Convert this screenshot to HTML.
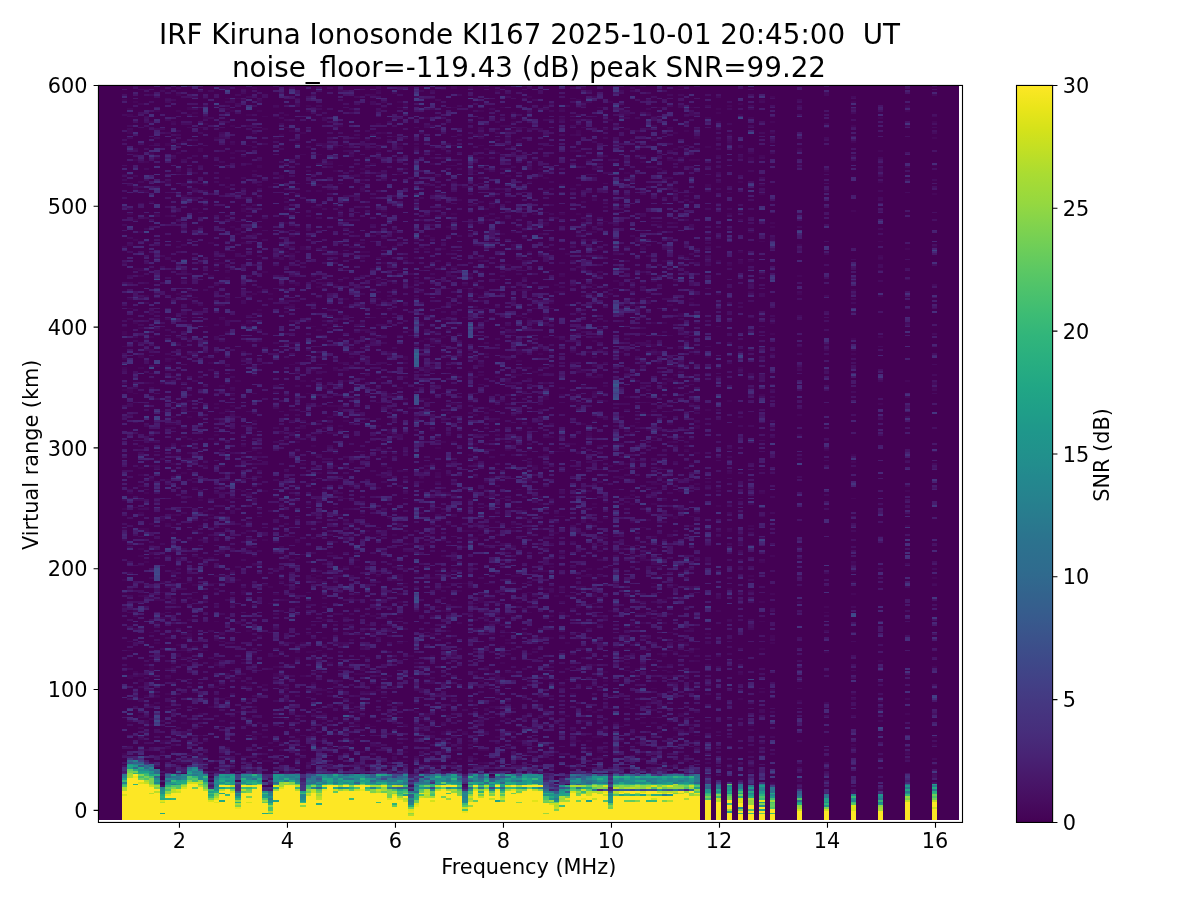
<!DOCTYPE html>
<html lang="en"><head><meta charset="utf-8"><title>IRF Kiruna Ionosonde KI167 ionogram</title>
<style>html,body{margin:0;padding:0;background:#fff}body{width:1200px;height:900px;overflow:hidden}svg{display:block}</style></head>
<body>
<svg width="1200" height="900" viewBox="0 0 1200 900">
<defs>
<clipPath id="ax"><rect x="98.45" y="85.45" width="864.05" height="737.0"/></clipPath>
<linearGradient id="vir" x1="0" y1="1" x2="0" y2="0"><stop offset="0" stop-color="#440154"/><stop offset="0.03" stop-color="#470d60"/><stop offset="0.06" stop-color="#48186a"/><stop offset="0.09" stop-color="#482374"/><stop offset="0.12" stop-color="#472d7b"/><stop offset="0.16" stop-color="#453781"/><stop offset="0.19" stop-color="#424086"/><stop offset="0.22" stop-color="#3e4989"/><stop offset="0.25" stop-color="#3b528b"/><stop offset="0.28" stop-color="#375b8d"/><stop offset="0.31" stop-color="#33638d"/><stop offset="0.34" stop-color="#2f6b8e"/><stop offset="0.38" stop-color="#2c728e"/><stop offset="0.41" stop-color="#297a8e"/><stop offset="0.44" stop-color="#26828e"/><stop offset="0.47" stop-color="#23898e"/><stop offset="0.5" stop-color="#21918c"/><stop offset="0.53" stop-color="#1f978b"/><stop offset="0.56" stop-color="#1f9f88"/><stop offset="0.59" stop-color="#21a685"/><stop offset="0.62" stop-color="#27ad81"/><stop offset="0.66" stop-color="#31b57b"/><stop offset="0.69" stop-color="#3dbc74"/><stop offset="0.72" stop-color="#4cc26c"/><stop offset="0.75" stop-color="#5cc863"/><stop offset="0.78" stop-color="#6ece58"/><stop offset="0.81" stop-color="#81d34d"/><stop offset="0.84" stop-color="#95d840"/><stop offset="0.88" stop-color="#aadc32"/><stop offset="0.91" stop-color="#c0df25"/><stop offset="0.94" stop-color="#d5e21a"/><stop offset="0.97" stop-color="#eae51a"/><stop offset="1" stop-color="#fde725"/></linearGradient>
</defs>
<rect width="1200" height="900" fill="#fff"/>
<g clip-path="url(#ax)" shape-rendering="crispEdges">
<rect x="98.45" y="83.45" width="860.4499999999999" height="736.3" fill="#440154"/>
<g transform="translate(121.9,818.84) scale(5.4,-1.81)" fill="none" stroke-width="1">
<path stroke="#46075a" d="M80 20h1M120 20h1M125 22h1M11 25h1M71 25h1M9 26h1M78 26h1M28 27h1M56 27h1M71 27h2M97 27h1M9 28h1M84 28h1M112 28h1M44 29h1M32 30h1M150 30h1M10 31h1M12 31h1M16 31h1M56 31h1M66 31h1M91 31h1M105 31h1M26 32h2M51 32h2M75 32h1M77 32h1M103 32h1M7 33h1M18 33h1M25 33h1M60 33h1M62 33h1M79 33h1M145 33h1M88 34h2M11 35h1M15 35h1M73 35h1M91 35h1M0 36h1M2 36h1M7 36h1M12 36h2M18 36h1M59 36h1M74 36h1M9 37h1M32 37h1M38 37h1M44 37h1M52 37h1M88 37h1M116 37h1M145 37h1M7 38h1M33 38h1M56 38h1M61 38h1M66 38h2M28 40h1M46 40h1M79 40h1M30 41h1M47 41h1M62 41h1M135 41h1M150 41h1M13 42h1M29 42h1M7 43h1M73 43h1M84 43h1M86 43h1M92 43h1M32 44h1M43 44h1M72 44h1M69 45h1M87 45h2M102 45h1M150 45h1M14 46h1M83 46h1M106 46h1M118 46h1M24 47h2M35 47h1M94 47h1M140 47h1M32 48h1M57 48h1M59 48h1M63 48h1M89 48h1M104 48h1M55 49h1M60 49h1M89 49h1M102 49h1M108 50h1M4 51h1M46 51h1M54 51h2M5 52h1M42 52h2M45 52h1M52 52h1M11 53h1M13 53h1M91 53h1M96 53h1M103 53h1M93 54h1M14 55h1M30 55h1M36 55h1M11 56h1M60 56h1M70 56h1M98 56h1M3 57h1M44 57h1M14 58h1M35 58h1M37 58h1M49 58h1M71 58h1M103 58h1M140 58h1M145 58h1M21 59h1M43 59h1M54 59h1M87 59h1M104 59h1M8 60h1M22 60h1M43 60h1M78 60h1M86 60h1M72 61h1M102 61h1M8 62h1M16 62h1M68 62h1M93 62h1M5 63h1M51 63h1M97 63h1M100 63h1M4 64h1M42 64h1M49 65h1M68 65h1M125 65h1M9 66h1M23 66h1M61 66h1M64 66h1M74 66h1M114 66h1M6 67h1M14 67h1M19 67h1M4 68h1M90 68h1M8 69h1M30 69h1M48 69h1M69 69h1M83 69h1M104 69h1M135 69h1M35 70h1M45 70h1M118 70h1M30 71h1M37 71h1M47 71h1M106 71h1M2 72h1M13 72h1M26 72h1M63 72h1M98 72h1M116 72h1M17 73h1M23 73h1M30 73h1M47 73h1M101 73h1M18 74h1M26 74h1M60 74h1M81 74h1M23 75h1M35 75h1M3 76h1M17 76h1M66 76h1M89 76h1M105 76h1M3 77h1M11 77h1M20 77h1M78 77h1M82 77h1M1 78h1M8 78h1M20 78h2M48 78h1M70 78h1M1 79h1M3 79h1M5 79h1M18 79h1M28 79h1M33 79h1M56 79h1M77 79h2M101 79h1M28 80h1M43 80h2M69 80h1M73 80h1M104 80h1M114 80h1M2 81h1M35 81h2M65 81h1M72 81h1M76 81h1M79 81h1M89 81h1M101 81h1M67 82h1M5 83h1M8 83h1M44 83h1M95 83h1M5 84h1M9 84h1M28 84h1M40 84h1M67 84h1M150 84h1M87 85h1M96 85h1M108 85h1M17 86h1M38 86h1M42 86h1M70 86h1M93 86h1M106 87h1M140 87h1M10 88h1M62 88h1M86 88h1M114 88h1M11 89h1M14 89h1M32 89h1M45 89h1M93 89h1M28 90h1M53 90h1M57 90h1M100 90h1M10 91h1M24 91h1M37 91h1M75 91h1M99 91h1M12 92h1M34 92h2M102 92h1M105 92h1M130 92h1M1 93h1M5 93h1M15 93h1M83 93h1M11 94h1M14 94h1M76 94h1M93 94h1M97 94h1M106 94h1M118 94h1M44 95h1M91 95h1M10 96h1M32 96h1M40 96h1M6 97h1M33 97h1M51 97h1M71 97h1M82 97h1M103 97h2M120 97h1M52 98h1M102 98h1M17 99h1M71 99h1M37 100h1M59 100h2M64 100h1M77 100h1M79 100h1M96 100h1M120 100h1M12 101h1M25 101h1M57 101h1M70 101h1M120 101h1M12 102h1M34 102h1M44 102h1M57 102h1M68 102h1M108 102h1M5 103h1M101 103h1M9 104h1M12 104h1M23 104h1M60 104h1M57 105h1M105 105h1M60 106h1M45 107h1M48 107h1M67 107h1M85 107h1M94 107h1M6 108h1M68 108h1M94 108h1M96 108h1M17 109h1M67 109h1M85 109h1M112 109h1M118 109h1M12 110h1M37 110h1M49 110h1M8 111h1M31 111h1M51 111h1M67 111h1M89 111h1M46 112h1M57 112h1M72 112h1M79 112h1M7 113h1M51 113h1M60 113h1M71 113h1M81 113h1M95 113h2M57 114h1M61 114h1M66 114h1M75 114h1M91 114h1M130 114h1M2 115h1M59 115h1M90 115h1M110 115h1M8 116h1M43 116h1M0 117h1M32 117h1M58 117h1M67 117h1M84 117h1M91 117h1M130 117h1M96 118h1M20 119h1M27 119h1M41 119h1M51 120h1M66 120h1M73 120h1M118 120h1M125 120h1M6 121h1M13 121h1M15 121h1M30 121h1M49 121h1M61 121h1M66 121h1M72 121h1M95 121h1M100 121h1M9 122h1M42 122h1M67 122h2M3 123h1M80 123h1M83 123h1M112 123h1M22 124h1M28 124h1M43 124h1M87 124h1M120 124h1M135 124h1M7 125h1M15 125h1M75 125h1M79 125h1M94 125h1M22 126h1M62 126h1M81 126h1M116 126h1M40 127h1M78 127h1M81 127h1M112 127h1M27 128h1M32 128h1M59 128h1M13 129h1M26 129h1M102 129h1M3 130h1M8 130h1M16 130h2M54 130h1M60 130h1M63 130h1M68 130h1M87 130h1M91 130h1M98 130h1M150 130h1M7 131h1M12 131h1M36 131h1M72 131h1M135 131h1M0 132h1M21 132h1M34 132h3M39 132h1M50 132h1M87 132h1M10 133h1M35 133h1M51 133h1M57 133h2M150 133h1M17 134h2M36 134h1M47 134h1M51 134h1M58 134h1M72 134h2M85 134h2M88 134h1M99 134h1M116 134h1M35 135h1M51 135h1M60 135h1M81 135h1M14 136h1M40 136h1M60 136h1M64 136h1M9 137h1M20 137h1M78 137h1M28 138h1M40 138h1M52 138h1M61 138h1M86 138h1M41 139h1M43 139h1M79 139h1M98 139h1M3 140h1M24 140h2M85 140h1M135 141h1M4 142h1M108 142h1M118 142h1M43 143h1M50 143h1M96 143h1M103 143h1M16 144h1M32 144h1M3 145h1M24 145h1M59 145h1M120 145h1M5 146h1M7 146h1M18 147h1M38 147h1M96 147h1M70 148h1M98 148h1M3 149h1M23 150h1M77 150h1M89 150h1M125 150h1M5 151h1M56 151h1M72 151h1M101 151h1M53 152h1M56 152h1M91 152h1M97 152h1M32 153h1M12 154h1M26 154h1M57 154h1M64 155h2M98 155h1M42 156h1M78 156h1M95 156h1M140 156h1M42 157h1M50 157h1M66 157h1M75 157h1M91 157h1M114 157h1M80 158h1M4 159h1M45 159h1M63 159h3M92 159h1M112 159h1M0 160h1M3 160h2M49 160h1M66 160h1M71 160h1M16 161h1M18 161h1M42 161h2M45 161h1M96 161h1M14 162h1M105 162h1M116 162h1M145 162h1M5 163h1M8 163h1M66 163h1M72 163h1M86 163h1M41 164h1M50 164h1M88 164h1M94 164h1M7 165h1M97 165h1M16 166h1M49 166h1M68 166h1M102 166h1M15 167h1M44 167h1M81 167h1M101 167h2M105 167h1M9 168h1M16 168h1M40 168h1M74 168h1M3 169h1M59 169h1M97 169h1M106 169h1M114 169h1M15 170h1M69 170h1M103 170h1M0 171h1M41 171h1M85 171h1M102 171h1M4 172h1M39 172h1M31 173h1M64 173h1M67 173h1M110 173h1M34 174h1M77 174h1M79 174h1M87 174h1M94 174h1M98 174h1M112 174h1M31 175h1M54 175h1M89 175h1M14 176h1M19 176h1M30 176h1M64 176h1M100 176h1M16 177h2M20 177h2M40 177h1M79 177h1M135 177h1M28 178h1M58 178h1M76 178h2M93 178h1M61 179h1M94 179h1M1 180h1M4 180h1M23 180h1M60 180h1M118 180h1M26 181h1M37 181h1M65 181h1M98 181h1M103 181h1M145 181h1M21 182h1M35 182h1M55 182h1M57 182h1M61 182h1M63 182h1M67 182h1M73 182h1M77 182h1M87 182h1M91 182h1M108 182h1M13 183h1M19 183h1M110 183h1M3 184h1M18 184h1M89 185h1M98 185h2M106 185h1M55 186h1M58 186h1M67 186h1M75 186h1M108 186h1M5 187h1M8 187h1M55 188h1M78 188h1M93 188h1M49 189h1M65 189h1M68 189h1M92 189h1M3 190h1M58 190h1M60 190h1M11 191h1M36 191h1M58 191h1M98 191h1M112 191h1M52 192h1M120 192h1M56 193h1M58 193h1M75 193h1M86 193h1M118 193h1M3 194h1M93 194h1M95 194h1M99 194h1M5 195h1M15 195h1M18 195h1M39 195h1M41 195h1M48 195h1M76 195h1M90 195h1M9 196h1M33 196h1M57 196h1M65 196h1M75 196h1M91 196h1M93 196h1M105 196h1M42 197h1M96 197h1M135 197h1M4 198h1M15 198h1M44 198h1M11 199h1M14 201h1M35 201h1M64 201h1M78 201h1M135 201h1M10 202h1M25 202h1M65 202h1M106 202h1M32 203h1M78 203h1M81 203h1M84 203h1M88 203h1M14 204h1M24 204h1M48 204h1M71 204h1M75 204h1M104 204h1M130 204h1M58 205h1M3 206h1M13 206h1M22 206h1M35 206h1M88 206h1M65 207h1M83 207h1M5 208h1M17 208h1M29 208h1M32 208h1M59 208h1M61 208h1M101 208h1M54 209h1M68 209h1M72 209h1M32 210h1M105 210h1M79 211h1M17 212h1M24 212h1M50 212h1M86 212h1M99 212h1M125 212h1M29 213h1M39 213h1M49 213h1M86 213h1M94 213h1M1 214h1M49 214h1M60 214h1M79 214h1M140 214h1M40 215h1M57 215h1M97 215h1M8 216h1M33 216h1M106 216h1M120 216h1M40 217h1M47 217h1M62 217h1M106 217h1M8 218h2M34 218h1M85 218h1M101 218h1M95 219h1M106 219h1M9 220h1M24 220h1M36 220h1M41 220h1M59 220h1M68 220h1M87 220h1M8 222h2M12 222h1M14 222h1M38 222h1M54 222h1M92 222h1M99 222h1M97 223h1M125 223h1M18 224h1M20 224h1M60 224h1M96 224h1M7 225h1M13 225h2M50 225h1M15 226h1M19 226h1M31 226h1M68 226h1M98 226h1M108 226h1M40 227h1M67 227h1M20 228h1M36 228h1M38 228h3M48 228h1M4 229h1M17 229h1M61 229h2M84 229h1M105 229h1M140 229h1M28 230h1M47 230h1M65 230h1M77 230h1M97 230h1M12 231h1M83 231h1M89 231h1M112 231h1M55 232h2M78 232h1M95 232h1M102 232h1M43 233h1M78 233h1M93 233h1M20 234h1M45 234h1M49 234h1M73 234h1M81 234h1M88 234h1M118 234h1M2 235h1M14 235h1M34 235h1M49 235h1M83 235h1M1 236h1M28 236h1M87 236h1M0 237h2M20 237h1M11 238h1M51 238h1M54 238h1M100 238h1M102 238h1M150 238h1M18 239h1M85 239h1M89 239h1M96 239h1M54 240h1M57 240h1M73 240h1M100 240h1M110 240h1M5 241h1M71 241h1M21 242h1M33 242h1M41 242h1M101 242h1M105 242h1M145 242h1M47 243h1M101 243h1M10 244h1M49 244h1M52 244h1M69 244h1M86 244h1M88 244h1M106 244h1M24 245h1M61 245h1M66 245h1M72 245h2M77 245h1M102 245h1M64 247h1M76 247h1M85 247h1M35 248h1M39 248h1M57 248h1M84 248h1M95 248h1M0 249h1M3 249h1M52 249h1M56 249h1M74 249h1M77 249h1M114 249h1M125 249h1M6 250h1M101 250h1M31 251h1M66 251h1M87 251h1M16 252h1M40 252h1M99 252h1M8 253h1M57 253h1M73 253h1M105 253h1M0 254h1M9 254h1M22 254h1M34 254h1M52 254h1M3 255h1M42 255h1M52 255h1M62 255h1M108 255h1M3 256h1M49 256h1M70 256h1M67 257h1M73 257h1M77 257h1M99 257h1M106 257h1M120 257h1M135 257h1M49 258h2M73 258h1M83 258h1M92 258h1M65 259h1M98 259h1M104 259h1M106 259h1M42 260h1M75 260h1M0 261h1M11 261h1M98 261h1M100 261h1M59 262h1M98 262h1M130 262h1M10 263h1M30 263h1M57 263h1M75 263h1M97 263h1M55 264h1M87 264h1M12 265h1M37 265h1M40 265h1M56 265h1M135 265h1M5 266h1M59 266h1M78 266h1M80 266h1M140 266h1M6 267h1M93 267h1M101 267h1M0 268h1M57 268h1M83 268h1M120 268h1M0 269h1M19 269h1M58 269h1M6 270h1M36 270h1M53 270h1M65 270h1M72 270h1M84 270h1M3 271h1M38 271h1M15 272h1M23 272h1M34 272h2M52 272h1M65 272h1M22 273h1M62 273h1M2 274h1M23 274h1M38 274h1M44 274h1M55 274h1M98 274h1M100 274h1M106 274h1M120 274h1M34 275h1M18 276h1M57 276h1M75 276h1M34 277h1M48 277h1M61 277h1M63 277h1M70 277h1M81 277h1M73 278h1M78 278h1M118 278h1M25 279h1M78 279h1M103 279h1M5 280h1M25 281h1M49 281h1M1 282h1M31 282h2M102 282h1M41 283h1M31 284h1M61 284h1M101 284h1M35 285h1M79 285h1M105 285h1M48 286h1M97 286h1M1 287h1M12 287h1M19 287h1M41 287h1M47 287h1M49 287h1M76 287h1M79 287h1M105 287h1M11 288h1M17 288h1M64 288h1M4 289h1M23 289h1M66 289h1M87 289h1M89 289h1M140 289h1M10 290h1M12 290h1M24 290h1M27 290h1M65 290h1M110 290h1M125 290h1M25 291h1M55 291h1M64 291h1M80 291h2M116 291h1M64 292h1M73 292h1M75 292h1M135 292h1M46 293h1M63 293h1M36 294h1M53 294h1M65 294h1M71 294h1M32 295h1M39 295h1M63 295h1M80 295h1M87 295h1M37 296h1M47 296h1M54 296h1M96 296h1M6 297h1M40 297h1M47 297h1M91 297h1M102 297h1M37 298h2M61 298h1M64 298h1M83 298h1M85 298h1M19 299h1M61 299h1M3 300h1M16 300h1M64 300h1M81 300h1M125 300h1M97 301h1M118 301h1M19 302h1M26 302h1M66 302h1M70 302h1M11 303h1M51 303h1M92 303h2M120 303h1M2 304h2M46 304h1M73 304h1M97 304h1M17 305h1M57 305h1M61 305h1M71 306h1M112 306h1M14 307h1M17 307h2M48 307h1M108 307h1M114 307h1M25 308h1M100 308h1M110 308h1M114 308h1M116 308h1M26 309h1M34 309h1M39 309h1M140 309h1M44 310h1M47 310h1M66 310h1M73 310h1M75 310h1M48 311h1M85 311h1M140 311h1M31 312h1M40 312h1M82 312h1M30 313h1M44 313h2M75 313h1M91 313h1M114 313h1M38 314h1M50 314h1M79 314h1M29 315h1M33 315h1M37 315h1M56 315h1M59 315h1M88 315h1M145 315h1M33 316h1M48 316h1M72 316h1M96 316h1M150 316h1M83 317h1M125 317h1M16 318h1M22 318h1M43 318h2M102 319h1M118 319h1M140 319h1M2 320h1M54 320h1M68 320h1M86 320h1M57 321h1M31 322h1M21 323h1M24 323h1M70 323h1M77 323h1M84 323h2M108 323h1M3 324h1M50 324h1M72 324h1M86 324h2M99 324h1M116 324h1M21 325h1M74 325h1M89 325h1M14 327h1M20 327h1M32 327h1M60 327h1M73 327h1M76 327h1M120 327h1M78 328h1M86 328h1M99 328h1M30 329h1M102 329h1M120 329h1M14 330h1M22 330h1M89 330h1M2 331h1M41 331h1M67 331h1M78 331h1M39 332h1M8 333h1M30 333h1M56 333h1M59 333h1M67 333h1M1 334h1M6 334h1M48 334h1M61 334h1M76 334h1M81 334h1M84 334h1M112 334h1M125 334h1M23 335h1M64 335h1M78 335h1M99 335h1M22 336h1M40 336h1M48 336h1M77 336h1M135 336h1M13 337h1M22 337h1M23 338h1M35 338h2M40 338h1M68 338h1M110 338h1M65 339h1M68 339h1M92 339h1M5 341h1M68 341h1M89 341h1M62 342h1M25 343h1M30 343h1M87 343h1M11 344h1M93 344h1M118 345h1M150 345h1M13 346h1M70 346h1M73 346h1M105 346h1M112 346h1M4 347h1M36 347h1M44 347h1M2 348h1M12 348h1M68 348h1M102 348h1M19 349h1M27 349h1M44 349h1M63 349h1M108 349h1M15 350h1M25 350h1M36 350h1M54 350h1M81 350h1M108 350h1M118 350h1M13 351h1M105 351h1M8 352h1M61 352h1M75 352h1M114 352h1M140 352h1M92 353h1M19 354h1M29 354h1M76 354h1M78 354h1M100 354h1M29 355h1M45 355h1M71 355h1M0 356h1M43 356h1M51 356h1M81 356h1M99 356h1M77 357h1M93 357h1M10 358h1M24 358h1M39 358h1M65 358h1M72 358h1M130 358h1M44 359h1M77 359h1M105 359h1M19 360h1M25 360h1M87 360h1M25 361h1M40 361h1M60 361h1M150 361h1M46 362h1M57 362h1M125 362h1M140 362h1M4 363h1M38 363h1M96 363h1M103 363h1M2 364h1M50 364h1M74 364h1M76 364h1M86 364h1M101 364h1M105 364h2M116 364h1M6 365h1M57 365h1M65 365h2M88 365h1M95 365h1M114 365h1M116 365h1M96 366h1M104 366h1M118 366h1M2 367h1M33 367h1M36 367h1M5 368h1M10 368h1M20 368h1M60 368h1M69 368h1M116 368h1M14 369h1M57 369h1M83 369h1M140 369h1M14 370h1M45 370h1M47 370h1M67 370h1M92 370h1M102 370h1M125 370h1M39 371h1M41 371h1M47 371h1M51 371h1M54 371h1M57 371h1M108 371h1M8 372h1M23 372h1M29 372h1M66 372h1M8 373h1M20 373h1M37 373h1M41 373h1M51 373h1M112 373h1M11 374h1M56 374h1M135 374h1M38 375h1M41 375h1M45 375h1M73 375h1M110 375h1M17 376h1M28 376h1M98 376h1M106 376h1M150 376h1M50 377h1M106 377h1M29 378h1M66 378h1M83 378h1M112 378h1M1 379h1M33 379h1M48 379h1M66 379h1M84 379h1M102 379h1M120 379h1M1 380h1M31 380h1M71 380h2M84 380h1M104 380h1M26 381h1M58 381h1M93 381h1M101 381h1M87 382h1M20 383h1M40 383h1M70 383h2M100 383h1M135 383h1M15 384h1M47 384h1M5 385h1M9 385h1M72 385h1M110 385h1M120 385h1M150 385h1M83 386h1M89 386h2M15 387h1M56 387h1M81 387h1M99 387h1M108 387h1M116 387h1M140 387h1M26 388h1M98 388h1M1 389h1M23 389h1M30 389h1M93 389h1M114 389h1M13 390h1M72 390h1M97 390h1M110 390h1M6 391h1M10 391h1M20 391h1M25 391h1M34 391h1M66 391h1M145 391h1M1 392h1M12 392h1M19 392h1M81 392h1M110 392h1M12 393h1M28 393h1M48 393h1M61 393h1M70 393h1M84 393h1M88 393h1M99 393h1M105 393h1M17 394h1M34 394h1M52 394h1M78 394h1M112 394h1M145 394h1M3 395h1M52 395h1M114 395h1M2 396h1M25 396h1M51 396h1M85 396h1M90 396h1M135 396h1M0 397h1M84 397h1M118 397h1M15 398h1M19 398h1M21 398h1M75 399h1M120 399h1M10 400h1M46 400h1M47 402h1M69 402h1M4 403h1M59 403h1M99 403h1M103 403h1M24 404h1M61 404h1M64 404h1M85 404h1M18 405h1M47 405h1M61 405h1M64 405h1M66 405h1M103 405h1"/>
<path stroke="#460b5e" d="M140 16h1M53 18h1M63 18h1M125 21h1M27 22h1M81 23h1M108 24h1M41 25h1M77 25h1M104 25h1M150 25h1M8 26h1M31 26h1M34 26h2M50 26h1M60 26h1M62 26h1M76 26h1M97 26h1M116 26h1M8 27h2M24 27h1M51 27h1M116 27h1M20 28h1M37 28h1M54 28h1M86 28h1M100 28h1M125 28h1M25 29h1M32 29h1M57 29h2M64 29h1M69 29h1M101 29h1M116 29h1M19 30h1M34 30h1M37 30h1M42 30h1M55 30h1M86 30h1M98 30h1M102 30h1M112 30h1M114 30h1M11 31h1M34 31h1M67 31h1M108 31h1M130 31h1M22 32h1M29 32h1M57 32h2M104 32h1M8 33h1M28 33h1M50 33h1M65 33h1M96 33h1M99 33h1M150 33h1M14 34h2M22 34h1M50 34h1M54 34h1M56 34h1M64 34h1M104 34h1M6 35h1M32 35h1M94 35h1M118 35h1M26 36h1M50 36h1M55 36h1M79 36h1M81 36h1M95 36h1M120 36h1M145 36h1M59 37h1M70 37h1M4 38h1M29 38h1M59 38h1M62 38h1M75 38h1M85 38h1M88 38h1M99 38h1M118 38h1M8 39h1M19 39h1M36 39h1M38 39h1M71 39h1M86 39h1M89 39h1M94 39h1M106 39h1M135 39h1M26 40h1M47 40h1M54 40h1M61 40h1M76 40h1M83 40h1M88 40h1M92 40h1M103 40h1M9 41h1M46 41h1M64 41h1M74 41h1M7 42h1M27 42h1M32 42h1M42 42h1M51 42h1M56 42h1M65 42h1M69 42h1M95 42h1M118 42h1M8 43h1M15 43h1M36 43h1M64 43h1M83 43h1M106 43h1M125 43h1M3 44h1M59 44h1M13 45h1M24 45h1M26 45h1M57 45h1M61 45h1M65 45h1M120 45h1M33 46h1M57 46h1M81 46h1M85 46h1M88 46h1M11 47h1M39 47h1M59 47h1M63 47h1M12 48h1M41 48h1M67 48h1M72 48h1M99 48h1M105 48h1M110 48h1M35 49h1M83 49h1M88 49h1M103 49h1M105 49h1M116 49h1M3 50h1M10 50h1M31 50h1M20 51h1M57 51h1M73 51h1M92 51h1M23 52h1M54 52h1M78 52h1M100 52h1M105 52h1M116 52h1M4 53h1M25 53h1M37 53h1M50 53h1M59 53h1M66 53h1M98 53h1M1 54h1M4 54h1M7 54h1M18 54h1M41 54h1M43 54h1M56 54h1M85 54h2M88 54h1M101 54h1M108 54h1M140 54h1M5 55h1M23 55h1M55 55h1M66 55h1M71 55h1M74 55h1M112 55h1M3 56h2M24 56h1M41 56h1M104 56h1M20 57h1M33 57h1M56 57h1M60 57h1M66 57h1M77 57h2M82 57h1M103 57h1M135 57h1M56 58h1M81 58h1M9 59h1M106 59h1M118 59h1M120 59h1M63 60h1M67 60h1M98 60h1M118 60h1M31 61h1M50 61h1M67 61h1M89 61h2M24 62h1M38 62h1M69 62h1M77 62h1M99 62h1M40 63h1M89 63h1M95 63h1M112 63h1M6 64h1M54 64h1M97 64h1M130 64h1M3 65h1M28 65h1M30 65h1M71 65h1M98 65h1M140 65h1M3 66h1M18 66h1M98 66h1M135 66h1M145 66h1M12 67h1M17 67h1M57 67h1M77 67h1M96 67h1M140 67h1M6 68h1M24 68h1M32 68h1M38 68h1M43 68h1M79 68h1M99 68h1M110 68h1M20 69h1M29 69h1M36 69h1M58 69h1M108 69h1M38 70h1M44 70h1M46 70h1M35 71h2M54 71h2M88 71h1M120 71h1M36 72h1M50 72h1M55 72h1M118 72h1M125 72h1M150 72h1M3 73h1M39 73h2M50 73h1M29 74h1M70 74h1M106 74h1M39 75h1M56 75h2M69 75h1M101 75h2M40 76h1M57 76h1M98 76h1M30 77h1M56 77h1M69 77h1M80 77h1M84 77h1M4 78h1M53 78h1M57 78h1M69 78h1M74 78h1M78 78h1M2 79h1M8 79h1M29 79h1M31 79h1M47 79h1M49 79h1M69 79h1M100 79h1M104 79h1M3 80h1M19 80h1M22 80h1M71 81h1M114 81h1M5 82h1M44 82h1M93 82h1M100 82h1M104 82h1M135 82h1M1 83h1M24 83h1M27 83h1M55 83h1M74 83h1M82 83h1M18 84h1M41 84h1M79 84h1M83 84h1M93 84h1M100 84h1M110 84h1M4 85h1M11 85h1M17 85h1M31 85h1M101 85h1M22 86h1M54 86h1M79 86h1M105 87h1M0 88h1M5 88h1M17 88h1M32 88h1M35 88h2M49 88h1M54 88h1M98 88h1M16 89h1M35 89h1M49 89h1M85 89h1M10 90h1M27 90h1M61 90h1M103 90h1M106 90h1M110 90h1M27 91h1M70 91h2M83 91h1M94 91h1M112 91h1M32 92h1M76 92h1M86 92h1M10 93h2M14 93h1M32 93h1M36 93h1M81 93h1M95 93h1M101 93h1M105 93h1M7 94h1M24 94h1M44 94h1M62 94h1M72 94h1M85 94h1M13 95h1M33 95h1M70 95h1M29 96h1M37 96h1M19 97h2M31 97h1M39 97h3M49 97h1M92 97h1M101 97h1M108 97h1M1 98h1M18 98h1M108 98h1M135 98h1M42 99h1M68 99h1M103 99h1M120 99h1M8 100h1M11 100h1M47 100h1M93 100h1M97 100h1M81 101h1M18 102h1M46 102h1M74 102h1M18 103h1M27 103h1M48 103h1M71 103h1M74 103h1M84 103h1M16 104h1M39 104h1M44 104h1M46 104h1M50 104h1M70 104h1M104 104h2M130 104h1M2 105h1M10 105h1M28 105h1M49 105h1M52 105h1M65 105h1M77 105h1M86 105h1M116 105h1M93 106h1M35 107h1M41 107h2M70 107h2M88 107h1M21 108h1M62 108h1M69 108h1M100 108h1M21 109h2M24 109h1M50 109h1M86 109h1M65 110h1M112 110h1M116 110h1M7 111h1M41 111h1M48 111h1M98 111h1M2 112h1M67 112h1M88 112h1M130 112h1M18 113h1M28 113h1M39 113h2M42 113h1M47 113h1M64 113h1M69 113h1M101 113h1M1 114h1M10 114h1M67 114h1M79 114h1M81 114h1M86 114h1M125 114h1M29 115h1M54 115h1M93 115h1M83 116h1M86 116h1M120 116h1M37 117h1M49 117h1M56 117h1M87 117h1M104 117h1M135 117h1M17 118h1M20 118h1M34 118h1M60 118h1M64 118h1M76 118h1M8 119h1M37 119h1M65 119h1M70 119h1M87 119h1M99 119h1M9 120h1M69 120h1M81 120h1M96 120h1M98 120h1M7 121h1M19 121h1M29 121h1M43 121h1M103 121h1M5 122h1M12 122h1M37 122h1M59 122h1M66 122h1M85 122h1M101 122h1M110 122h1M1 123h1M4 123h1M76 123h1M82 123h1M87 123h1M110 123h1M20 124h1M51 124h1M66 124h1M96 124h1M17 125h1M22 125h1M34 125h1M40 125h1M45 125h1M49 125h1M114 125h1M59 126h1M79 126h1M85 126h1M94 126h1M1 127h1M10 127h2M17 127h1M37 127h1M58 127h1M79 127h1M8 128h2M22 128h1M54 128h1M60 128h1M64 128h1M77 128h1M84 128h2M98 128h1M101 128h1M105 128h1M145 128h1M30 129h1M51 129h1M150 129h1M9 130h1M11 130h1M24 130h1M52 130h1M67 130h1M77 130h1M29 131h1M47 131h1M75 131h1M9 132h1M116 132h1M5 133h1M29 133h1M34 133h1M39 133h1M62 133h1M66 133h1M34 134h1M39 134h2M42 134h1M125 134h1M9 135h1M29 135h1M84 135h1M86 135h1M97 135h1M118 135h1M1 136h1M9 136h1M54 136h1M103 136h1M130 136h1M36 137h1M49 137h1M58 137h1M62 137h1M76 137h2M135 137h1M10 138h1M88 138h1M104 138h1M140 138h1M150 138h1M21 139h1M50 139h2M64 139h1M83 139h1M99 139h1M114 139h1M15 140h1M69 140h1M71 140h1M77 140h1M103 140h1M15 141h1M24 141h1M37 141h1M79 141h1M98 141h2M145 141h1M98 142h1M135 142h1M22 143h1M31 143h1M61 143h1M88 143h1M94 143h1M97 143h1M108 143h1M114 143h1M118 143h1M6 144h1M10 144h1M14 144h1M61 144h1M96 144h1M106 144h1M108 144h1M8 145h1M13 145h1M38 145h2M48 145h1M81 145h1M91 145h1M94 145h1M33 146h1M5 147h1M22 147h1M28 147h1M35 147h1M61 147h1M81 147h1M9 148h1M18 148h1M25 148h1M48 148h1M52 148h3M88 148h1M97 148h1M114 148h1M11 149h1M20 149h1M71 149h1M92 149h1M1 150h1M24 150h1M29 150h1M63 150h1M67 150h1M72 150h1M74 150h1M34 151h1M62 151h1M66 151h1M88 151h1M93 151h1M99 151h1M105 151h1M108 151h1M7 152h1M70 152h1M79 152h1M112 152h1M114 152h1M28 153h1M39 153h1M83 153h1M114 153h1M0 154h1M14 154h1M32 154h1M41 154h1M59 154h1M100 154h1M17 155h1M23 155h1M35 155h1M79 155h1M88 155h2M108 155h1M118 155h1M3 156h1M31 156h1M40 156h1M47 156h1M83 156h1M88 156h1M98 156h1M101 156h1M110 156h1M16 157h1M38 157h1M56 157h1M69 157h1M89 157h1M101 157h1M9 158h1M14 158h1M22 158h1M47 158h1M79 158h1M84 158h1M116 158h1M13 159h1M23 159h1M52 159h1M72 159h1M75 159h1M102 159h1M110 159h1M135 159h1M37 160h1M75 160h1M77 160h1M112 160h1M116 160h1M28 161h1M47 161h1M57 161h1M72 161h1M91 161h1M8 162h1M22 162h1M51 162h1M83 162h1M21 163h1M30 163h1M45 163h1M51 163h1M60 163h1M65 163h1M77 163h1M23 164h1M36 164h1M69 164h1M80 164h1M85 164h1M100 164h1M15 165h1M75 165h1M85 165h1M7 166h1M89 166h1M19 167h1M25 167h1M32 167h1M36 167h1M61 167h1M64 167h1M73 167h1M80 167h1M118 167h1M10 168h1M35 168h1M58 168h1M61 168h1M11 169h1M20 169h1M44 169h1M55 169h1M80 169h1M112 169h1M120 169h1M20 170h1M27 170h1M48 170h1M50 170h1M57 170h1M74 170h1M3 171h2M25 171h1M42 171h1M2 172h1M20 172h1M73 172h1M83 172h1M85 172h1M87 172h1M44 173h1M29 174h1M92 174h1M116 174h1M6 175h1M24 175h1M93 175h1M0 176h1M2 176h2M24 176h1M36 176h1M76 176h1M11 177h1M31 177h1M41 177h1M61 177h2M70 177h1M114 177h1M12 178h1M14 178h1M20 178h1M40 178h1M67 178h1M74 178h1M83 178h1M88 178h1M98 178h1M120 178h1M23 179h1M32 179h1M68 179h1M130 179h1M17 180h2M39 180h2M52 180h1M59 180h1M81 180h1M101 180h1M22 181h1M81 181h1M86 181h1M99 181h1M110 181h1M118 181h1M1 182h1M20 182h1M31 182h1M116 182h1M47 183h1M85 183h1M97 183h2M106 183h1M32 184h1M42 184h1M51 184h1M69 184h1M108 184h1M145 184h1M30 185h1M34 185h1M43 185h1M87 185h1M13 186h1M21 186h1M48 186h1M61 186h1M88 186h1M97 186h2M100 186h1M12 187h1M19 187h1M28 187h1M35 187h1M39 187h1M52 187h1M69 187h1M75 187h1M105 187h1M5 188h1M92 188h1M112 188h1M25 189h1M40 189h1M48 189h1M55 189h1M58 189h1M74 189h1M91 189h1M99 189h2M125 189h1M10 190h1M47 190h2M70 190h1M93 190h1M25 192h1M30 192h1M38 192h1M46 192h1M49 192h1M51 192h1M56 192h1M112 192h1M9 193h1M40 193h1M69 193h1M76 193h1M92 193h1M6 194h1M49 194h1M76 194h1M6 195h1M56 195h1M24 196h3M78 196h1M150 196h1M26 197h1M61 197h1M75 197h1M86 197h2M94 197h1M102 197h1M6 198h1M22 198h2M42 198h1M95 198h1M98 198h1M110 198h1M130 198h1M145 198h1M7 199h1M12 199h2M37 199h2M75 199h1M89 199h1M98 199h1M125 199h1M25 200h1M41 200h1M48 200h1M68 200h1M92 200h1M112 200h1M36 201h1M70 201h1M72 201h1M74 201h1M3 202h1M12 202h1M20 202h1M39 202h1M52 202h1M84 202h1M19 203h1M23 203h1M31 203h1M44 203h1M80 203h1M100 203h1M104 203h1M150 203h1M18 204h1M67 204h2M47 205h1M81 205h1M112 205h1M11 206h1M38 206h1M102 206h1M104 206h1M9 207h1M67 207h1M75 207h1M82 207h1M91 207h2M6 208h1M28 208h1M58 208h1M71 208h1M102 208h1M104 208h1M10 209h1M13 209h1M46 209h1M98 209h1M118 209h1M130 209h1M12 210h1M14 210h1M16 210h1M30 210h1M11 211h1M34 211h1M51 211h1M58 211h1M78 211h1M86 211h1M98 211h1M103 211h1M120 211h1M22 212h1M48 212h1M51 212h1M60 212h1M66 212h1M69 212h1M81 212h1M31 213h1M38 213h1M52 213h1M6 214h1M69 214h1M49 215h1M73 215h1M93 215h1M99 215h1M101 215h1M105 215h1M9 216h1M11 216h1M24 216h1M28 216h1M37 216h1M75 216h1M95 216h1M4 217h1M23 217h1M33 217h1M38 217h1M91 217h1M94 217h1M114 217h1M116 217h1M42 218h1M74 218h1M79 218h1M2 219h1M38 219h1M44 219h1M76 219h1M18 220h1M31 220h1M33 220h1M106 220h1M120 220h1M45 221h1M47 221h1M68 221h2M77 221h1M89 221h1M21 222h1M59 222h1M88 222h1M100 222h1M114 222h1M140 222h1M145 222h1M1 223h1M20 223h1M32 223h1M65 223h1M72 223h1M24 224h1M39 224h1M43 224h1M64 224h1M67 224h1M106 224h1M11 225h2M23 225h1M29 225h1M51 225h1M88 225h1M101 225h1M104 225h1M114 225h1M40 226h1M43 226h1M77 226h1M93 226h1M106 226h1M110 226h1M11 227h1M17 227h1M28 227h1M49 227h1M53 227h1M65 227h1M84 227h1M91 227h1M1 228h1M100 228h1M1 229h1M34 229h1M60 229h1M71 229h1M77 229h1M92 229h2M81 230h1M96 230h1M64 231h1M70 231h1M6 232h1M52 232h1M38 233h1M97 233h1M120 233h1M145 233h1M12 234h1M30 234h1M51 234h1M71 234h1M87 234h1M24 235h1M64 235h1M87 235h1M104 235h1M150 235h1M74 236h1M135 236h1M38 237h1M73 237h1M97 237h1M120 237h1M150 237h1M2 238h1M5 238h1M20 238h1M37 238h1M78 238h1M81 238h1M116 238h1M28 239h1M32 239h1M37 239h1M43 239h1M75 239h1M8 240h1M50 240h1M53 240h1M66 240h1M105 240h1M120 240h1M150 240h1M0 241h1M4 241h1M7 241h1M19 241h1M72 241h1M78 241h1M100 241h1M150 241h1M8 242h1M13 242h1M35 242h1M71 242h1M95 242h1M102 242h1M140 242h1M75 243h1M20 244h1M65 244h1M87 244h1M110 244h1M45 245h1M55 245h1M88 245h1M116 245h1M150 245h1M5 246h1M36 246h1M79 246h1M93 246h1M116 246h1M32 247h1M36 247h2M56 247h1M66 247h1M84 247h1M103 247h1M114 247h1M0 248h1M16 248h1M41 248h1M56 248h1M93 248h1M125 248h1M130 248h1M39 249h1M60 249h1M75 249h1M84 249h1M93 249h1M96 249h1M103 249h1M110 249h1M8 250h1M19 250h1M42 250h1M57 250h1M66 250h1M87 250h1M102 250h1M25 251h1M36 251h2M43 251h1M47 251h1M61 251h1M79 251h1M150 251h1M32 252h1M41 252h1M47 252h2M52 252h1M60 252h1M66 252h1M83 252h1M89 252h1M96 252h1M103 252h1M112 252h1M8 254h1M45 254h1M64 254h1M71 254h1M101 254h1M118 254h1M15 255h1M36 255h1M60 255h1M87 255h1M95 255h1M55 256h1M59 256h1M61 256h1M8 257h1M12 257h1M64 257h1M98 257h1M125 257h1M13 258h1M17 258h1M22 258h1M41 258h2M59 258h1M74 258h1M79 258h1M86 258h1M99 258h1M114 258h1M4 259h2M34 259h1M73 259h1M88 259h1M116 259h1M130 259h1M135 259h1M26 260h1M50 260h1M77 260h1M103 260h1M76 261h1M108 261h1M125 261h1M140 261h1M15 262h1M96 262h1M28 263h1M31 263h1M48 263h1M58 263h1M67 263h1M95 263h2M112 263h1M2 264h1M18 264h1M23 264h1M25 264h1M46 264h1M57 264h1M62 264h1M72 264h1M97 264h1M104 264h1M4 265h1M17 265h1M42 265h1M58 265h1M69 265h1M81 265h1M93 265h1M2 266h1M10 266h1M17 266h1M47 266h1M87 266h2M104 266h1M36 267h1M46 267h1M48 267h1M51 267h1M60 267h1M88 267h1M4 268h1M62 268h1M96 268h1M150 268h1M43 269h1M45 269h2M71 269h2M85 269h1M100 269h1M103 269h1M105 269h1M8 270h1M25 270h1M44 270h2M60 270h1M116 270h1M70 271h1M96 271h1M0 272h1M60 272h1M79 272h1M88 272h1M110 272h1M118 272h1M3 273h1M17 273h1M19 273h1M43 273h2M47 273h2M71 273h1M78 273h1M19 274h1M76 274h1M145 274h1M19 275h1M23 275h1M31 275h1M37 275h1M39 275h1M61 275h1M67 275h1M89 275h1M1 276h1M6 276h1M8 276h1M40 276h1M59 276h1M65 276h1M103 276h1M120 276h1M18 277h1M41 277h1M46 277h1M68 277h1M74 277h1M79 277h1M116 277h1M23 278h1M41 278h1M103 278h1M120 278h1M125 278h1M5 279h1M11 279h1M40 279h1M61 279h1M11 280h1M30 280h1M59 280h1M75 280h1M84 280h1M135 280h1M38 281h1M47 282h1M67 282h1M76 282h1M79 282h1M92 282h1M96 282h1M30 283h2M43 283h1M65 283h1M69 283h1M114 283h1M14 284h1M17 284h2M52 284h1M82 284h1M94 284h1M4 285h1M13 285h1M22 285h1M97 285h1M110 285h1M112 285h1M114 285h1M135 285h1M19 286h1M22 286h1M30 286h1M32 286h1M64 286h1M66 286h1M72 286h1M9 287h1M27 287h1M50 287h1M94 287h1M96 287h1M100 287h2M135 287h1M3 288h1M13 288h1M36 288h1M62 288h1M19 289h1M49 289h1M54 289h1M85 289h1M118 289h1M130 289h1M6 290h1M44 290h1M90 290h1M118 290h1M47 291h1M125 291h1M12 292h1M15 292h1M43 292h1M74 292h1M90 292h1M29 293h1M43 293h2M52 293h1M60 293h1M66 293h1M87 293h1M96 293h1M25 294h1M66 294h1M81 294h1M89 294h1M94 294h1M99 294h1M17 295h1M22 295h1M29 295h1M83 295h1M85 295h1M92 295h1M150 295h1M1 296h1M4 296h1M31 296h2M36 296h1M50 296h1M92 296h1M116 296h1M11 297h1M54 297h1M98 297h1M140 297h1M46 298h1M56 298h1M69 298h1M108 298h1M145 298h1M41 299h1M57 299h1M74 299h1M87 299h1M1 300h1M23 300h1M29 300h1M31 300h1M35 300h1M44 300h1M60 300h2M70 300h1M88 300h1M12 301h1M49 301h1M53 301h1M57 301h1M60 301h1M64 301h1M73 301h1M81 301h1M11 302h1M88 302h1M96 302h1M3 303h1M19 303h1M25 303h1M79 303h1M83 303h1M86 303h1M140 303h1M9 304h1M85 304h1M116 304h1M7 305h1M84 305h2M140 305h1M49 306h1M108 306h1M140 306h1M0 307h1M81 307h1M106 307h1M112 307h1M52 308h1M58 308h1M66 308h1M74 308h1M83 308h1M93 308h1M8 309h1M15 309h1M19 309h2M29 309h1M31 309h1M42 309h1M73 309h1M103 309h1M135 309h1M8 310h1M28 310h2M31 310h1M52 310h1M54 310h1M65 310h1M98 310h1M104 310h1M108 310h1M140 310h1M7 311h1M21 311h1M25 311h1M77 311h1M88 311h1M97 311h1M103 311h1M108 311h1M18 312h1M21 312h1M60 312h1M91 312h1M105 312h1M130 312h1M32 313h1M58 314h1M61 314h1M89 314h1M72 315h1M87 315h1M96 315h1M100 315h1M106 315h1M0 316h1M10 316h1M31 316h1M42 316h2M50 316h1M55 316h1M93 316h1M108 316h1M110 316h1M1 317h1M11 317h1M65 317h1M72 317h1M97 317h1M40 318h1M51 318h1M59 318h1M96 318h1M108 318h1M4 319h1M31 319h1M72 319h1M95 319h1M26 320h1M95 320h1M101 320h1M120 320h1M1 321h1M48 321h1M74 321h1M95 321h1M120 321h1M34 322h1M46 322h1M56 322h1M62 322h1M94 322h1M47 323h1M64 323h1M67 323h1M32 324h1M69 324h1M26 325h1M29 325h1M34 325h1M36 325h1M69 325h1M81 325h1M84 325h1M88 325h1M4 326h1M11 326h1M21 326h1M34 326h1M85 326h1M87 326h1M112 326h1M140 326h1M25 327h1M105 327h1M125 327h1M0 328h1M46 328h1M57 328h1M88 328h1M91 328h1M105 328h1M64 329h1M78 329h1M90 329h1M101 329h1M10 330h1M21 330h1M31 330h1M40 330h1M56 330h1M86 330h1M98 330h2M17 331h1M20 331h1M42 331h2M55 331h1M61 331h1M104 331h1M114 331h1M4 332h1M26 332h1M36 332h1M69 332h1M71 332h1M80 332h1M86 332h1M88 332h1M6 333h1M34 333h1M40 333h1M58 333h1M96 333h1M68 334h1M74 334h1M79 334h1M86 334h1M96 334h1M14 335h1M34 335h1M45 335h1M71 335h1M91 335h1M104 335h1M31 336h1M57 336h1M114 336h1M1 337h1M37 337h1M67 337h1M92 337h1M108 337h1M112 337h1M30 338h1M44 338h1M59 338h1M89 338h1M15 339h1M24 339h1M39 339h1M64 339h1M79 339h1M3 340h1M69 340h1M110 340h1M30 341h1M34 341h1M41 341h1M54 341h1M66 341h1M71 341h1M85 341h1M105 341h1M15 342h1M87 342h1M104 342h1M140 342h1M13 343h1M22 343h1M43 343h1M46 343h1M55 343h1M93 343h1M140 343h1M41 344h1M102 344h1M104 344h1M21 345h1M32 345h1M58 345h2M64 345h1M96 345h1M2 346h1M88 346h1M145 346h1M3 347h1M15 347h1M34 347h1M78 347h1M108 347h1M118 347h1M130 347h1M140 347h1M13 348h1M22 348h1M25 348h1M38 348h1M44 348h1M70 348h1M79 348h1M83 348h1M110 348h1M2 349h2M101 349h1M1 350h1M11 350h1M56 350h1M84 350h1M8 351h1M11 351h1M14 351h1M24 351h1M32 351h1M40 351h1M44 351h1M66 351h1M89 351h1M99 351h1M3 352h1M17 352h1M79 352h1M94 352h1M110 352h1M0 353h1M44 353h1M48 353h1M150 353h1M22 354h1M66 354h1M93 354h1M101 354h1M118 354h1M2 355h1M24 355h1M42 355h2M58 355h1M140 355h1M1 356h1M11 356h1M15 356h1M28 356h1M65 356h1M77 356h1M86 356h2M94 356h1M13 357h1M44 357h1M47 357h2M78 357h1M89 357h2M110 357h1M34 358h1M51 358h1M68 358h1M79 358h1M100 358h1M116 358h1M140 358h1M4 359h1M10 359h1M52 359h1M62 359h1M70 359h1M75 359h1M87 359h2M99 359h1M140 359h1M38 360h1M45 360h1M72 360h1M75 360h1M85 360h1M97 360h2M125 360h1M145 360h1M14 361h1M22 361h1M61 361h1M64 361h1M110 361h1M23 362h1M36 362h1M38 362h1M88 362h1M3 363h1M18 363h1M45 363h1M71 363h1M11 364h1M25 364h1M62 364h1M90 364h1M102 364h1M9 365h1M15 365h1M20 365h1M59 365h1M103 365h1M118 365h1M140 365h1M13 366h1M22 366h1M42 366h1M70 366h1M89 366h1M110 366h1M114 366h1M135 366h1M42 367h1M67 367h1M74 367h1M78 367h1M47 368h1M120 368h1M21 369h1M41 369h2M68 369h1M84 369h1M101 369h1M125 369h1M2 370h1M29 370h1M51 370h1M54 370h1M59 370h1M106 370h1M110 370h1M24 371h1M34 371h1M37 371h1M103 371h1M114 371h1M5 372h1M37 372h1M44 372h1M61 372h1M95 372h1M97 372h1M104 372h1M114 372h1M6 373h1M10 373h1M26 373h1M32 373h1M36 373h1M38 373h1M54 373h1M60 373h1M20 374h1M87 374h1M112 374h1M120 374h1M13 375h1M32 375h1M49 375h1M69 375h1M71 375h1M94 375h1M98 375h1M1 376h1M6 376h1M18 376h1M43 376h1M52 376h1M66 376h1M71 376h1M89 376h1M130 376h1M51 377h1M10 378h1M43 378h1M46 378h1M62 378h1M65 378h1M81 378h1M84 378h1M8 379h1M14 379h1M18 379h1M24 379h1M47 379h1M55 379h1M69 379h1M118 379h1M150 379h1M10 380h1M45 380h1M95 380h1M1 381h1M6 381h2M66 381h1M73 381h1M75 381h1M77 381h1M89 381h1M97 381h1M110 381h1M12 382h1M14 382h1M30 382h1M54 382h1M56 382h1M66 382h1M73 382h2M85 382h1M101 382h1M130 382h1M150 382h1M1 383h1M23 383h2M39 383h1M56 383h2M83 383h1M91 383h1M98 383h1M116 383h1M145 383h1M9 384h1M11 384h2M29 384h1M112 384h1M130 384h1M19 385h1M49 385h1M64 385h1M69 385h1M8 386h1M30 386h1M37 386h1M78 386h1M81 386h1M84 386h1M16 387h1M29 387h1M37 387h1M66 387h1M70 387h1M72 387h1M93 387h1M95 387h1M1 388h2M4 388h1M15 388h1M28 388h1M101 388h1M104 388h1M150 388h1M0 389h1M12 389h1M84 389h1M105 389h2M29 390h1M75 390h1M92 390h2M105 390h1M135 390h1M43 391h1M47 391h1M79 391h1M81 391h1M92 391h1M13 392h1M36 392h1M42 392h1M52 392h1M57 392h1M68 392h1M78 392h1M97 392h1M112 392h1M116 392h1M35 393h1M51 393h1M103 393h1M145 393h1M15 394h1M28 394h1M32 394h1M36 394h1M62 394h1M82 394h1M85 394h1M101 394h1M103 394h1M108 394h1M116 394h1M125 394h1M21 395h1M32 395h1M46 395h1M79 395h1M8 396h1M19 396h2M46 396h1M48 396h1M86 396h1M118 396h1M9 397h1M20 397h1M22 397h1M25 397h1M58 397h1M76 397h1M125 397h1M8 398h1M32 398h1M57 398h1M83 398h1M13 399h1M23 399h1M43 399h1M54 399h1M71 399h1M87 399h1M110 399h1M135 399h1M5 400h1M21 400h1M35 400h1M45 400h1M62 400h1M101 400h1M103 400h1M130 400h1M150 400h1M22 401h1M47 401h1M50 401h1M130 401h1M7 402h1M16 402h1M40 402h1M55 402h1M57 402h1M86 402h1M92 402h1M94 402h1M3 403h1M22 403h1M10 404h1M18 404h2M31 404h1M38 404h1M47 404h1M75 404h1M83 404h1M94 404h1M2 405h1M19 405h1M71 405h1M74 405h1M96 405h1M104 405h1"/>
<path stroke="#471063" d="M135 16h1M125 17h1M7 18h1M125 19h1M130 19h1M140 23h1M150 23h1M7 24h1M110 24h1M150 24h1M42 25h1M46 25h1M57 25h1M59 25h1M88 25h1M92 25h1M94 25h1M16 26h3M56 26h1M59 26h1M86 26h1M125 26h1M130 26h1M22 27h2M8 28h1M34 28h1M44 28h1M68 28h1M79 28h1M83 28h1M90 28h1M104 28h1M0 29h1M15 29h1M38 29h1M49 29h1M61 29h1M65 29h2M72 29h2M77 29h1M110 29h1M43 30h1M45 30h1M68 30h1M74 30h1M99 30h2M116 30h1M5 31h1M15 31h1M23 31h1M43 31h1M49 31h1M114 31h1M125 31h1M10 32h1M145 32h1M11 33h1M32 33h1M64 33h1M84 33h1M87 33h1M112 33h1M19 34h2M23 34h2M33 34h1M76 34h1M78 34h1M98 34h1M116 34h1M0 35h1M14 35h1M40 35h1M78 35h1M83 35h1M21 36h1M46 36h1M72 36h1M82 36h1M97 36h1M101 36h1M108 36h1M140 36h1M7 37h1M15 37h1M31 37h1M55 37h1M57 37h1M80 37h1M86 37h1M89 37h1M103 37h1M110 37h1M5 38h1M24 38h1M47 38h2M79 38h1M120 38h1M0 39h2M5 39h1M23 39h1M41 39h1M64 39h1M102 39h1M110 39h1M1 40h1M3 40h1M8 40h1M33 40h1M40 40h1M81 40h1M105 40h1M145 40h1M48 41h1M57 41h1M61 41h1M116 41h1M4 42h2M46 42h1M60 42h1M83 42h1M89 42h1M28 43h1M68 43h1M101 43h1M150 43h1M24 44h1M37 44h1M52 44h1M54 44h1M76 44h1M83 44h1M116 44h1M6 45h1M34 45h1M70 45h1M112 45h1M37 46h1M46 46h2M91 46h1M98 46h1M110 46h1M49 47h2M55 47h1M67 47h1M86 47h1M108 47h1M4 48h1M6 48h1M11 48h1M54 48h1M61 48h1M103 48h1M6 49h1M26 49h1M69 49h1M94 49h1M13 50h1M35 50h1M55 50h2M74 50h3M79 50h1M83 50h1M102 50h1M105 50h1M14 51h1M18 51h1M43 51h1M52 51h1M1 52h1M28 52h1M59 52h1M69 52h1M81 52h1M93 52h1M14 53h1M61 53h1M80 53h1M9 54h1M47 54h1M66 54h1M70 54h1M12 55h1M32 55h1M37 55h1M39 55h1M48 55h1M89 55h1M13 56h1M25 56h1M39 56h1M68 56h1M74 56h1M79 56h1M96 56h1M99 56h1M4 57h1M17 57h1M24 57h2M35 57h1M55 57h1M74 57h1M118 57h1M130 57h1M31 58h1M57 58h1M61 58h1M75 58h1M150 58h1M3 59h1M65 59h1M18 60h1M24 60h1M35 60h1M39 60h1M41 60h1M47 60h1M88 60h1M140 60h1M10 61h1M13 61h1M29 61h1M36 61h1M39 61h1M42 61h1M69 61h1M81 61h1M84 61h1M94 61h1M120 61h1M2 62h1M5 62h1M12 62h1M43 62h1M50 62h1M59 62h1M140 62h1M17 63h1M38 63h1M49 63h1M60 63h1M71 63h1M77 63h1M99 63h1M108 63h1M135 63h1M9 64h1M84 64h1M93 64h1M99 64h1M116 64h1M125 64h1M135 64h1M8 65h1M47 65h1M61 65h1M1 66h1M8 66h1M15 66h1M30 66h1M41 66h1M69 66h1M79 66h1M89 66h1M5 67h1M9 67h1M25 67h1M34 67h1M135 67h1M42 68h1M59 68h1M74 68h1M77 68h1M92 68h1M10 69h1M17 69h1M41 69h1M44 69h2M77 69h1M87 69h1M92 69h1M99 69h1M140 69h1M6 70h1M11 70h1M13 70h1M55 70h1M59 70h1M66 70h1M69 70h1M98 70h1M101 70h1M4 71h1M34 71h1M40 71h1M114 71h1M10 72h1M49 72h1M77 72h1M81 72h1M84 72h1M105 72h1M12 73h1M74 73h1M86 73h1M4 74h1M30 74h1M35 74h1M42 74h1M48 74h1M66 74h2M84 74h1M87 74h1M89 74h1M95 74h1M108 74h1M140 74h1M150 74h1M4 75h1M9 75h1M12 75h1M14 75h1M46 75h1M59 75h1M61 75h1M79 75h1M120 75h1M22 76h1M28 76h1M39 76h1M75 76h1M87 76h1M91 76h1M23 77h1M38 77h1M70 77h1M23 78h1M36 78h1M86 78h1M135 78h1M34 79h1M46 79h1M51 79h1M61 79h1M88 79h1M98 79h1M102 79h1M96 80h1M118 80h1M9 81h1M24 81h1M57 81h1M81 81h1M94 81h1M96 81h1M25 82h1M29 82h1M40 82h1M47 82h1M130 82h1M9 83h1M26 83h1M67 83h1M118 83h1M29 84h1M72 84h1M96 84h1M99 84h1M0 85h1M24 85h1M48 85h1M86 85h1M89 85h1M114 85h1M135 85h1M9 86h1M15 86h1M20 86h1M81 86h1M91 86h1M96 86h1M4 87h1M8 87h1M12 87h1M18 87h1M51 87h1M92 87h1M112 87h1M125 87h1M22 88h1M25 88h1M56 88h1M76 88h1M12 89h1M60 89h1M77 89h1M7 90h1M21 90h1M44 90h1M50 90h1M104 90h1M108 90h1M135 90h1M61 91h1M100 91h1M29 92h1M40 92h1M49 92h1M61 92h1M65 92h1M68 92h1M70 92h1M0 93h1M25 93h1M48 93h1M74 93h1M97 93h1M45 94h1M67 94h1M84 94h1M103 94h1M114 94h1M45 95h1M88 95h1M112 95h1M2 96h1M41 96h1M88 96h1M94 96h1M101 96h1M104 96h1M140 96h1M2 97h1M30 97h1M74 97h1M76 97h1M88 97h1M95 97h1M98 97h1M13 98h2M112 98h1M6 99h1M24 99h1M47 99h1M58 99h1M88 99h1M93 99h1M110 99h1M12 100h1M17 100h1M35 100h1M91 100h1M99 100h1M112 100h1M125 100h1M5 101h1M39 101h1M49 101h1M97 101h1M112 101h1M145 101h1M11 102h1M24 102h1M30 102h1M41 102h1M43 102h1M67 102h1M83 102h1M102 102h1M41 103h1M56 103h1M66 103h1M93 103h1M135 103h1M6 104h1M49 104h1M64 104h1M81 104h1M93 104h1M34 105h1M42 105h1M45 105h1M66 105h1M79 105h1M1 106h1M6 106h1M28 106h1M95 106h1M116 106h1M39 107h1M49 107h1M58 107h1M68 107h1M91 107h1M116 107h1M9 108h1M52 108h1M110 108h1M8 109h1M36 109h1M39 109h1M41 109h1M88 109h1M145 109h1M1 110h1M5 110h1M10 110h1M60 110h1M67 110h1M89 110h1M99 110h1M114 110h1M55 111h1M66 111h1M70 111h1M44 112h1M82 112h1M89 112h1M45 113h1M63 113h1M87 113h1M97 113h1M99 113h1M8 114h1M15 114h1M22 114h1M35 114h1M68 114h1M74 114h1M0 115h1M34 115h1M60 115h1M67 115h1M98 115h1M120 115h1M145 115h1M0 116h1M74 116h1M93 116h1M4 117h1M10 117h1M17 117h1M46 117h2M62 117h1M65 117h1M73 117h1M24 118h1M35 118h1M84 118h1M86 118h1M92 118h1M150 118h1M9 119h1M67 119h1M114 119h1M2 120h2M15 120h1M47 120h2M67 120h1M99 120h1M116 120h1M9 121h1M25 121h1M34 121h1M41 121h1M46 121h1M55 121h1M76 121h1M114 121h1M8 122h1M8 123h1M32 123h2M48 123h1M89 123h1M93 123h1M67 124h1M70 124h1M74 124h1M110 124h1M114 124h1M0 125h1M3 125h1M13 125h1M69 125h1M72 125h1M106 125h1M116 125h1M2 126h2M6 126h1M69 126h2M6 127h1M31 127h1M73 127h1M105 127h1M31 128h1M52 128h1M81 128h1M104 128h1M118 128h1M16 129h1M35 129h1M45 129h2M64 129h1M89 129h1M125 129h1M42 130h1M61 130h1M84 130h1M19 131h1M31 131h1M37 131h1M39 131h1M46 131h1M64 131h1M84 131h1M101 131h1M19 132h1M49 132h1M51 132h1M70 132h1M76 132h1M112 133h1M140 133h1M47 135h1M88 135h1M104 135h1M114 135h1M10 136h1M12 136h1M20 136h1M25 136h1M27 136h1M31 136h1M44 136h1M46 136h1M69 136h1M101 136h1M8 137h1M28 137h1M47 137h1M61 137h1M64 137h1M110 137h1M120 137h1M29 138h1M65 138h1M97 138h1M105 138h1M114 138h1M29 139h1M54 139h1M94 139h1M97 139h1M116 139h1M2 140h1M10 140h1M38 140h1M83 140h1M135 140h1M3 141h1M17 141h1M49 141h1M55 141h1M78 141h1M1 142h1M34 142h1M38 142h1M62 142h1M78 142h1M91 142h1M95 142h1M150 142h1M10 143h1M78 143h1M93 143h1M106 143h1M112 143h1M30 144h1M79 144h1M98 144h1M101 144h1M125 144h1M72 145h1M96 145h1M104 145h2M11 146h1M61 146h1M87 146h1M41 147h1M43 147h1M46 147h1M55 147h1M71 147h1M75 147h1M112 147h1M114 147h1M23 148h1M57 148h1M59 148h1M84 148h1M91 148h1M135 148h1M6 149h1M52 149h2M78 149h1M98 149h1M50 150h1M135 150h1M14 151h1M17 151h1M69 151h2M87 151h1M95 151h1M103 151h1M1 152h1M52 152h1M77 152h1M87 152h1M120 152h1M150 152h1M5 153h1M15 153h1M22 153h1M60 153h1M88 153h1M92 153h1M15 154h1M17 154h1M23 154h1M50 154h1M64 154h2M92 154h1M95 154h1M135 154h1M6 155h1M33 155h1M41 155h1M48 155h1M73 155h1M78 155h1M97 155h1M6 156h1M30 156h1M52 156h1M57 156h1M61 156h1M91 156h2M2 157h1M26 157h1M92 157h1M110 157h1M26 158h1M48 158h1M59 158h1M85 158h1M95 158h1M99 158h1M38 159h1M48 159h1M54 159h1M57 159h1M84 159h1M114 159h1M19 160h1M41 160h1M79 160h1M84 160h1M97 160h1M108 160h1M26 161h1M41 161h1M64 161h1M1 162h1M17 162h1M38 162h1M58 162h1M65 162h1M67 162h1M74 162h1M0 163h1M34 163h1M41 163h2M57 163h1M63 163h1M73 163h1M84 163h1M135 163h1M20 164h1M28 164h1M72 164h1M99 164h1M9 165h1M13 165h1M28 165h1M32 165h1M39 165h1M41 165h1M87 165h1M1 166h1M74 166h1M77 166h1M106 166h1M7 167h1M51 167h2M77 167h1M135 167h1M3 168h1M8 168h1M101 168h1M18 169h1M36 169h1M46 169h1M69 169h1M100 169h1M145 169h1M13 170h1M52 170h1M80 170h1M8 171h1M21 171h1M43 171h1M46 171h1M48 171h1M57 171h1M59 171h1M93 171h1M96 171h1M103 171h1M130 171h1M11 172h1M145 172h1M17 173h2M101 173h1M112 173h1M145 173h1M49 174h1M66 174h1M69 174h1M140 174h1M36 175h1M44 175h1M69 175h1M76 175h1M105 175h1M114 175h1M4 176h1M16 176h1M42 176h1M71 176h1M79 176h1M145 176h1M1 177h1M6 177h1M36 177h1M52 177h1M89 177h1M93 177h2M100 177h1M2 178h1M11 178h1M18 178h1M35 178h2M44 178h1M46 178h1M57 178h1M59 178h1M68 178h1M71 178h1M18 179h1M97 179h1M116 179h1M6 180h1M19 180h1M31 180h1M34 180h1M68 180h1M85 180h1M14 181h1M17 181h1M39 181h1M52 181h1M58 181h1M94 181h1M105 181h1M114 181h1M4 182h1M6 182h1M18 182h1M30 182h1M114 182h1M37 183h1M59 183h1M66 183h1M100 183h1M108 183h1M24 184h1M40 184h1M45 184h1M66 184h1M78 184h1M96 184h1M102 184h1M105 184h1M8 185h1M25 185h1M58 185h1M74 185h1M90 185h1M114 185h1M20 186h1M26 186h1M54 186h1M104 186h1M114 186h1M7 187h1M18 187h1M22 187h1M24 187h1M38 187h1M45 187h1M102 187h2M13 188h1M23 188h1M75 188h1M85 188h1M99 188h1M1 189h1M5 189h1M9 189h1M24 189h1M50 189h1M52 189h1M71 189h1M83 189h1M19 190h1M76 190h1M95 190h1M41 191h1M49 191h1M55 191h1M60 191h1M105 191h1M114 191h1M118 191h1M120 191h1M0 192h2M34 192h1M60 192h1M70 192h1M90 192h1M12 193h1M30 193h1M88 193h1M100 193h1M15 194h1M35 194h2M78 194h1M98 194h1M104 194h1M2 195h1M64 195h2M79 195h1M83 195h2M130 195h1M135 195h1M12 196h1M29 196h1M60 196h1M69 196h1M84 196h1M89 196h1M102 196h1M116 196h1M11 197h1M13 197h1M15 197h1M37 197h1M66 197h1M145 197h1M25 198h1M60 198h1M94 198h1M96 198h1M99 198h1M104 198h1M45 199h1M61 199h1M65 199h1M24 200h1M26 200h1M31 200h1M36 200h1M50 200h1M56 200h1M77 200h1M110 200h1M6 201h1M52 201h1M94 201h1M99 201h2M125 201h1M18 202h1M21 202h1M50 202h1M88 202h1M108 202h1M6 203h1M38 203h1M49 203h1M73 203h1M118 203h1M3 204h1M28 204h1M39 204h1M47 204h1M52 204h1M86 204h1M97 204h1M100 204h1M8 205h1M38 205h1M52 205h1M98 205h1M130 205h1M9 206h1M44 206h1M64 206h1M95 206h1M112 206h1M22 207h1M42 207h1M4 208h1M19 208h1M25 208h1M97 208h1M3 209h2M49 209h1M24 210h1M33 210h1M48 210h1M51 210h1M70 210h1M72 210h1M130 210h1M4 211h1M35 211h1M50 211h1M71 211h1M5 212h1M31 212h1M46 212h1M65 212h1M67 212h1M120 212h1M140 212h1M2 213h1M36 213h1M60 213h1M84 213h1M23 214h1M29 214h1M47 214h1M93 214h1M100 214h1M54 215h1M20 216h1M32 216h1M50 216h1M57 216h1M67 216h1M96 216h1M103 216h1M150 216h1M22 217h1M4 218h1M10 218h1M36 218h1M108 218h1M6 219h1M18 219h1M72 219h1M118 219h1M38 220h1M50 220h1M62 220h1M71 220h1M77 220h1M83 220h1M17 221h1M50 221h1M54 221h1M59 221h2M108 221h1M110 221h1M140 221h1M0 222h1M20 222h1M57 222h1M61 222h1M67 222h1M77 222h1M89 222h1M102 222h1M30 223h1M39 223h1M57 223h1M95 223h1M135 223h1M44 224h1M73 224h1M8 225h1M33 225h1M41 225h1M77 225h1M98 225h1M100 225h1M4 226h1M11 226h1M32 226h1M50 226h1M60 226h1M118 226h1M21 227h1M62 227h1M99 227h1M125 227h1M0 228h1M56 228h1M64 228h1M86 228h1M99 228h1M106 228h1M56 229h1M69 229h1M91 229h1M100 229h1M2 230h1M11 230h1M48 230h1M56 230h1M75 230h1M85 230h1M101 230h1M29 231h1M69 231h1M8 232h1M26 232h1M32 232h1M43 232h1M74 232h1M77 232h1M105 232h1M48 233h3M62 233h1M87 233h1M118 233h1M36 234h2M39 234h2M69 234h1M116 234h1M6 235h1M17 235h2M20 235h1M59 235h1M65 235h1M89 235h1M48 236h1M120 236h1M12 237h1M125 237h1M130 237h1M1 238h1M47 238h1M55 238h1M57 238h1M92 238h1M96 238h1M106 238h1M15 239h1M39 239h1M58 239h1M97 239h1M112 239h1M130 239h1M64 240h1M75 240h1M11 241h1M38 241h1M45 241h1M73 241h1M89 241h1M96 241h2M75 242h1M44 243h1M60 243h1M64 243h1M67 243h1M71 243h1M91 243h1M94 243h1M100 243h1M116 243h1M118 243h1M9 244h1M12 244h1M14 244h1M54 244h1M62 244h1M64 244h1M118 244h1M8 245h1M78 245h2M93 245h1M118 245h1M8 246h1M10 246h1M32 246h1M45 246h1M74 246h1M78 246h1M108 246h1M110 246h1M130 246h1M0 247h1M2 247h1M4 247h1M54 247h1M99 247h1M130 247h1M40 248h1M72 248h1M85 248h1M114 248h1M140 248h1M41 249h1M46 249h2M55 249h1M57 249h1M78 249h1M83 249h1M91 249h1M135 249h1M5 250h1M65 250h1M79 250h1M96 250h1M104 250h1M125 250h1M135 250h1M11 251h1M19 251h1M22 251h1M41 251h1M45 251h1M88 251h1M97 251h1M4 252h1M26 252h1M45 252h1M81 252h1M84 252h1M135 252h1M4 253h1M22 253h2M25 253h1M44 253h2M103 253h1M39 254h1M65 254h1M135 254h1M11 255h1M30 255h1M44 255h1M49 255h1M65 255h1M67 255h1M70 255h2M91 255h1M118 255h1M5 256h1M9 256h2M56 256h1M85 256h1M93 256h1M97 256h1M0 257h1M27 257h2M31 257h1M49 257h1M62 257h1M75 257h1M91 257h1M130 257h1M150 257h1M5 258h1M15 258h1M36 258h1M89 258h1M97 258h2M105 258h1M20 259h1M64 259h1M76 259h1M78 259h1M83 259h1M93 259h1M95 259h1M44 260h2M56 260h1M69 260h1M114 260h1M118 260h1M120 260h1M1 261h1M36 261h1M56 261h1M59 261h1M81 261h1M103 261h1M10 262h1M41 262h1M45 262h3M54 262h1M69 262h1M79 262h1M97 262h1M125 262h1M3 263h1M43 263h1M46 263h1M88 263h1M93 263h1M73 264h1M82 264h3M99 264h1M44 265h1M46 265h1M76 265h1M114 265h1M11 266h1M48 266h1M81 266h1M86 266h1M3 267h1M8 267h1M18 267h1M37 267h1M53 267h1M72 267h1M75 267h1M85 267h1M98 267h1M105 267h1M112 267h1M26 268h1M30 268h2M34 268h1M70 268h1M84 268h1M104 268h1M112 268h1M9 269h1M11 269h1M56 269h1M86 269h1M118 269h1M24 270h1M56 270h1M71 270h1M103 270h1M130 270h1M6 271h1M75 271h1M84 271h1M57 272h1M85 272h1M37 273h1M79 273h1M102 273h1M145 273h1M7 274h1M49 274h1M71 274h1M78 274h1M0 275h1M2 275h1M4 275h1M11 275h1M20 275h2M25 275h1M32 275h1M42 275h1M52 275h1M75 275h1M87 275h1M92 275h1M108 275h1M130 275h1M39 276h1M60 276h1M88 276h1M125 276h1M11 277h1M24 277h1M57 277h1M64 277h1M96 277h1M101 277h1M130 277h1M6 278h1M38 278h1M56 278h1M88 278h1M92 278h1M10 279h1M50 279h1M66 279h1M83 279h1M106 279h1M112 279h1M6 280h1M13 280h2M53 280h1M61 280h1M112 280h1M118 280h1M130 280h1M2 281h1M5 281h1M15 281h1M39 281h1M66 281h1M85 281h1M8 282h1M55 282h1M58 282h1M99 282h1M110 282h1M150 282h1M11 283h1M35 283h1M44 283h1M59 283h1M89 283h1M95 283h1M0 284h1M11 284h1M44 284h1M47 284h1M60 284h1M92 284h1M106 284h1M28 285h3M46 285h1M49 285h1M52 285h1M55 285h1M60 285h1M72 285h1M87 285h1M95 285h1M31 286h1M40 286h1M57 286h1M77 286h1M116 286h1M43 287h1M54 287h1M125 287h1M6 288h1M19 288h1M21 288h1M38 288h1M89 288h1M3 289h1M11 289h1M22 289h1M38 290h1M70 290h1M86 290h1M106 290h1M116 290h1M135 290h1M17 291h1M23 291h1M49 291h1M61 291h1M67 291h1M94 291h1M97 291h1M106 291h1M22 292h1M26 292h1M30 292h1M50 292h1M54 292h1M96 292h1M105 292h1M28 293h1M37 293h1M58 293h1M91 293h1M108 293h1M116 293h1M16 294h1M44 294h1M74 294h1M86 294h1M96 294h1M112 294h1M116 294h1M37 295h1M48 295h1M73 295h1M99 295h1M105 295h1M112 295h1M116 295h1M118 295h1M0 296h1M3 296h1M7 296h1M11 296h1M34 296h1M52 296h1M55 296h1M63 296h1M73 296h1M86 296h1M94 296h1M105 296h1M35 297h1M49 297h1M59 297h1M68 297h1M135 297h1M13 298h1M74 298h1M94 298h1M1 299h1M8 299h1M43 299h1M54 299h1M108 299h1M118 299h1M130 299h1M28 300h1M32 300h1M37 300h1M99 300h1M101 300h1M4 301h1M10 301h2M51 301h1M76 301h1M93 301h1M104 301h1M32 302h1M60 302h1M86 302h1M104 302h1M49 303h1M55 303h1M71 303h1M73 303h2M95 303h1M15 304h1M20 304h1M61 304h1M72 304h1M83 304h1M112 304h1M135 304h1M145 304h1M19 305h1M22 305h1M30 305h1M33 305h1M49 305h1M59 305h1M67 305h1M92 305h1M10 306h1M19 306h1M22 306h1M24 306h1M28 306h1M31 306h1M70 306h1M74 306h1M88 306h1M99 306h1M103 306h1M130 306h1M150 306h1M4 307h1M33 307h1M37 307h1M39 307h1M53 307h1M60 307h1M64 307h1M32 308h1M44 308h1M67 308h1M75 308h1M78 308h1M108 308h1M78 309h1M105 309h1M114 309h1M145 309h1M6 310h1M38 310h2M50 310h1M78 310h1M89 310h1M17 311h1M22 311h1M31 311h1M44 311h2M86 311h2M23 312h1M29 312h1M61 312h1M92 312h1M1 313h1M10 313h1M17 313h1M28 313h1M56 313h1M19 314h2M25 314h1M29 314h1M37 314h1M41 314h1M114 314h1M125 314h1M34 315h1M36 315h1M54 315h1M67 315h1M108 315h1M120 315h1M125 315h1M30 316h1M83 316h1M86 316h1M100 316h1M6 317h1M59 317h1M66 317h1M79 317h1M89 317h1M104 317h1M150 317h1M1 318h1M23 318h1M10 319h1M19 319h1M46 319h1M83 319h1M130 319h1M44 320h1M57 320h1M87 320h1M108 320h1M22 321h2M69 321h1M110 321h1M24 322h1M43 322h1M49 322h1M60 322h1M84 322h1M120 322h1M78 323h1M140 323h1M42 324h1M101 324h1M31 325h1M92 325h1M41 326h1M50 326h1M76 326h1M92 326h1M116 326h1M5 327h1M22 327h2M46 327h1M87 327h1M101 327h2M110 327h1M9 328h1M75 328h1M98 328h1M130 328h1M11 329h1M66 329h1M85 329h1M91 329h1M116 329h1M65 330h1M70 330h1M5 331h1M10 331h1M19 331h1M64 331h1M68 331h1M86 331h1M150 331h1M3 332h1M85 332h1M116 332h1M9 333h1M17 333h1M19 333h1M71 333h1M74 333h1M112 333h1M40 334h1M56 334h1M59 334h1M9 335h1M81 335h1M150 335h1M10 336h1M34 336h1M45 336h1M140 336h1M10 337h1M24 337h1M30 337h1M39 337h1M47 337h1M74 337h1M116 337h1M8 338h1M43 338h1M22 339h1M54 339h1M70 339h1M114 339h1M61 340h1M89 340h1M13 342h1M43 342h1M58 342h1M91 342h1M102 342h1M116 342h1M0 343h1M12 343h1M33 343h1M61 343h1M98 343h1M100 343h1M18 344h1M42 344h2M50 344h1M57 344h1M68 344h1M85 344h1M16 345h1M19 345h1M38 345h1M46 345h1M93 345h1M102 345h1M4 346h1M8 346h1M22 346h1M75 346h1M81 346h1M83 346h1M86 346h1M13 347h1M47 347h1M61 347h1M71 347h1M85 347h2M88 347h2M96 347h1M102 347h1M30 348h1M69 348h1M101 348h1M118 348h1M6 349h1M58 349h1M97 349h1M112 349h1M150 349h1M18 350h1M20 350h1M38 350h1M57 350h1M62 350h1M65 350h1M12 351h1M22 351h1M28 351h1M34 351h1M61 351h1M101 351h1M130 351h1M25 352h1M58 352h1M116 352h1M4 353h1M8 353h1M12 353h1M26 353h1M35 353h1M87 353h1M94 353h1M100 353h1M110 353h1M145 353h1M38 354h1M53 354h1M87 354h1M0 355h1M31 355h1M77 355h1M114 355h1M24 356h1M35 356h1M108 356h1M110 356h1M130 356h1M140 356h1M17 357h1M28 357h1M41 357h1M64 357h1M12 358h1M42 358h1M45 358h1M48 358h1M64 358h1M12 359h1M67 359h1M71 359h1M81 359h1M130 359h1M150 359h1M14 360h1M49 360h1M84 360h1M102 360h1M105 360h1M108 360h1M110 360h1M0 361h1M17 361h1M77 361h1M20 362h1M22 362h1M30 362h1M32 362h1M37 362h1M43 362h1M62 362h1M75 362h1M83 362h1M93 362h1M102 362h1M11 363h1M29 363h1M65 363h1M73 363h1M108 363h1M31 364h1M61 364h1M91 364h1M93 364h1M135 364h1M12 365h1M17 365h1M25 365h1M45 365h1M47 365h1M51 365h1M68 365h1M93 365h1M101 365h1M110 365h1M9 366h1M72 366h1M78 366h1M85 366h1M99 366h1M5 367h1M35 367h1M44 367h1M65 367h1M105 367h1M114 367h1M42 368h1M56 368h1M62 368h1M65 368h1M72 368h1M2 369h1M18 369h1M22 369h1M104 369h1M116 369h1M4 370h1M50 370h1M77 370h1M42 371h1M45 371h2M65 371h1M72 371h1M91 371h1M6 372h1M15 372h1M40 372h1M42 372h1M45 372h1M48 372h1M78 372h1M99 372h1M110 372h1M3 373h1M44 373h2M71 373h1M77 373h2M88 373h1M91 373h2M101 373h1M9 374h1M24 374h1M28 374h1M44 374h1M0 375h1M17 375h1M62 375h1M91 375h1M112 375h1M120 375h1M130 375h1M10 376h1M19 376h1M38 376h1M42 376h1M47 376h1M91 376h1M110 376h1M18 377h1M61 377h1M145 377h1M9 378h1M18 378h1M71 378h1M78 378h1M101 378h1M7 379h1M38 379h1M40 379h1M59 379h1M64 379h1M77 380h1M120 380h1M150 380h1M15 381h1M23 381h1M34 381h1M69 381h1M76 381h1M96 381h1M106 381h1M3 382h1M5 382h1M15 382h1M18 382h1M24 382h1M64 382h1M110 382h1M4 383h1M50 383h1M56 384h1M84 384h1M104 384h1M150 384h1M2 385h1M4 385h1M38 385h2M60 385h1M75 385h1M81 385h1M118 385h1M15 386h1M31 386h1M79 386h1M86 386h1M98 386h1M105 386h1M135 386h1M4 387h1M59 387h1M92 387h1M98 387h1M13 388h1M47 388h1M58 388h1M81 388h1M83 388h1M87 388h1M24 389h1M73 389h1M91 389h1M97 389h1M104 389h1M125 389h1M150 389h1M3 390h1M19 390h1M21 390h1M35 390h1M37 390h1M42 390h1M94 390h1M96 390h1M65 391h1M75 391h1M93 391h1M105 391h1M140 391h1M38 392h1M47 392h1M77 392h1M125 392h1M135 392h1M41 393h1M76 393h1M106 393h1M19 394h1M21 394h1M24 394h1M120 394h1M41 395h1M43 395h1M65 395h1M92 395h1M5 396h1M83 396h1M112 396h1M125 396h1M8 397h1M40 397h1M95 397h1M97 397h1M25 398h1M56 398h1M72 398h1M74 398h1M120 398h1M135 398h1M6 399h1M11 399h2M26 399h1M34 399h1M47 399h1M98 399h1M0 400h1M4 400h1M26 400h1M51 400h1M108 400h1M116 400h1M8 401h1M10 401h1M57 401h1M71 401h1M77 401h1M92 401h1M97 401h1M9 402h1M14 402h1M22 402h1M36 402h1M41 402h1M77 402h1M100 402h1M19 403h1M40 403h1M44 403h1M51 403h1M67 403h1M74 403h1M116 403h1M150 403h1M2 404h1M8 404h1M36 404h1M69 404h1M114 404h1M145 404h1M28 405h1M40 405h1M67 405h1M88 405h1M92 405h1M106 405h1M150 405h1"/>
<path stroke="#481467" d="M135 14h1M135 15h1M63 17h1M16 18h1M135 18h1M27 19h1M116 19h1M120 19h1M150 20h1M130 21h1M68 23h1M108 23h1M16 24h1M9 25h1M24 25h1M28 25h2M35 25h1M49 25h1M54 25h1M98 25h1M106 25h1M130 25h1M145 25h1M7 26h1M30 26h1M39 26h1M64 26h1M90 26h1M29 27h1M42 27h1M46 27h1M55 27h1M66 27h1M94 27h1M96 27h1M99 27h2M150 27h1M17 28h3M31 28h1M40 28h1M62 28h1M73 28h1M87 28h1M97 28h2M130 28h1M6 29h1M10 29h1M34 29h1M52 29h1M60 29h1M74 29h1M82 29h1M102 29h1M18 30h1M44 30h1M118 30h1M0 31h1M61 31h1M72 31h1M94 31h1M98 31h1M14 32h1M48 32h1M72 32h1M106 32h1M116 32h1M20 33h1M29 33h1M35 33h1M54 33h1M73 33h1M88 33h1M102 33h1M108 33h1M0 34h1M69 34h1M24 35h1M28 35h1M38 35h1M97 35h1M104 35h1M130 35h1M25 36h1M41 36h1M78 36h1M91 36h1M98 36h1M102 36h1M13 37h1M20 37h1M36 37h1M72 37h1M75 37h1M96 37h1M98 37h1M135 37h1M15 38h1M106 38h1M130 38h1M7 39h1M40 39h1M52 39h1M88 39h1M100 39h1M118 39h1M12 40h1M24 40h1M72 40h1M89 40h1M99 40h1M10 41h1M38 41h1M75 41h1M96 41h1M14 42h1M35 42h1M62 42h1M74 42h2M104 42h1M140 42h1M12 43h2M20 43h1M35 43h1M42 43h1M69 43h1M74 43h1M96 43h1M100 43h1M116 43h1M3 45h1M31 45h1M83 45h1M116 45h1M1 46h1M15 46h1M64 46h1M103 46h1M66 47h1M70 47h1M85 47h1M112 47h1M7 48h1M36 48h1M71 48h1M94 48h1M97 48h1M9 49h1M12 49h1M18 49h1M44 49h1M50 49h1M56 49h1M62 49h1M22 50h1M65 50h1M99 50h1M120 50h1M22 51h1M29 51h1M56 51h1M99 51h1M112 51h1M7 52h1M26 52h1M36 52h1M55 52h1M65 52h2M91 52h1M114 52h1M20 53h1M32 53h1M54 53h1M84 53h1M114 53h1M145 53h1M38 54h1M57 54h1M81 54h1M110 54h1M15 55h1M49 55h1M67 55h1M76 55h1M81 55h1M95 55h1M104 55h1M114 55h1M77 56h1M110 56h1M135 56h1M32 57h1M36 57h2M88 57h1M125 57h1M9 58h1M15 58h1M28 58h1M44 58h1M50 58h1M62 58h1M64 58h1M67 58h1M69 58h1M116 58h1M23 59h1M31 59h1M49 59h1M51 59h1M99 59h1M44 60h1M53 60h1M59 60h1M116 61h1M4 62h1M22 62h1M31 62h2M47 62h1M70 62h1M83 62h1M89 62h1M96 62h1M104 62h1M10 63h1M21 63h1M59 63h1M65 63h1M74 63h1M87 63h1M23 64h1M67 64h1M89 64h1M98 64h1M101 64h1M17 65h1M64 65h1M81 65h1M99 65h1M24 66h1M35 66h1M93 66h1M95 66h1M4 67h1M30 67h1M39 67h1M44 67h1M48 67h1M102 67h1M120 67h1M2 68h1M25 68h1M58 68h1M60 68h1M91 68h1M93 68h1M102 68h2M56 69h1M59 69h1M105 69h1M2 70h1M17 70h1M41 70h1M103 70h1M135 70h1M5 71h1M23 71h1M26 71h1M81 71h1M94 71h1M112 71h1M14 72h1M30 72h1M45 72h1M54 72h1M68 72h1M4 73h1M16 73h1M22 73h1M25 73h1M45 73h1M66 73h1M84 73h1M44 74h1M51 74h1M65 74h1M96 74h1M102 74h1M104 74h1M114 74h1M145 74h1M8 75h1M18 75h1M44 75h1M76 75h2M104 75h1M31 76h1M69 76h1M100 76h1M103 76h1M125 76h1M140 76h1M10 77h1M12 77h1M36 77h1M62 77h1M108 77h1M42 78h1M68 78h1M100 78h1M104 78h1M19 79h1M40 79h1M59 79h1M65 79h1M99 79h1M108 79h1M130 79h1M2 80h1M4 80h1M29 80h1M35 80h1M52 80h1M64 80h1M68 80h1M145 80h1M12 81h1M15 81h1M37 81h1M47 81h1M59 81h1M64 81h1M105 81h2M116 81h1M0 82h1M12 82h1M20 82h1M51 82h1M71 82h1M77 82h2M140 82h1M21 83h1M23 83h1M84 83h1M23 84h1M42 84h1M45 84h1M48 84h1M54 84h1M101 84h1M125 84h1M18 85h1M34 85h1M45 85h1M50 85h1M62 85h1M88 85h1M13 86h1M49 86h1M51 86h1M57 86h1M84 86h1M32 87h1M36 87h1M61 87h1M76 87h2M99 87h1M103 87h1M41 88h1M72 88h1M74 88h1M108 88h1M38 89h1M72 89h1M92 89h1M150 89h1M5 90h1M13 90h1M17 90h1M42 90h1M52 90h1M93 90h2M66 91h1M102 91h1M118 91h1M125 91h1M54 92h1M67 93h1M71 93h1M100 93h1M104 93h1M150 93h1M21 94h1M28 94h1M38 94h1M59 94h2M65 94h1M105 94h1M1 95h1M21 95h1M37 95h1M40 95h1M59 95h1M73 95h1M77 95h1M18 96h1M56 96h1M3 97h1M22 97h2M45 97h1M60 97h1M64 97h1M87 97h1M93 97h1M47 98h1M105 98h1M118 98h1M96 99h1M101 99h1M125 99h1M0 100h1M65 100h1M76 100h1M78 100h1M84 100h1M86 100h1M104 100h1M108 100h1M30 101h1M61 101h1M93 101h1M118 101h1M32 102h1M58 102h1M75 102h1M150 102h1M21 103h1M34 103h1M70 103h1M91 103h1M130 103h1M26 104h1M31 104h1M47 104h1M59 104h1M67 104h1M86 104h1M3 105h1M44 105h1M55 105h1M58 105h1M74 105h1M78 105h1M102 105h1M88 106h1M104 106h1M8 107h1M19 107h1M22 107h1M24 107h1M46 107h1M59 107h1M106 107h1M120 107h1M11 108h1M46 108h1M56 108h1M83 108h1M97 108h1M102 108h1M120 108h1M135 108h1M15 109h1M35 109h1M44 109h1M51 109h1M59 109h1M68 109h1M71 109h1M79 109h1M140 109h1M38 110h1M41 110h2M59 110h1M72 110h1M150 110h1M28 111h1M36 111h1M47 111h1M9 112h1M55 112h1M60 112h1M64 112h1M91 112h1M99 112h1M106 112h1M114 112h1M118 112h1M15 113h1M32 113h1M34 113h1M36 113h1M84 113h1M6 114h1M69 114h1M97 114h1M106 114h1M64 115h1M77 115h1M125 115h1M1 116h1M31 116h1M20 117h1M48 117h1M60 117h2M75 117h1M88 117h1M12 118h1M46 118h1M13 119h2M17 119h1M28 119h1M39 119h1M64 119h1M81 119h1M1 120h1M11 120h1M25 120h1M44 120h1M64 120h1M100 120h1M42 121h1M44 121h1M48 121h1M58 121h1M99 121h1M120 121h1M150 121h1M4 122h1M20 122h1M25 122h1M32 122h1M74 122h1M88 122h1M116 122h1M5 124h2M12 124h1M30 124h2M37 124h1M42 124h1M78 124h1M98 124h1M105 124h1M116 124h1M8 125h1M52 125h1M81 125h1M83 125h1M99 125h1M102 125h1M118 125h1M18 126h1M40 126h1M49 126h1M57 126h1M87 126h1M102 126h1M102 127h1M5 128h1M25 128h1M38 128h1M45 128h1M87 128h1M106 128h1M4 129h2M22 129h1M37 129h1M58 129h1M61 129h1M79 129h1M91 129h1M101 129h1M130 129h1M6 130h1M18 130h1M26 130h1M29 130h1M62 130h1M64 130h1M74 130h1M2 131h1M14 131h1M20 131h1M24 131h1M35 131h1M78 132h1M93 132h1M125 132h1M130 132h1M19 133h1M42 133h1M45 133h1M56 133h1M93 133h1M104 133h1M19 134h1M60 134h1M89 134h1M56 135h1M71 135h1M100 135h1M13 136h1M48 136h1M84 136h1M12 137h1M22 137h1M38 137h1M52 137h1M81 137h1M85 137h1M93 137h1M5 138h1M35 138h1M41 138h1M51 138h1M64 138h1M17 139h1M32 139h1M45 139h1M56 139h1M70 139h1M89 139h1M7 140h1M17 140h1M62 140h1M81 140h1M25 141h1M42 141h1M65 141h1M74 141h1M84 141h1M12 142h1M48 142h1M105 142h1M0 143h1M11 143h1M15 143h1M17 143h1M89 143h1M100 143h1M4 144h1M42 144h1M75 144h1M116 144h1M61 145h1M64 145h1M17 146h1M64 146h1M6 147h1M29 147h1M94 147h1M118 147h1M12 148h2M20 148h1M81 148h1M96 148h1M101 148h1M62 149h1M84 149h1M87 149h1M93 149h1M95 149h1M101 149h1M145 149h1M5 150h2M49 150h1M55 150h1M68 150h1M94 150h1M101 150h1M105 150h1M112 150h1M23 151h1M42 151h1M51 151h1M55 151h1M68 151h1M79 151h1M114 151h1M116 151h1M150 151h1M3 152h1M9 152h1M20 152h1M71 152h1M83 152h1M101 152h1M108 152h1M69 153h1M81 153h1M91 153h1M102 153h1M140 153h1M4 154h1M24 154h1M44 154h1M56 154h1M37 155h1M81 155h1M73 156h1M97 156h1M5 157h1M17 157h1M20 157h2M30 157h1M36 157h1M48 157h1M76 157h1M79 157h1M145 157h1M5 158h1M17 158h2M44 158h1M57 158h1M114 158h1M120 158h1M68 159h1M99 159h1M14 160h1M110 160h1M120 160h1M17 161h1M31 161h1M66 161h1M68 161h2M106 161h1M6 162h1M29 162h1M39 162h1M61 162h1M75 162h1M87 162h1M104 162h1M10 163h1M20 163h1M26 163h1M38 163h1M44 163h1M70 163h1M11 164h2M34 164h1M43 164h1M54 164h1M140 164h1M58 165h1M67 165h1M79 165h1M106 165h1M110 165h1M125 165h1M66 166h1M92 166h1M18 167h1M86 167h1M0 168h1M36 168h1M87 168h1M99 168h2M112 168h1M118 168h1M14 169h1M35 169h1M71 169h1M78 169h1M118 169h1M6 170h1M71 170h1M73 170h1M89 170h1M140 170h1M10 171h1M13 171h1M16 171h1M30 171h1M64 171h1M78 171h1M86 171h1M12 172h1M57 172h2M66 172h1M97 172h1M102 172h2M29 173h1M57 174h1M59 174h1M114 174h1M11 175h1M27 175h2M130 175h1M32 176h1M40 176h1M92 176h1M8 177h1M24 177h1M92 177h1M47 178h1M89 178h1M95 178h1M10 179h1M57 179h1M76 179h1M98 179h1M11 180h1M58 180h1M98 180h1M125 180h1M1 181h1M64 181h1M75 181h1M83 181h1M13 182h1M32 182h1M38 182h1M81 182h1M106 182h1M17 183h1M43 183h1M105 183h1M150 183h1M38 184h1M46 184h1M85 184h2M120 184h1M54 185h1M61 185h1M85 185h1M112 185h1M3 186h1M6 186h1M103 186h1M110 186h1M30 187h1M61 187h1M67 187h1M74 187h1M79 187h1M94 187h1M104 187h1M116 187h1M125 187h1M18 188h1M36 188h1M38 188h1M71 188h2M108 188h1M22 189h1M30 189h1M31 190h1M33 190h1M49 190h1M55 190h2M65 190h1M20 191h1M48 191h1M54 191h1M101 191h1M81 192h1M86 192h1M91 192h1M110 192h1M6 193h1M23 193h1M99 193h1M101 193h1M116 193h1M24 194h1M41 194h1M44 194h1M55 194h1M66 194h1M94 194h1M150 194h1M0 195h1M14 195h1M87 195h1M116 195h1M22 196h1M44 196h1M87 196h1M92 196h1M8 197h1M22 197h1M38 197h1M78 197h1M92 197h1M17 198h1M56 198h1M74 198h1M83 198h1M87 198h2M112 198h1M24 199h1M40 199h1M42 199h1M58 199h1M86 199h1M94 199h1M0 200h1M9 200h1M22 200h1M78 200h1M120 200h1M135 200h1M3 201h1M13 201h1M33 201h1M44 201h1M46 201h1M86 201h1M120 201h1M8 202h1M48 202h1M67 202h1M79 202h1M96 202h1M102 203h1M145 203h1M2 204h1M32 204h1M78 204h1M145 204h1M4 205h1M25 205h1M29 205h1M78 205h1M85 205h1M96 205h1M114 205h1M62 206h1M72 206h1M97 206h1M2 207h1M73 207h1M45 208h1M56 208h1M76 208h1M110 208h1M2 209h1M6 209h1M18 209h1M64 209h1M69 209h1M75 209h1M99 209h1M103 209h1M4 210h1M25 210h1M46 210h1M87 210h1M99 210h1M102 210h1M65 211h2M81 211h1M114 211h1M1 212h1M3 212h1M34 212h1M43 212h1M62 212h1M71 212h2M78 212h1M118 212h1M14 213h1M30 213h1M35 213h1M43 213h1M46 213h1M50 213h1M75 213h1M8 214h2M17 214h1M43 214h1M76 214h1M84 214h1M30 215h1M60 215h1M62 215h1M78 215h1M104 215h1M120 215h1M5 216h2M17 216h1M60 216h1M71 216h1M92 216h1M99 216h1M145 216h1M14 217h1M20 217h1M86 217h1M20 218h1M24 218h1M29 218h1M10 219h1M31 219h1M59 219h1M74 219h1M84 219h1M10 220h1M20 220h1M76 220h1M0 221h1M95 221h1M105 221h1M1 222h1M110 222h1M15 223h1M44 223h1M54 223h1M81 223h1M112 223h1M118 223h1M2 224h1M49 224h1M52 224h1M70 224h1M114 224h1M19 225h1M95 225h1M116 225h1M41 226h1M56 226h1M59 226h1M73 226h1M48 227h1M54 227h1M72 227h2M145 227h1M5 228h1M34 228h1M62 228h1M105 228h1M120 228h1M125 228h1M145 228h1M15 229h1M35 229h1M43 229h1M50 229h1M98 229h1M32 230h1M52 230h1M61 230h1M68 230h1M95 230h1M125 230h1M46 231h1M49 231h1M77 231h1M88 231h1M116 231h1M120 231h1M125 231h1M20 232h1M65 232h1M70 232h1M72 232h1M86 232h1M99 232h1M140 232h1M58 233h1M68 233h1M94 233h1M135 233h1M84 234h1M100 234h1M103 234h1M15 235h1M57 235h1M60 235h1M62 235h1M74 235h2M77 235h1M18 236h1M54 236h1M77 236h1M105 236h1M3 237h1M14 237h1M40 238h1M45 238h1M58 238h1M72 238h1M85 238h1M99 238h1M34 239h1M53 239h1M67 239h1M71 239h2M76 239h1M104 239h1M116 239h1M9 240h1M45 240h1M2 241h1M36 241h1M48 241h1M52 241h1M61 241h1M77 241h1M79 241h1M9 242h1M40 242h1M42 242h2M68 242h1M74 242h1M110 242h1M118 242h1M150 242h1M36 243h1M51 243h1M108 243h1M140 243h1M51 244h1M72 244h1M98 244h1M17 245h1M54 245h1M81 245h1M106 245h1M0 246h1M2 246h1M19 246h1M34 246h1M47 246h1M125 246h1M34 247h1M72 247h1M112 247h1M8 248h1M55 248h1M86 248h1M34 249h1M65 249h1M24 250h1M56 250h1M81 250h1M88 250h1M108 250h1M46 251h1M69 251h1M106 251h1M23 252h1M57 252h1M66 253h1M96 253h1M99 253h1M25 254h1M35 254h1M95 254h1M0 255h1M13 255h1M19 255h1M45 255h1M81 255h1M99 255h1M101 255h1M120 255h1M44 256h1M62 256h1M101 256h1M112 256h1M120 256h1M13 257h1M23 257h1M42 257h2M56 257h1M84 257h1M93 257h1M116 257h1M6 258h1M9 258h2M48 258h1M1 259h1M10 259h1M55 259h1M62 259h1M91 259h1M120 259h1M140 259h1M31 260h1M68 260h1M72 260h1M93 260h1M101 260h1M130 260h1M4 261h1M35 261h1M77 261h2M83 261h1M114 261h1M130 261h1M5 262h1M38 262h2M64 262h1M77 262h1M94 262h1M32 263h1M62 263h1M92 263h1M99 263h1M12 264h1M14 264h2M43 264h1M118 264h1M8 265h1M57 265h1M73 265h1M44 266h1M67 266h1M91 266h1M66 267h1M95 267h1M118 267h1M41 268h1M86 268h2M93 268h1M103 268h1M140 268h1M52 269h1M116 269h1M74 270h4M65 271h2M89 271h1M95 271h1M7 272h1M66 272h1M0 273h1M50 273h1M55 273h1M75 273h1M83 273h2M51 274h1M75 274h1M97 274h1M3 275h1M91 275h1M104 275h1M112 275h1M118 275h1M5 276h1M15 276h1M33 276h1M41 276h1M78 276h1M85 276h1M13 277h1M23 277h1M42 277h1M50 277h1M60 277h1M125 277h1M10 278h1M70 278h1M102 278h1M116 278h1M14 279h1M20 279h1M24 279h1M64 279h1M130 279h1M15 280h1M17 280h1M95 280h1M97 280h1M140 280h1M62 281h1M65 281h1M95 281h1M5 282h1M78 282h1M145 282h1M50 283h1M120 283h1M26 284h1M42 284h1M69 284h1M72 284h1M86 284h1M105 284h1M14 285h1M43 285h1M50 285h1M62 285h1M76 285h1M25 286h1M29 286h1M58 286h1M78 286h2M88 286h1M10 287h1M33 287h1M64 287h1M102 287h1M1 288h1M30 288h1M67 288h1M97 288h1M150 288h1M2 289h1M8 289h1M38 289h1M76 289h1M2 290h1M7 290h1M17 290h1M22 290h1M52 290h1M74 290h1M99 290h1M2 291h1M7 291h1M22 291h1M145 291h1M1 292h1M55 292h1M54 293h1M64 293h1M83 293h1M85 293h1M98 293h1M118 293h1M41 294h1M43 294h1M2 295h1M24 295h1M42 295h2M74 295h1M13 296h1M17 296h2M45 296h1M57 296h1M65 296h1M76 296h1M81 296h1M83 296h1M106 296h1M114 296h1M125 296h1M13 297h1M45 297h1M74 297h1M14 298h1M48 298h1M59 298h1M68 298h1M112 298h1M47 299h1M64 299h1M98 299h1M135 299h1M2 300h1M45 300h1M79 300h1M93 300h1M108 300h1M25 301h1M31 301h1M87 301h1M106 301h1M110 301h1M120 301h1M6 302h1M9 302h1M97 302h1M4 303h1M15 303h1M41 303h1M85 303h1M103 303h1M145 303h1M8 304h1M11 304h1M58 304h1M71 304h1M75 304h1M103 304h1M5 305h1M116 305h1M120 305h1M135 305h1M0 306h1M32 306h1M62 306h1M55 307h1M68 307h1M105 307h1M0 308h1M4 308h1M9 308h1M35 308h1M41 308h1M86 308h1M11 309h1M17 309h1M91 309h1M116 309h1M15 310h1M68 310h1M4 311h1M78 311h1M101 311h1M9 312h1M13 312h1M17 312h1M39 312h1M42 312h1M52 312h1M77 312h1M101 312h1M3 313h1M5 313h1M106 313h1M116 313h1M48 314h1M93 314h1M58 315h1M81 315h1M101 315h1M78 316h1M88 316h1M101 316h1M104 316h1M30 317h1M51 317h1M85 317h2M29 318h1M54 318h1M68 318h1M92 318h1M99 318h1M3 319h1M35 319h1M98 319h1M6 320h1M12 320h1M34 320h1M37 320h1M71 320h1M85 320h1M97 320h1M100 320h1M30 321h1M101 321h1M23 322h1M42 322h1M64 322h1M68 322h1M8 323h1M14 323h1M25 323h1M41 323h1M49 323h1M68 323h1M110 323h1M22 324h1M30 324h1M68 324h1M73 324h1M11 325h1M68 325h1M18 326h1M57 326h1M74 326h1M88 326h1M38 327h1M81 327h1M85 327h1M99 327h1M108 327h1M8 328h1M10 328h1M31 328h1M40 328h1M75 329h1M88 329h1M118 329h1M63 330h2M66 330h1M77 330h1M92 330h1M73 331h1M92 331h1M116 331h1M125 331h1M1 332h1M14 332h1M46 332h1M79 332h1M93 332h1M98 332h1M28 333h1M44 333h1M55 333h1M95 334h1M114 334h1M130 334h1M43 335h1M73 335h1M120 335h1M130 335h1M58 336h1M71 336h1M89 336h1M97 336h1M110 336h1M9 337h1M23 337h1M25 337h1M42 337h1M62 337h1M91 337h1M103 337h1M0 338h1M57 338h2M91 338h1M93 338h1M130 338h1M17 339h2M31 339h1M36 339h1M49 340h1M75 340h1M83 340h1M140 340h1M45 341h1M51 341h1M60 341h1M103 341h1M54 342h1M74 342h1M120 342h1M8 343h1M11 343h1M14 343h1M21 343h1M23 343h1M57 343h1M78 343h1M102 343h1M20 344h1M71 344h1M98 344h1M10 345h1M12 345h1M22 345h1M54 345h1M69 345h1M110 345h1M9 346h1M28 346h2M31 346h1M68 346h1M74 346h1M89 346h1M99 346h1M103 346h1M0 347h1M104 347h1M114 347h1M31 348h2M39 348h1M66 348h2M71 348h1M61 349h1M93 349h1M59 350h1M1 351h1M56 351h1M64 351h1M69 351h1M102 351h1M7 352h1M13 352h1M24 352h1M97 352h1M14 353h1M34 353h1M45 353h1M140 353h1M14 354h1M17 354h1M28 354h1M34 354h1M48 354h1M84 354h1M35 355h1M110 355h1M8 356h1M10 356h1M58 356h1M103 356h1M46 357h1M70 357h1M73 357h1M95 357h1M105 357h1M55 358h1M145 358h1M14 359h1M60 359h1M64 359h1M31 360h1M34 360h1M37 360h1M88 360h1M94 360h1M104 360h1M140 360h1M19 361h1M29 361h1M45 361h1M75 361h1M52 362h1M71 362h1M77 362h2M48 363h1M51 363h1M77 363h1M110 363h1M3 364h1M5 364h1M17 364h1M37 364h1M114 364h1M140 364h1M32 365h1M48 365h1M58 365h1M99 365h1M2 366h1M52 366h1M73 366h1M88 366h1M1 367h1M28 367h1M58 367h1M72 367h1M102 367h1M66 368h1M74 368h1M79 368h1M99 368h1M101 368h1M105 368h1M145 368h1M1 369h1M11 369h1M54 369h1M60 369h1M150 369h1M38 370h1M71 370h1M86 370h1M116 370h1M135 370h1M50 371h1M59 371h1M92 371h1M105 371h1M13 372h1M39 372h1M47 372h1M50 372h1M79 372h1M88 372h1M0 373h1M14 373h1M18 373h1M39 373h1M46 373h1M62 373h1M110 373h1M12 375h1M31 375h1M54 375h1M75 375h1M135 375h1M41 376h1M54 376h1M74 376h1M112 376h1M5 377h1M41 377h1M49 377h1M95 377h2M125 377h1M135 377h1M92 378h1M106 378h1M72 379h1M78 379h2M89 379h1M92 379h1M100 379h1M110 379h1M24 380h1M43 380h1M66 380h1M68 380h1M75 380h1M78 380h1M5 381h1M17 381h1M46 381h1M52 381h1M62 381h1M87 381h1M25 382h1M81 382h1M89 382h1M91 382h1M108 382h1M116 382h1M135 382h1M16 383h1M64 383h1M67 384h1M11 385h2M14 385h1M18 385h1M145 385h1M4 386h1M33 386h1M68 386h1M50 387h2M86 388h1M89 388h1M120 388h1M15 389h1M36 389h1M70 389h1M92 389h1M130 389h1M11 390h1M83 390h1M106 390h1M5 391h1M48 391h1M54 391h1M130 391h1M56 392h1M62 392h2M114 392h1M14 393h1M60 393h1M100 393h1M108 393h1M125 393h1M2 394h1M30 394h1M48 394h1M76 394h1M140 394h1M12 395h2M47 395h1M54 395h1M67 395h1M85 395h1M103 395h1M59 396h1M32 397h1M100 397h1M103 397h1M30 398h2M55 398h1M65 398h1M68 398h1M101 398h1M103 398h1M106 398h1M15 399h1M17 399h1M24 399h1M31 399h1M44 399h1M46 399h1M81 399h1M2 400h1M17 400h1M41 400h1M64 400h1M110 400h1M25 401h1M29 401h1M32 401h1M69 401h1M73 401h1M86 401h1M145 401h1M4 402h1M24 402h1M32 402h1M71 402h1M95 402h1M0 403h1M5 403h1M95 403h1M20 404h1M51 404h1M88 404h1M104 404h1M12 405h1M14 405h1M84 405h1M91 405h1M130 405h1"/>
<path stroke="#48186a" d="M140 17h1M125 18h1M114 21h1M16 22h1M33 22h1M78 22h1M63 24h1M78 24h1M130 24h1M10 25h1M30 25h2M37 25h1M40 25h1M44 25h1M51 25h1M55 25h1M74 25h1M83 25h1M93 25h1M101 25h1M105 25h1M21 26h1M24 26h1M68 26h1M19 27h1M44 27h1M49 27h1M75 27h1M88 27h1M98 27h1M125 27h1M135 27h1M11 28h1M24 28h1M29 28h1M38 28h1M56 28h1M65 28h1M67 28h1M70 28h1M76 28h1M92 28h2M140 28h1M20 29h1M22 29h1M29 29h1M42 29h2M45 29h1M55 29h1M84 29h1M38 30h1M75 30h1M106 30h1M8 31h1M14 31h1M20 31h1M35 31h1M74 31h1M97 31h1M110 31h1M9 32h1M13 32h1M17 32h1M24 32h1M38 32h1M41 32h1M44 32h1M64 32h1M69 32h1M86 32h1M6 33h1M12 33h1M14 33h1M45 33h1M93 33h1M104 33h2M140 33h1M6 34h1M18 34h1M40 34h1M52 34h1M110 34h1M145 34h1M12 35h1M33 35h1M67 35h1M75 35h1M79 35h1M65 36h1M92 36h1M99 36h1M130 36h1M18 37h1M51 37h1M76 37h1M118 37h1M3 38h1M6 38h1M18 38h1M42 38h1M91 38h1M108 38h1M6 39h1M48 39h2M55 39h1M62 39h1M91 39h1M114 39h1M59 40h1M112 40h1M150 40h1M12 41h1M71 41h1M78 41h1M106 41h1M110 41h1M34 42h1M47 42h1M96 42h1M105 42h1M2 43h1M32 43h1M54 43h1M59 43h1M62 43h1M114 43h1M118 43h1M135 43h1M4 44h1M9 44h1M13 44h1M15 44h1M51 44h1M62 44h1M101 44h1M19 45h1M98 45h1M2 46h1M4 46h1M20 46h1M23 46h1M56 46h1M65 46h1M70 46h2M76 46h1M93 46h1M108 46h1M10 47h1M41 47h1M48 47h1M52 47h1M3 48h1M10 48h1M24 48h1M42 48h1M60 48h1M84 48h1M130 48h1M39 49h1M43 49h1M76 49h1M79 49h1M81 50h1M26 51h1M74 51h1M89 51h1M106 51h1M38 52h1M77 52h1M86 52h1M106 52h1M3 53h1M8 53h1M42 53h1M51 53h1M76 53h1M88 53h1M125 53h1M3 54h1M33 54h1M50 54h1M60 54h1M62 54h1M72 54h1M74 54h1M80 54h1M106 54h1M16 55h1M60 55h1M110 55h1M0 56h1M42 56h1M51 56h1M105 56h1M9 57h1M11 57h1M13 57h1M62 57h1M70 57h1M140 57h1M4 58h1M19 58h2M79 58h1M95 58h1M24 59h1M36 59h1M42 59h1M57 59h1M70 59h1M72 59h1M78 59h1M125 59h1M150 59h1M12 60h1M49 60h1M61 60h1M84 60h1M101 60h1M105 60h2M2 61h1M65 61h1M74 61h1M76 61h1M110 61h1M125 61h1M17 62h1M74 62h1M32 63h1M81 63h1M86 63h1M51 64h1M106 64h1M19 65h1M76 65h1M112 65h1M150 65h1M11 66h1M13 66h1M75 66h1M110 66h1M26 67h1M55 67h1M59 67h1M74 67h1M26 68h1M30 68h1M57 68h1M78 68h1M5 69h1M14 69h1M110 69h1M116 69h1M14 70h1M32 70h1M48 70h1M81 70h1M95 70h1M11 71h1M78 71h1M18 72h1M35 72h1M83 72h1M94 72h1M108 72h1M1 73h1M6 73h1M32 73h1M43 73h1M88 73h1M102 73h1M104 73h1M114 73h1M40 74h1M54 74h1M59 74h1M75 74h1M2 75h1M54 75h1M67 75h1M81 75h1M87 75h1M93 75h1M20 76h1M29 76h1M52 76h1M72 76h1M94 76h1M108 76h1M15 77h1M42 77h1M95 77h1M101 77h1M15 78h1M28 78h1M44 78h1M75 78h1M93 78h1M112 78h1M125 78h1M6 79h1M95 79h1M21 80h1M60 80h1M87 80h1M4 81h1M42 81h1M45 81h1M88 81h1M120 81h1M13 82h1M41 82h1M84 82h1M108 82h1M125 82h1M66 83h1M86 83h1M104 83h1M130 83h1M10 84h1M56 84h1M58 84h1M75 84h1M78 84h1M140 84h1M14 85h1M38 85h1M64 85h1M91 85h1M103 85h1M112 85h1M29 86h1M55 86h1M60 86h1M65 86h1M83 86h1M20 87h1M23 87h1M45 87h1M64 87h1M66 87h1M11 88h1M52 88h1M75 88h1M93 88h1M150 88h1M0 89h1M25 89h1M55 89h1M61 89h2M69 89h1M116 89h1M135 89h1M6 90h1M30 90h1M60 90h1M62 90h1M78 90h1M89 90h1M6 91h1M52 91h1M59 91h1M81 91h1M87 91h1M24 92h1M59 92h1M74 92h1M140 92h1M145 93h1M12 94h1M22 94h1M77 94h1M96 94h1M125 94h1M150 94h1M19 95h1M32 95h1M54 95h1M67 95h1M99 95h1M30 96h1M33 96h2M85 96h1M89 96h1M42 97h1M44 97h1M72 97h1M78 97h1M29 98h1M39 98h1M51 98h1M66 98h1M75 98h1M116 98h1M2 99h1M14 99h2M65 99h1M75 99h1M25 100h1M30 100h1M44 100h1M81 100h1M130 100h1M35 101h1M56 101h1M92 101h1M104 101h1M7 102h1M55 102h1M66 102h1M114 102h1M31 103h1M68 103h1M114 103h1M20 104h1M95 104h1M140 104h1M31 105h1M48 105h1M91 105h1M112 105h1M140 105h1M19 106h1M24 106h1M140 106h1M64 107h1M75 108h1M84 108h1M69 109h1M13 110h1M15 110h1M22 110h1M44 110h1M83 110h1M94 110h1M9 111h1M19 111h1M30 111h1M57 111h1M69 111h1M73 111h1M78 111h1M0 112h1M20 112h1M24 112h1M20 113h1M125 113h1M30 114h1M88 114h1M31 115h1M35 115h1M58 115h1M66 115h1M91 115h1M45 116h1M49 116h1M54 116h1M101 116h1M104 116h1M8 117h2M34 117h1M76 117h1M99 117h1M52 118h1M91 118h1M145 118h1M21 119h1M47 119h1M69 119h1M96 119h1M52 120h1M58 120h1M68 120h1M75 120h1M88 120h1M95 120h1M145 120h1M28 121h1M145 121h1M1 122h1M6 122h1M65 122h1M103 122h1M114 122h1M0 123h1M74 123h1M17 124h1M76 124h1M84 124h1M93 124h1M28 125h1M88 125h1M9 126h1M30 126h1M48 126h1M61 126h1M92 126h1M15 127h1M84 127h1M87 127h1M140 127h1M2 128h1M39 128h1M58 128h1M62 128h1M91 128h1M93 128h1M103 128h1M31 129h1M75 129h1M114 129h1M7 130h1M58 130h1M94 130h1M112 130h1M120 130h1M130 130h1M3 131h1M8 131h1M68 131h1M91 131h1M100 131h1M120 131h1M140 131h1M12 132h1M71 132h1M12 133h1M43 133h1M49 133h1M77 133h1M84 133h1M101 133h1M125 133h1M31 134h1M56 134h1M68 134h1M97 134h1M114 134h1M59 135h1M91 135h1M22 136h1M37 136h1M73 136h1M81 136h1M91 136h1M97 136h1M105 136h1M32 137h1M39 137h1M97 137h1M104 137h1M130 137h1M13 138h1M27 138h1M59 138h1M91 138h1M95 138h1M99 138h1M116 138h1M12 139h1M38 139h1M76 139h2M105 139h1M112 139h1M135 139h1M1 140h1M59 140h1M74 140h1M90 140h1M145 140h1M29 141h1M38 141h1M46 141h1M56 141h1M58 141h1M103 141h1M108 141h1M150 141h1M46 142h1M71 142h1M77 142h1M83 142h3M68 143h1M70 143h1M39 144h2M68 144h1M81 144h1M30 145h1M52 145h1M60 145h1M95 145h1M135 145h1M13 146h1M55 146h1M73 146h1M15 147h1M54 147h1M77 147h1M92 147h1M101 147h1M4 148h1M22 148h1M94 148h1M106 148h1M116 148h1M125 148h1M9 149h1M72 149h1M85 149h1M19 150h1M31 151h1M50 151h1M67 151h1M118 151h1M34 152h1M64 152h1M78 152h1M89 152h1M92 152h1M98 152h1M38 153h1M47 153h1M50 153h2M57 153h1M62 153h1M78 153h1M89 153h1M96 153h1M108 153h1M9 154h1M75 154h1M103 154h1M125 154h1M12 155h1M20 155h1M52 155h1M55 155h1M62 155h1M104 155h1M45 156h1M59 156h1M64 156h1M74 156h1M41 157h1M53 157h1M116 157h1M20 158h1M31 158h1M40 158h1M70 158h1M0 159h1M19 159h1M24 159h1M30 159h1M47 159h1M70 159h1M73 159h1M79 159h1M81 159h1M83 159h1M16 160h1M35 160h1M67 160h1M78 160h1M81 160h1M86 160h1M9 161h1M50 161h1M83 161h1M23 162h1M64 162h1M66 162h1M135 162h1M19 163h1M35 163h1M60 164h1M67 164h1M75 164h1M19 165h1M22 165h1M38 165h1M43 165h2M57 165h1M82 165h1M94 165h2M108 165h1M112 165h1M4 166h1M36 166h1M63 166h1M86 166h2M8 167h1M13 167h1M17 167h1M49 167h1M29 168h1M38 168h2M71 168h1M103 168h1M25 169h1M38 169h1M64 169h1M93 169h1M140 169h1M47 170h1M100 170h1M106 170h1M114 170h1M1 171h1M6 171h1M30 172h1M55 172h1M118 172h1M3 173h1M23 173h1M47 173h1M100 173h1M103 173h1M52 174h1M64 174h1M78 174h1M4 175h1M20 175h1M34 175h1M43 175h1M64 175h1M72 175h1M145 175h1M6 176h1M29 176h1M49 176h1M69 176h1M35 177h1M49 177h1M23 178h1M39 178h1M61 178h1M97 178h1M145 178h1M42 179h1M50 179h1M60 179h1M66 179h1M69 179h1M20 180h1M76 180h1M83 180h1M9 181h1M67 181h1M140 181h1M25 182h1M70 182h1M85 182h1M92 182h1M100 182h1M2 183h1M10 183h1M18 183h1M63 183h1M116 183h1M4 184h1M87 184h1M100 184h1M17 185h1M8 186h1M29 186h1M76 186h1M94 186h1M101 186h1M15 187h1M31 187h1M41 187h1M99 187h1M14 188h2M39 188h1M104 188h1M140 188h1M14 189h1M19 189h1M70 189h1M97 189h1M4 190h1M30 190h1M54 190h1M62 190h1M89 190h1M18 191h1M25 191h1M17 192h1M22 192h1M63 193h1M84 193h1M33 194h1M38 194h1M43 194h1M81 194h1M86 194h2M112 194h1M120 194h1M17 195h1M36 195h1M45 195h1M57 195h1M61 195h1M150 195h1M23 196h1M35 196h1M61 196h2M66 196h1M98 196h1M0 197h1M35 197h1M44 197h2M84 197h1M12 198h1M50 198h1M118 198h1M43 199h1M50 199h1M96 199h1M100 199h1M104 199h1M42 200h1M130 200h1M93 201h1M103 201h1M43 203h1M52 203h1M76 203h1M38 204h1M73 204h1M13 205h1M24 205h1M49 205h1M54 205h1M65 205h1M71 205h2M88 205h1M102 205h1M6 206h1M55 206h1M82 206h1M89 206h1M29 207h2M55 207h1M57 207h2M68 207h1M77 207h1M86 207h1M118 207h1M150 207h1M0 208h1M64 208h1M93 208h1M116 208h1M19 209h1M22 209h1M29 209h1M48 209h1M58 209h1M47 210h1M73 210h1M3 211h1M8 211h1M30 211h1M73 211h1M83 211h1M101 211h1M39 212h1M41 212h1M93 212h1M110 212h1M6 213h1M13 213h1M20 213h1M135 213h1M28 214h1M32 214h1M37 214h1M75 214h1M88 214h1M91 214h1M102 214h1M8 215h1M36 215h1M69 215h1M88 215h1M91 215h1M100 215h1M102 215h1M30 216h1M77 216h1M81 216h1M98 216h1M125 216h1M130 216h1M79 217h1M120 217h1M43 218h1M61 218h1M67 218h1M84 218h1M92 218h1M140 218h1M8 219h2M7 220h2M29 220h1M57 220h1M65 220h1M91 220h1M145 220h1M18 221h1M29 221h1M32 221h1M44 221h1M67 221h1M76 221h1M83 221h1M99 221h1M104 221h1M62 222h1M118 222h1M87 223h1M99 223h1M1 224h1M55 224h1M72 224h1M104 224h1M55 225h1M66 225h1M76 225h1M8 226h1M42 226h1M48 226h1M78 226h1M84 226h1M102 226h1M13 227h1M66 227h1M71 227h1M75 227h1M79 227h1M11 228h1M28 228h1M35 228h1M41 228h1M43 228h1M49 228h2M101 228h1M13 229h1M120 229h1M150 229h1M3 230h2M57 230h1M73 230h2M86 230h1M104 230h1M116 230h1M130 230h1M55 231h1M60 231h1M84 231h1M106 231h1M14 232h1M103 232h1M32 233h2M37 233h1M42 233h1M70 233h1M95 233h1M116 233h1M48 234h1M60 234h1M78 234h1M96 234h1M42 236h1M66 236h1M76 236h1M26 237h1M55 237h1M57 237h1M60 237h1M78 237h1M83 237h1M66 238h1M87 238h1M47 239h1M57 239h1M99 239h1M135 239h1M15 240h1M38 240h1M44 240h1M3 241h1M40 241h1M49 241h1M135 241h1M106 242h1M135 242h1M10 243h1M28 243h1M43 243h1M54 243h1M56 243h1M2 244h1M5 244h1M91 244h1M104 244h1M112 244h1M130 244h1M135 244h1M40 245h1M56 245h1M86 245h1M40 246h1M57 246h1M60 246h1M69 246h1M86 246h1M14 247h1M17 247h1M24 247h1M49 247h1M81 247h1M87 247h1M101 247h1M9 248h1M20 248h1M25 248h1M34 248h1M48 248h1M51 248h1M77 248h1M101 248h1M24 249h1M30 249h1M32 249h1M44 249h1M54 249h1M73 249h1M88 249h1M99 249h2M58 250h1M106 250h1M118 250h1M49 251h1M56 251h1M58 251h1M60 251h1M89 251h1M108 251h1M125 251h1M27 252h1M43 252h1M61 252h1M95 252h1M13 253h1M56 253h1M112 253h1M116 253h1M130 253h1M78 254h1M81 254h1M16 255h1M59 255h1M22 256h1M38 256h1M51 256h1M102 256h1M110 256h1M3 257h1M38 257h1M55 257h1M81 257h1M104 257h1M12 258h1M88 258h1M15 259h1M118 259h1M17 260h1M19 260h1M60 260h2M67 260h1M78 260h1M81 260h1M15 261h1M21 261h1M24 261h1M32 261h1M57 261h1M62 261h1M93 261h1M150 261h1M3 262h1M12 262h1M30 262h1M72 262h1M88 262h1M106 262h1M4 263h1M14 263h1M47 263h1M84 263h1M130 263h1M24 264h1M35 264h1M38 264h1M44 264h1M120 264h1M18 265h1M22 265h1M51 266h1M71 266h1M74 266h1M31 267h1M99 267h1M3 268h1M11 268h1M58 268h1M94 268h2M125 268h1M2 270h1M43 270h1M88 270h1M23 271h1M85 271h1M94 271h1M103 271h1M106 271h1M43 272h1M83 272h2M93 272h1M12 273h1M39 273h1M108 273h1M150 273h1M9 274h1M32 274h1M66 274h1M95 274h1M10 275h1M24 275h1M44 275h1M76 275h1M79 275h1M120 275h1M64 276h1M95 276h1M8 277h1M78 277h1M95 277h1M3 278h1M51 278h1M64 278h1M108 278h1M1 279h1M31 279h1M55 279h1M69 279h1M74 279h1M85 279h1M91 279h1M20 280h1M94 280h1M110 280h1M12 281h1M52 281h1M57 281h1M102 281h1M0 282h1M6 282h1M30 282h1M35 282h1M95 282h1M78 283h1M110 283h1M150 283h1M75 284h1M85 284h1M67 285h1M71 285h1M78 285h1M84 285h1M86 285h1M93 285h1M120 285h1M9 286h1M13 286h1M17 286h1M67 286h1M93 286h1M3 287h1M46 287h1M61 287h1M75 287h1M10 288h1M23 288h1M31 288h1M60 288h1M87 288h1M103 288h1M112 288h1M17 289h2M36 289h1M62 289h1M67 289h1M74 289h1M91 289h1M102 289h2M145 289h1M39 290h1M42 290h1M50 290h1M56 290h1M98 290h1M74 291h1M89 291h1M135 291h1M13 292h1M58 292h1M68 292h1M83 292h1M93 292h1M6 293h1M11 293h1M42 293h1M59 293h1M99 293h1M39 294h1M77 294h2M150 294h1M1 295h1M52 295h1M54 295h1M102 295h1M106 295h1M22 296h1M29 296h1M38 296h1M42 296h1M48 296h1M130 296h1M22 297h1M24 297h1M29 297h1M60 297h1M66 297h1M83 297h1M36 298h1M40 298h1M58 298h1M93 298h1M102 298h1M44 299h1M59 299h1M114 299h1M145 299h1M25 300h1M33 300h1M6 301h1M15 301h1M36 301h2M68 301h1M114 301h1M2 302h1M62 302h1M95 302h1M118 302h1M135 302h1M6 303h1M46 303h2M50 303h1M56 303h1M62 303h1M91 303h1M22 304h1M30 304h1M40 304h1M101 304h1M15 305h1M43 305h1M56 305h1M72 305h2M75 305h1M97 305h1M25 306h1M63 306h1M87 306h1M91 306h1M95 306h1M106 306h1M13 307h1M20 307h1M31 307h1M50 307h1M57 307h1M74 307h1M79 307h1M83 307h1M85 307h1M110 307h1M14 308h1M85 308h1M101 308h1M35 309h1M108 309h1M13 310h1M61 310h1M95 310h1M18 311h1M28 311h1M64 311h1M66 311h1M73 311h1M79 311h1M6 312h1M28 312h1M37 312h2M150 312h1M11 313h1M23 313h1M54 313h1M69 313h2M125 313h1M28 314h1M62 314h1M87 314h1M120 314h1M28 315h1M31 315h1M91 315h1M135 315h1M34 316h1M62 316h1M125 316h1M140 316h1M5 317h1M8 317h1M39 317h1M47 317h1M56 317h1M91 317h1M35 318h1M39 318h1M47 318h1M77 318h1M145 318h1M20 319h1M24 319h1M30 319h1M88 319h1M104 319h1M112 319h1M30 320h1M55 320h1M79 320h1M116 320h1M24 321h1M51 321h1M112 321h1M118 321h1M48 322h1M118 322h1M15 323h1M96 323h1M98 323h1M13 324h1M39 324h1M47 324h1M51 324h1M65 324h1M0 325h1M13 325h1M17 325h1M48 325h1M96 325h1M14 326h1M17 326h1M48 326h1M61 326h1M81 326h1M6 327h1M11 327h1M17 327h1M28 327h1M34 327h1M50 327h1M61 327h1M112 327h1M22 328h2M56 328h1M41 329h1M61 329h1M77 329h1M18 330h1M25 330h1M75 330h1M118 330h1M0 331h2M57 331h1M81 331h1M103 331h1M106 331h1M92 332h1M99 332h1M102 332h1M130 332h1M23 333h1M26 333h1M42 333h1M74 335h1M92 335h1M42 336h1M104 336h2M145 336h1M15 337h1M48 337h1M97 337h1M140 337h1M3 338h1M11 338h1M45 338h1M47 338h1M51 338h1M54 338h1M70 338h1M73 338h1M3 339h1M50 339h1M76 339h1M78 339h1M5 340h1M65 340h1M68 340h1M91 340h1M94 340h1M100 340h1M11 342h1M76 342h1M89 342h1M100 342h1M47 343h1M58 343h1M106 343h1M19 344h1M25 344h1M59 344h1M73 345h1M78 345h2M83 345h1M85 345h1M14 346h1M24 346h1M66 346h2M85 346h1M95 346h1M104 346h1M14 347h1M22 347h1M93 347h1M20 348h1M52 348h1M55 348h1M61 348h1M74 348h1M88 348h1M112 348h1M130 348h1M150 348h1M5 349h1M37 349h2M64 349h1M130 349h1M63 350h1M74 350h1M0 351h1M15 351h1M30 351h1M72 351h1M75 351h1M118 351h1M150 351h1M5 352h1M43 352h1M64 352h1M73 352h1M98 352h2M102 352h1M120 352h1M47 353h1M118 353h1M130 353h1M94 354h1M114 354h1M25 355h1M50 356h1M64 356h1M99 357h1M40 358h1M106 358h1M68 359h1M104 359h1M108 359h1M42 360h1M66 360h1M79 360h1M20 361h1M87 361h1M112 361h1M125 361h1M70 362h1M8 363h1M59 363h1M70 363h1M81 363h1M86 363h1M99 363h1M116 363h1M24 364h1M43 364h1M65 364h1M81 364h1M83 364h1M112 364h1M52 365h1M55 365h1M39 366h1M47 366h1M50 366h1M71 366h1M74 366h1M95 366h1M56 367h1M62 367h1M70 367h1M100 367h1M78 368h1M86 368h1M102 368h1M17 369h1M24 369h1M49 369h1M73 369h1M81 369h1M94 369h1M120 369h1M19 370h1M85 370h1M95 370h1M10 371h1M43 371h1M96 371h1M68 372h1M43 373h1M50 373h1M56 373h1M64 373h1M70 373h1M81 373h1M93 373h2M96 373h1M118 373h1M125 373h1M130 373h1M38 374h1M49 374h1M103 375h1M118 375h1M26 376h1M32 376h1M51 376h1M64 376h1M85 376h1M96 376h1M120 376h1M125 376h1M19 377h1M32 377h1M66 377h1M69 377h1M100 377h1M118 377h1M140 377h1M2 378h1M20 378h1M56 378h1M49 379h1M71 379h1M106 379h1M125 379h1M0 380h1M32 380h1M73 380h1M87 380h1M94 380h1M140 380h1M98 381h1M135 381h1M21 382h1M39 382h1M72 382h1M79 382h1M83 382h1M106 382h1M22 383h1M37 383h1M46 383h3M40 384h1M59 384h1M76 384h1M91 384h1M73 385h1M99 385h1M108 385h1M140 385h1M54 386h1M60 386h1M70 386h1M85 386h1M9 387h1M18 387h1M38 387h1M68 387h1M130 387h1M10 388h1M33 388h2M79 388h1M3 389h1M28 389h1M50 389h1M52 389h1M59 389h1M4 390h1M41 390h1M58 390h1M68 390h1M51 391h1M55 391h1M60 391h1M69 391h1M135 391h1M18 392h1M35 392h1M89 392h1M92 392h1M100 392h1M6 393h1M64 393h1M66 393h1M71 393h1M78 393h1M85 393h1M89 393h1M98 393h1M18 394h1M79 394h1M84 394h1M4 395h1M49 395h1M68 395h1M97 395h1M32 396h1M36 396h1M43 396h1M96 396h1M98 396h1M100 396h1M34 397h1M48 397h1M2 398h1M22 398h1M99 398h1M56 399h2M86 399h1M12 400h1M15 400h1M42 400h1M6 401h1M38 401h1M64 401h1M81 401h1M88 401h1M91 401h1M96 401h1M42 402h1M85 402h1M46 403h1M70 403h1M125 403h1M40 404h1M52 404h1M59 404h1M101 404h1M125 404h1M9 405h1M23 405h1M75 405h1M77 405h1M85 405h1M114 405h1M145 405h1"/>
<path stroke="#481c6e" d="M27 16h1M53 16h1M79 16h1M90 17h1M80 18h1M130 18h1M27 20h1M145 21h1M135 22h1M53 23h1M82 23h1M116 23h1M53 24h1M82 24h1M18 25h2M56 25h1M66 25h1M72 25h1M76 25h1M103 25h1M0 26h1M11 26h1M44 26h2M49 26h1M58 26h1M69 26h1M73 26h1M77 26h1M91 26h1M95 26h1M98 26h1M100 26h1M118 26h1M26 27h1M31 27h1M79 27h1M92 27h1M118 27h1M28 28h1M39 28h1M46 28h1M48 28h1M52 28h1M61 28h1M66 28h1M71 28h1M88 28h1M108 28h1M9 29h1M23 29h1M105 29h1M112 29h1M46 30h1M84 30h1M93 30h1M135 30h1M22 31h1M44 31h1M68 31h1M100 31h1M116 31h1M4 32h1M32 32h1M93 32h1M13 33h1M40 33h1M44 33h1M47 33h2M1 34h1M36 34h1M47 34h1M83 34h1M102 34h1M5 35h1M7 35h1M10 35h1M77 35h1M14 36h1M32 36h1M56 36h1M58 36h1M49 37h1M58 37h1M92 37h1M19 38h1M23 38h1M31 38h1M36 38h2M135 38h1M145 38h1M54 39h1M56 39h1M66 39h2M103 39h1M31 40h1M52 40h1M58 40h1M66 40h1M94 40h1M98 40h1M100 40h1M108 40h1M13 41h1M24 41h1M29 41h1M31 41h2M85 41h1M103 41h1M8 42h1M37 42h1M34 43h1M65 43h1M91 43h1M34 44h1M41 44h1M58 44h1M60 44h1M81 44h1M92 44h1M35 45h1M64 45h1M72 45h1M75 45h1M95 45h2M99 45h1M118 45h1M12 46h2M145 46h1M9 47h1M81 47h1M19 48h1M96 48h1M125 48h1M135 48h1M4 49h1M34 49h1M46 49h1M54 49h1M66 49h1M78 49h1M112 49h1M17 50h1M19 50h1M41 50h1M64 50h1M89 50h1M13 51h1M24 51h1M37 51h1M76 51h1M76 52h1M79 52h1M104 52h1M125 52h1M31 53h1M71 53h1M2 54h1M65 54h1M84 54h1M116 54h1M93 55h1M102 55h1M22 56h1M46 56h1M88 56h1M118 56h1M130 56h1M49 57h1M75 57h1M85 57h1M48 58h1M93 58h1M68 59h1M81 59h1M84 59h1M9 60h1M29 60h1M96 60h2M150 60h1M22 61h1M91 61h1M96 61h1M99 61h1M103 61h1M112 61h1M135 61h1M6 62h1M19 62h1M23 62h1M37 62h1M44 62h1M112 62h1M130 62h1M9 63h1M41 63h1M56 63h1M118 63h1M13 64h1M17 64h1M58 64h1M13 65h1M22 65h1M24 65h1M41 65h1M67 65h1M17 66h1M54 66h1M56 66h1M106 66h1M87 67h1M5 68h1M61 68h1M81 68h1M105 68h1M72 69h1M89 69h1M102 69h1M31 70h1M10 71h1M29 71h1M56 71h1M95 71h1M105 71h1M4 72h1M23 72h1M28 72h1M48 72h1M112 72h1M44 73h1M59 73h1M32 74h2M62 74h1M24 75h1M28 75h1M51 75h2M66 78h1M77 78h1M118 78h1M145 78h1M30 79h1M36 79h1M103 79h1M106 79h1M135 79h1M13 80h1M17 80h1M40 80h1M55 80h1M73 81h1M8 82h1M24 82h1M59 82h1M79 82h1M83 82h1M0 83h1M60 83h1M16 84h1M24 84h1M47 84h1M86 84h1M135 84h1M13 85h1M65 85h1M18 86h1M62 86h1M6 87h1M57 87h1M96 87h1M34 88h1M40 88h1M43 88h1M45 88h1M57 88h1M59 88h1M3 89h1M6 89h1M47 89h1M1 90h1M18 90h1M40 90h1M65 90h1M70 90h1M87 90h1M91 90h1M17 91h1M64 91h1M110 91h1M51 92h1M55 92h1M12 93h1M66 93h1M114 93h1M88 94h1M5 95h1M20 95h1M60 95h1M96 95h1M98 95h1M103 95h1M15 96h1M23 96h1M25 96h1M39 96h1M45 96h1M49 96h1M64 96h1M38 97h1M91 97h1M97 97h1M15 98h1M64 98h1M106 98h1M62 99h1M77 99h1M150 99h1M28 100h1M55 100h1M68 100h1M72 100h1M74 100h1M83 100h1M17 101h1M46 101h1M96 101h1M48 102h1M140 102h1M3 103h1M8 103h1M36 103h1M54 103h1M83 103h1M99 103h1M14 104h1M19 104h1M58 104h1M94 104h1M99 105h1M108 105h1M120 105h1M37 106h1M42 106h1M50 106h1M98 106h1M0 107h1M28 107h1M75 107h1M98 107h1M104 107h1M112 107h1M130 107h1M150 107h1M44 108h1M60 108h1M87 108h1M116 108h1M7 109h1M38 109h1M60 109h1M75 109h1M104 109h1M26 110h1M86 110h1M88 110h1M3 111h1M6 111h1M15 111h1M145 111h1M38 112h1M48 112h1M87 112h1M96 112h1M103 112h1M3 113h1M104 113h1M120 113h1M17 114h1M25 114h1M37 114h1M71 114h1M87 114h1M28 115h1M43 115h1M56 115h1M72 115h1M79 115h1M83 115h1M135 115h1M4 116h1M47 116h1M51 116h1M57 116h1M65 116h1M114 116h1M150 116h1M1 117h1M57 117h1M105 117h1M67 118h1M69 118h1M1 119h1M25 119h1M50 119h1M85 119h1M91 119h1M108 120h1M20 121h1M65 121h1M74 121h1M23 122h1M49 122h2M73 122h1M112 122h1M68 123h1M11 124h1M57 124h1M89 124h1M20 125h1M23 125h1M30 125h1M48 125h1M1 126h1M39 126h1M52 126h1M88 126h1M112 126h1M9 127h1M38 127h1M48 127h1M50 127h1M54 127h1M70 127h1M1 128h1M37 128h1M56 128h1M99 128h1M9 129h1M14 129h1M24 129h1M36 129h1M135 129h1M2 130h1M4 130h1M95 130h1M15 131h1M34 131h1M43 131h1M145 131h1M42 132h1M77 132h1M101 132h1M20 133h1M31 133h1M94 133h1M32 134h1M118 134h1M31 135h1M41 135h1M58 135h1M76 135h1M98 135h1M39 136h1M45 136h1M79 136h1M112 137h1M22 138h1M48 138h1M53 138h1M101 138h1M31 139h1M102 139h1M125 139h1M12 140h1M57 140h1M61 140h1M64 140h1M67 140h1M30 141h1M70 141h1M42 142h1M100 142h1M8 143h1M16 143h1M37 143h1M72 143h1M116 143h1M11 144h1M89 144h1M93 144h1M99 144h1M75 145h1M85 145h1M98 145h1M125 145h1M6 146h1M31 146h1M41 146h1M96 146h1M99 146h1M7 147h1M23 147h2M48 147h1M70 147h1M83 147h1M86 147h1M106 147h1M10 148h2M17 148h1M21 148h1M73 148h1M18 149h2M22 149h1M47 149h2M89 149h1M38 150h1M71 150h1M60 151h1M44 152h1M76 152h1M81 152h1M102 152h1M44 153h1M54 153h1M2 154h2M10 154h1M19 154h1M42 154h1M54 154h1M67 154h1M77 154h1M114 154h1M42 155h1M46 155h1M54 155h1M68 155h1M87 155h1M105 155h1M114 155h1M140 155h1M36 156h1M56 156h1M87 156h1M118 156h1M130 156h1M87 157h1M102 157h1M104 157h1M0 158h1M2 158h1M6 158h1M25 158h1M28 158h1M67 158h1M2 159h1M62 159h1M89 159h1M57 160h1M83 160h1M89 160h1M94 160h1M0 161h1M12 161h1M62 161h1M79 162h1M118 162h1M32 163h1M32 164h1M66 164h1M6 165h1M17 166h1M30 166h1M83 166h1M93 166h2M150 166h1M30 167h1M58 167h2M69 167h1M66 168h1M86 168h1M0 169h1M47 169h1M73 169h1M83 169h1M135 169h1M60 170h1M62 170h1M97 170h1M32 171h1M140 171h1M1 172h1M9 172h2M64 172h1M68 172h1M20 173h1M60 173h1M125 173h1M6 174h1M39 174h1M43 174h1M150 174h1M62 175h1M112 175h1M150 175h1M99 176h1M102 176h1M3 177h1M7 177h1M42 177h1M84 177h1M140 177h1M81 178h1M22 179h1M73 179h1M89 179h1M108 179h1M110 179h1M32 180h1M66 180h1M3 181h1M11 181h1M57 181h1M70 181h1M112 181h1M116 181h1M0 182h1M9 182h1M15 182h1M46 182h1M76 182h1M102 182h1M0 183h1M58 183h1M34 184h1M43 184h1M49 184h1M110 184h1M150 184h1M0 185h1M41 185h1M46 185h1M78 185h1M83 185h1M33 186h1M44 186h2M52 186h1M68 186h1M91 186h1M93 186h1M4 187h1M9 187h1M16 187h1M37 187h1M70 187h1M84 187h1M24 188h1M40 188h1M67 188h2M83 188h1M106 188h1M39 189h1M69 189h1M77 189h1M6 190h1M22 190h1M74 190h1M77 190h1M79 190h1M103 190h1M105 190h1M135 190h1M56 191h1M99 191h1M108 191h1M98 192h1M17 193h1M42 193h1M57 193h1M62 193h1M68 193h1M87 193h1M10 194h1M71 194h1M108 194h1M21 195h1M31 195h1M38 195h1M75 195h1M0 196h1M10 196h1M13 196h1M71 196h1M79 196h1M118 197h1M13 198h1M33 198h1M106 198h1M140 198h1M150 198h1M64 199h1M8 200h1M10 200h1M19 200h1M45 200h1M86 200h1M145 200h1M31 201h1M73 201h1M87 201h1M95 201h1M110 201h1M13 202h1M46 202h1M92 202h1M34 203h1M37 203h1M74 203h1M83 203h1M87 203h1M120 203h1M0 204h1M4 204h1M46 204h1M102 204h1M62 205h1M110 205h1M118 205h1M20 206h1M92 206h1M140 206h1M13 207h1M25 207h1M54 207h1M81 207h1M39 208h1M55 208h1M57 208h1M25 209h1M35 209h1M81 209h1M96 209h1M0 210h1M49 210h1M57 210h1M69 210h1M71 210h1M75 210h1M81 210h1M114 210h1M32 211h1M105 211h1M54 212h1M108 212h1M114 212h1M28 213h1M79 213h1M140 213h1M145 213h1M5 214h1M25 214h1M52 214h1M68 214h1M108 214h1M23 215h1M65 215h1M71 215h1M81 215h1M103 215h1M13 216h1M23 216h1M87 216h1M118 216h1M6 217h1M78 217h1M98 217h1M6 218h1M17 218h2M56 218h1M19 219h1M50 219h1M91 219h1M101 219h1M112 219h1M1 220h1M6 220h1M52 220h1M54 220h1M64 220h1M15 221h1M20 221h1M73 221h1M102 221h1M19 222h1M0 223h1M25 223h1M55 223h1M79 223h1M91 223h1M98 223h1M42 224h1M77 224h1M110 224h1M118 224h1M42 225h1M56 225h1M93 225h1M105 225h1M145 225h1M34 226h1M9 227h1M8 228h1M22 228h1M45 228h1M85 228h1M8 229h1M10 229h1M37 229h1M14 230h1M19 230h1M24 230h1M49 230h1M62 230h1M76 230h1M102 230h1M108 230h1M1 231h1M18 231h1M42 231h1M48 231h1M75 231h1M108 231h1M135 231h1M10 232h1M35 232h1M48 232h1M68 232h1M5 233h1M41 233h1M75 233h1M81 233h1M83 233h1M105 233h1M17 234h1M58 234h1M61 234h1M82 234h1M30 235h1M38 235h2M48 235h1M85 235h1M5 236h1M14 236h1M6 237h1M17 237h1M46 237h1M61 237h1M92 237h1M28 238h1M103 238h1M118 238h1M36 239h1M79 239h1M150 239h1M25 240h1M29 240h1M55 240h1M69 241h1M70 242h1M83 242h1M125 242h1M30 243h1M55 243h1M110 243h1M48 244h1M81 244h1M15 245h1M33 245h1M94 245h1M108 245h1M81 246h1M83 246h1M51 247h1M83 247h1M91 247h1M94 247h1M100 247h1M120 247h1M140 247h1M70 248h1M89 248h1M42 249h1M51 249h1M91 250h2M33 251h1M83 251h1M103 251h1M18 252h1M33 252h1M101 252h1M125 252h1M18 253h1M39 253h1M64 253h1M101 253h1M118 253h1M14 254h1M28 254h1M50 254h1M56 254h1M77 254h1M91 254h1M114 254h1M37 255h1M51 255h1M72 255h1M79 255h1M0 256h2M69 256h1M72 256h1M48 257h1M89 257h1M26 258h1M43 258h2M75 258h1M87 258h1M106 258h1M17 259h1M71 259h1M4 260h1M15 260h1M54 260h1M83 260h1M92 260h1M94 260h1M6 261h1M14 261h1M60 261h1M92 261h1M1 262h1M24 262h1M42 262h1M56 262h1M41 263h1M51 263h1M76 263h1M104 263h1M47 264h1M58 264h1M106 264h1M11 265h1M25 265h1M106 265h1M1 266h1M54 266h1M83 266h1M150 266h1M22 267h2M65 267h1M76 267h1M84 267h1M106 267h1M145 267h1M19 268h1M46 268h1M5 269h1M25 269h1M57 269h1M66 269h1M104 269h1M4 271h1M29 271h1M40 272h1M5 273h1M103 273h1M94 274h1M104 274h1M38 275h1M49 275h1M84 275h1M94 275h1M10 276h1M61 276h1M97 276h1M37 277h1M45 277h1M100 277h1M110 277h1M100 278h2M36 279h1M70 279h1M92 279h1M114 279h1M4 280h1M54 280h1M71 280h2M93 280h1M106 280h1M11 281h1M28 281h1M75 281h1M92 281h1M15 282h1M49 282h1M60 283h1M71 283h1M93 283h1M2 284h1M49 284h1M120 284h1M0 285h1M38 285h1M48 285h1M103 285h1M50 286h1M76 286h1M101 286h1M103 286h1M40 287h1M72 287h1M145 287h1M4 288h1M8 288h1M57 288h1M66 288h1M77 289h1M35 290h1M43 290h1M58 290h1M76 290h1M78 290h1M108 290h1M0 291h1M6 291h1M54 291h1M58 291h1M85 291h1M120 291h1M9 292h1M18 292h1M46 292h1M69 292h1M103 292h1M10 293h1M18 293h1M34 294h1M52 294h1M72 294h1M85 294h1M88 294h1M6 295h1M34 295h1M58 295h1M94 295h1M44 296h1M31 297h1M86 297h1M93 297h1M105 297h1M23 298h1M103 298h1M6 299h1M13 299h1M56 299h1M79 299h1M88 299h1M38 300h1M92 300h1M89 301h1M103 301h1M5 302h1M30 302h1M36 302h1M49 302h1M61 302h1M92 302h1M140 302h1M17 303h1M65 303h1M93 304h1M10 305h2M47 305h1M50 305h1M65 305h1M69 305h1M85 306h1M97 306h1M28 307h1M47 307h1M52 307h1M89 307h1M34 308h1M51 309h1M62 309h1M98 309h1M104 309h1M26 310h1M64 310h1M88 310h1M30 311h1M43 311h1M57 311h1M62 311h1M83 311h2M106 311h1M112 311h1M41 312h1M51 312h1M65 312h1M69 312h1M98 312h1M112 312h1M118 312h1M39 313h1M65 313h1M86 313h1M101 313h1M130 313h1M0 314h1M6 314h1M135 314h1M73 315h1M19 316h1M44 316h1M61 316h1M68 316h1M13 317h1M17 317h1M41 317h1M55 317h1M100 317h1M6 318h1M31 318h1M52 318h1M104 318h1M23 319h1M62 319h1M81 319h1M85 319h1M87 319h1M96 319h1M14 320h1M49 320h2M52 320h1M59 320h1M102 320h1M17 321h1M29 321h1M68 321h1M91 321h1M125 321h1M85 322h1M110 322h1M114 322h1M125 322h1M31 323h1M34 323h2M39 323h1M97 323h1M36 324h1M49 324h1M55 324h1M84 324h1M100 324h1M14 325h1M44 325h1M78 325h2M91 325h1M116 325h1M54 326h1M91 326h1M105 326h1M75 327h1M7 328h1M11 328h1M34 328h1M64 328h1M9 329h1M49 329h1M70 329h1M72 329h1M19 330h1M110 330h1M114 330h1M14 331h1M50 331h1M56 331h1M91 331h1M17 332h1M20 332h1M61 332h1M48 333h1M145 333h1M20 334h1M42 334h1M54 334h1M56 335h1M59 335h1M70 335h1M75 335h1M140 335h1M56 336h1M64 336h1M73 336h1M93 336h1M0 337h1M48 338h1M66 338h1M85 338h1M84 339h1M110 339h1M120 339h1M15 340h1M50 340h2M81 340h1M98 340h1M108 340h1M9 341h1M37 341h1M40 341h1M64 341h1M61 342h1M64 342h2M95 342h1M130 342h1M38 343h1M48 343h1M92 343h1M72 344h1M75 344h1M106 344h1M110 344h1M116 344h1M135 344h1M20 345h1M75 345h1M91 345h1M93 346h1M96 346h1M118 346h1M25 347h1M45 347h1M52 347h1M77 348h1M86 348h1M95 348h1M67 349h1M73 349h1M105 349h1M116 349h1M30 350h1M45 350h1M61 350h1M99 350h1M10 351h1M54 352h1M72 352h1M24 353h1M38 353h1M52 353h1M60 353h1M68 353h1M72 353h1M86 353h1M1 354h1M42 354h1M56 354h2M98 354h1M40 355h1M47 355h1M73 355h1M36 356h1M48 356h1M31 357h1M45 357h1M57 357h1M79 357h1M100 357h1M102 357h1M112 357h1M118 357h1M140 357h1M31 358h1M54 358h1M118 358h1M125 359h1M2 360h1M20 360h1M130 360h1M2 361h1M9 361h1M12 361h1M93 361h1M58 362h1M64 362h1M6 363h1M13 363h1M31 363h1M37 363h1M140 363h1M1 364h1M54 364h1M103 364h1M125 364h1M5 365h1M8 365h1M60 365h1M70 365h1M74 365h1M76 365h1M96 365h1M3 366h1M32 366h1M8 367h1M75 367h1M76 368h1M135 368h1M7 370h1M104 370h1M112 370h1M28 371h1M58 371h1M83 371h1M88 371h1M36 372h1M25 373h1M42 373h1M52 373h1M59 373h1M69 373h1M84 373h1M106 373h1M34 374h1M39 374h1M71 374h1M95 374h1M18 375h1M35 375h1M79 375h1M85 375h2M45 376h1M75 376h1M77 376h1M95 376h1M40 377h1M71 377h1M112 377h1M15 378h1M32 378h1M51 378h1M135 379h1M13 380h1M25 380h1M96 380h1M101 380h1M112 380h1M68 381h1M86 381h1M34 382h1M145 382h1M13 383h1M38 383h1M86 383h1M104 383h1M140 383h1M39 384h1M72 384h1M86 384h1M118 384h1M52 385h1M54 385h1M79 385h1M84 385h1M89 385h1M116 385h1M17 386h1M23 386h2M35 386h1M40 386h1M74 386h1M57 387h1M89 387h1M50 388h2M65 388h1M75 388h1M99 388h1M7 389h1M18 389h1M43 390h1M47 390h1M87 390h1M40 391h1M88 391h1M120 391h1M34 392h1M43 392h1M58 392h1M91 392h1M104 392h1M118 392h1M140 392h1M20 393h1M54 393h1M91 393h1M120 393h1M8 394h1M59 394h1M104 394h1M9 395h1M15 395h1M22 395h1M0 396h1M24 396h1M44 396h1M79 396h1M89 396h1M97 396h1M116 396h1M145 396h1M66 397h1M74 397h1M87 397h1M89 397h1M108 397h1M34 398h1M88 398h1M97 398h1M30 399h1M35 399h1M40 399h1M55 399h1M66 399h1M104 399h1M24 400h1M11 401h1M35 401h1M28 402h1M43 403h1M29 404h1M34 404h1M50 404h1M58 404h1M84 404h1M99 404h1M6 405h1M72 405h1"/>
<path stroke="#482071" d="M130 14h1M7 21h1M33 21h1M53 21h1M150 22h1M27 23h1M78 23h1M135 23h1M54 24h1M79 24h1M90 24h1M36 25h1M38 25h1M50 25h1M78 25h1M84 25h2M100 25h1M15 26h1M19 26h1M25 26h1M43 26h1M106 26h1M10 27h2M25 27h1M36 27h2M43 27h1M57 27h1M62 27h1M64 27h2M76 27h1M101 27h1M106 27h1M14 28h2M22 28h1M69 28h1M72 28h1M102 28h1M118 28h1M36 29h2M47 29h1M50 29h1M67 29h1M9 30h1M23 30h1M130 30h1M6 31h1M47 31h1M103 31h1M150 31h1M35 32h1M54 32h1M94 32h1M97 32h1M110 32h1M125 32h1M2 33h1M46 33h1M76 33h1M135 33h1M2 34h1M5 34h1M27 34h2M44 34h2M57 34h1M60 34h1M73 34h1M77 34h1M94 34h1M101 34h1M29 35h1M99 35h1M1 36h1M37 36h1M51 36h1M1 37h1M43 37h1M78 37h1M99 37h1M13 38h2M27 38h1M38 38h1M94 38h2M72 39h1M75 39h1M99 39h1M0 40h1M18 40h1M70 40h1M130 40h1M83 41h1M101 41h1M104 41h1M140 41h1M2 42h1M77 42h1M79 42h1M98 42h1M108 42h1M110 42h1M9 43h2M31 43h1M37 43h1M40 43h1M55 43h1M71 43h1M76 43h1M55 44h1M135 44h1M8 45h1M28 45h1M56 45h1M81 45h1M11 46h1M19 46h1M41 46h1M61 46h1M2 47h1M83 47h1M9 48h1M48 48h1M70 48h1M91 48h1M48 49h1M135 49h1M8 51h1M42 51h1M51 51h1M91 51h1M13 52h1M35 52h1M15 53h1M40 53h1M86 53h1M150 53h1M35 54h1M49 54h1M102 54h1M13 55h1M22 55h1M73 55h1M79 55h1M116 55h1M118 55h1M8 56h1M28 56h1M56 56h1M61 56h1M66 56h1M102 56h1M108 56h1M112 56h1M100 57h1M116 57h1M120 57h1M6 58h1M10 58h1M104 58h1M79 59h1M33 60h1M52 60h1M70 61h1M100 61h1M105 61h1M71 62h1M76 62h1M97 62h1M4 63h1M19 63h1M31 63h1M62 63h1M130 63h1M140 63h1M35 64h1M45 64h1M104 64h1M112 64h1M116 65h1M118 65h1M29 66h1M57 66h1M71 66h1M91 67h1M98 67h1M101 67h1M106 67h1M89 68h1M65 69h1M76 69h1M15 70h1M50 70h1M56 70h1M96 70h2M120 70h1M58 71h1M69 71h1M41 73h1M69 73h1M110 73h1M7 74h1M16 74h1M79 74h1M101 74h1M110 74h1M120 74h1M64 75h2M72 75h1M106 75h1M108 75h1M116 75h1M11 76h1M38 76h1M93 76h1M97 76h1M14 77h1M31 77h1M46 77h1M48 77h1M51 77h1M67 77h1M74 77h1M86 77h1M110 77h1M19 78h1M83 78h1M89 78h1M91 78h1M97 78h1M97 79h1M41 81h1M55 81h1M4 82h1M21 82h1M35 82h1M52 82h1M69 82h1M88 82h1M98 82h1M150 82h1M46 83h1M110 83h1M112 83h1M150 83h1M12 84h1M30 84h1M55 84h1M61 84h1M77 84h1M91 84h1M5 85h1M30 85h1M40 85h1M49 85h1M140 85h1M19 86h1M112 86h1M19 87h1M50 87h1M65 88h1M103 88h1M56 89h1M59 89h1M66 89h1M86 89h1M94 89h1M35 90h1M37 90h1M47 90h1M66 90h1M79 90h1M29 91h1M69 91h1M74 91h1M23 92h1M66 92h1M91 92h1M6 93h1M8 93h1M125 93h1M61 95h1M11 96h1M68 96h1M91 96h1M98 96h1M29 97h1M54 97h1M75 97h1M85 97h1M110 97h1M3 98h1M54 98h1M77 98h1M97 98h1M20 99h1M64 99h1M78 99h1M9 100h1M39 100h1M88 100h1M105 100h1M110 100h1M28 101h1M31 101h1M50 101h2M72 101h1M76 101h1M85 101h1M103 101h1M28 102h1M42 102h1M47 102h1M54 102h1M85 102h1M15 103h1M77 103h1M8 104h1M10 104h1M48 104h1M65 104h1M114 104h1M39 105h1M41 105h1M78 106h1M99 106h1M6 107h1M105 107h1M10 108h1M23 108h1M74 108h1M104 108h1M13 109h1M26 109h1M74 109h1M91 109h1M95 109h1M116 109h1M9 110h1M24 110h1M102 110h1M72 111h1M13 112h1M25 112h1M58 112h1M61 112h1M95 112h1M100 112h1M104 112h1M24 113h1M61 113h1M98 113h1M100 113h1M2 114h1M56 114h1M72 114h1M14 115h1M41 115h1M51 115h1M68 115h1M74 115h1M108 115h1M2 116h1M64 116h1M67 116h1M71 116h1M91 116h1M95 116h1M97 116h1M108 116h1M15 117h1M64 117h1M95 117h2M0 118h1M39 118h1M103 119h1M4 120h1M8 120h1M32 120h1M42 120h1M94 120h1M114 120h1M5 121h1M11 121h1M77 122h1M64 123h1M8 124h1M46 124h1M95 124h1M102 124h1M4 125h1M37 125h1M56 125h2M66 125h1M42 126h1M108 126h1M114 126h1M25 127h1M39 127h1M77 127h1M24 128h1M35 128h1M74 128h1M2 129h1M6 129h1M40 129h1M90 129h1M79 130h1M108 130h1M110 131h1M20 132h1M38 133h1M54 133h1M59 134h1M94 134h1M18 135h1M75 135h1M93 135h1M101 135h1M110 135h1M0 136h1M49 136h1M98 136h1M118 136h1M4 137h1M46 137h1M48 137h1M19 138h1M32 138h1M45 138h1M108 138h1M112 138h1M30 140h1M32 140h1M1 141h1M31 141h1M59 141h1M64 141h1M85 141h1M91 141h1M140 141h1M15 142h1M68 142h1M36 143h1M42 143h1M8 144h1M29 144h1M78 144h1M94 144h1M104 144h1M71 145h1M56 146h1M70 146h1M79 146h1M93 146h1M114 146h1M31 147h1M34 147h1M28 148h1M78 148h1M37 149h1M43 149h1M77 149h1M91 149h1M116 149h1M36 150h1M62 150h1M84 150h1M87 150h1M91 150h1M44 151h1M57 151h1M78 151h1M91 151h1M66 152h1M103 152h1M86 153h1M100 153h1M51 154h1M88 154h1M108 154h1M15 155h1M57 155h1M95 155h1M125 155h1M0 156h1M23 156h1M86 156h1M25 157h1M28 157h1M34 157h1M43 157h1M70 157h1M85 157h2M4 158h1M41 158h1M55 158h1M71 158h1M92 158h1M20 159h1M40 159h1M71 159h1M43 160h1M59 160h1M62 160h1M88 160h1M114 160h1M32 161h1M45 162h2M70 162h1M76 162h1M99 162h1M15 163h1M23 163h1M118 163h1M120 163h1M3 164h1M17 164h1M35 164h1M44 164h1M64 164h1M51 165h1M64 165h1M80 165h1M19 166h1M23 166h1M59 166h1M76 166h1M91 166h1M99 166h1M135 166h1M85 167h1M99 167h1M48 168h1M50 168h1M98 168h1M36 170h1M44 170h1M64 170h1M72 170h1M9 171h1M36 171h1M68 171h1M76 171h1M81 171h1M89 171h1M104 171h1M34 172h1M45 172h1M71 172h1M114 172h1M51 173h1M57 173h1M99 173h1M44 174h1M61 174h1M1 175h1M55 175h1M61 175h1M73 175h1M79 175h1M85 175h1M91 175h1M95 175h1M108 175h1M55 176h1M77 176h1M87 177h1M84 178h2M20 179h1M58 179h1M56 180h1M65 180h1M75 180h1M89 180h1M99 180h1M42 181h1M88 181h1M130 181h1M23 182h1M28 182h2M97 182h1M150 182h1M6 184h1M29 184h1M31 184h1M54 184h1M114 184h1M4 185h1M9 185h1M42 185h1M45 185h1M145 185h1M17 186h1M22 186h1M30 186h1M41 186h1M79 186h1M150 186h1M10 187h1M19 188h1M31 188h1M38 189h1M105 189h1M28 190h1M88 190h1M101 190h1M0 191h1M13 191h1M35 191h1M38 191h1M106 191h1M73 193h1M150 193h1M62 194h1M73 194h2M130 194h1M145 194h1M60 195h1M72 195h1M96 195h1M45 196h1M48 196h1M96 196h1M112 196h1M54 197h1M106 197h1M3 199h1M5 199h1M47 199h1M78 199h1M118 199h1M108 200h1M0 201h1M60 201h1M114 202h1M120 202h1M145 202h1M0 203h1M67 203h1M94 203h1M125 203h1M91 204h1M94 204h1M28 205h1M140 205h1M54 206h1M101 206h1M0 207h1M96 207h1M24 208h1M40 208h1M73 208h1M94 208h1M114 209h1M35 210h1M55 210h1M86 210h1M88 210h1M116 210h1M1 211h1M22 211h1M62 211h1M92 211h1M25 212h1M64 212h1M75 212h1M100 212h1M0 213h2M8 213h1M0 214h1M36 214h1M71 214h1M95 214h1M101 214h1M14 215h1M52 215h1M86 215h1M108 215h1M140 215h1M5 217h1M13 217h1M19 217h1M61 217h1M89 217h1M92 217h1M0 218h1M49 218h1M15 219h1M33 219h1M52 219h1M60 219h1M62 219h1M83 219h1M32 220h1M118 220h1M43 221h1M57 221h1M49 222h1M58 222h1M130 222h1M10 223h1M56 223h1M6 224h1M34 224h1M37 224h1M54 224h1M37 225h1M65 225h1M69 225h1M73 225h1M65 226h1M103 226h1M0 227h1M61 227h1M85 227h1M31 228h1M60 228h1M95 228h1M24 229h1M32 229h1M72 229h1M145 229h1M9 230h1M20 230h1M22 230h1M38 230h1M69 230h1M72 230h1M110 230h1M32 231h1M65 231h1M101 231h1M114 231h1M1 232h1M28 232h1M83 232h1M85 232h1M8 233h1M61 233h1M77 233h1M64 234h1M89 234h1M32 235h1M50 235h1M97 235h1M30 236h1M51 236h1M55 236h1M73 236h1M88 236h1M92 236h1M66 237h1M29 238h1M39 238h1M75 238h1M86 238h1M2 239h1M40 239h1M50 239h1M110 239h1M11 240h1M24 240h1M39 240h1M93 240h1M57 241h1M64 241h1M99 241h1M103 241h1M0 242h1M64 242h1M12 243h1M32 243h1M70 243h1M17 244h1M32 244h1M93 244h1M116 244h1M31 246h1M44 246h1M59 246h1M64 246h1M118 246h1M135 246h1M11 248h1M32 248h1M74 248h1M96 248h1M10 249h1M36 249h1M43 249h1M62 249h1M83 250h1M73 251h1M0 252h1M34 252h1M56 252h1M58 252h1M87 252h1M102 252h1M35 253h1M4 254h1M12 254h1M23 254h1M99 254h1M145 254h1M39 255h1M61 255h1M50 256h1M22 257h1M66 257h1M85 257h1M29 258h1M85 258h1M28 259h1M30 259h1M47 259h1M72 259h1M74 259h1M67 261h1M72 261h1M86 261h1M84 262h1M135 262h1M5 263h1M39 263h1M72 263h1M110 263h1M61 264h1M71 264h1M125 264h1M135 264h1M13 265h2M34 265h1M83 265h1M91 265h1M73 266h1M10 267h1M28 267h1M71 267h1M91 267h1M97 267h1M2 268h1M54 268h1M108 268h1M114 268h1M15 269h1M20 269h1M70 269h1M20 270h1M29 270h1M31 270h1M32 271h1M102 271h1M29 272h1M32 272h1M145 272h1M57 273h1M73 273h1M81 274h1M99 274h1M77 275h1M81 275h1M145 275h1M34 276h1M112 276h1M118 276h1M51 277h1M56 277h1M66 277h1M85 277h1M65 278h1M71 278h1M91 278h1M96 278h1M13 279h1M37 279h1M135 279h1M1 280h1M68 280h1M45 281h1M64 281h1M84 281h1M97 281h1M100 281h1M45 282h1M77 283h1M145 283h1M34 284h2M43 284h1M89 284h1M150 284h1M40 285h1M77 285h1M46 286h1M61 286h1M65 286h1M98 286h1M110 286h1M150 286h1M2 287h1M11 287h1M74 288h1M130 288h1M12 289h1M32 289h1M39 289h1M69 289h2M135 289h1M19 290h1M77 290h1M81 290h1M3 291h1M26 291h1M42 291h1M72 291h1M87 291h1M5 292h1M31 292h1M40 292h1M62 292h1M104 292h1M40 294h1M59 294h1M125 294h1M47 295h1M135 295h1M58 296h1M61 296h1M71 296h1M50 297h1M22 298h1M78 298h1M116 298h1M37 299h1M101 299h1M105 300h1M116 300h1M130 300h1M24 301h1M32 301h1M75 301h1M24 302h1M31 302h1M22 303h1M7 304h1M70 304h1M92 304h1M20 305h1M77 305h1M60 306h1M86 306h1M92 306h1M104 306h1M135 307h1M1 308h1M98 308h1M23 309h1M38 309h1M47 309h1M79 309h1M1 310h1M4 310h1M55 310h1M79 310h1M103 310h1M6 311h1M41 311h1M98 311h1M2 312h1M58 312h1M75 312h1M96 313h1M23 315h1M26 315h1M93 315h1M76 316h1M120 316h1M21 317h1M76 317h2M3 318h1M19 318h1M67 318h1M69 318h1M83 318h1M13 319h1M39 319h1M47 319h1M41 320h1M60 321h1M79 321h1M108 321h1M114 321h1M6 322h1M74 322h1M28 323h1M86 323h1M2 324h1M29 324h1M150 324h1M37 325h1M41 325h1M54 325h1M85 325h1M95 325h1M103 325h1M5 326h1M56 327h1M58 327h1M104 327h1M32 328h1M73 328h1M29 329h1M40 329h1M86 329h1M94 329h1M110 329h1M2 330h1M22 331h1M49 331h1M54 331h1M77 331h1M83 331h1M140 331h1M3 333h1M31 333h1M50 333h1M94 333h1M104 333h1M125 333h1M12 334h1M103 334h1M1 335h1M4 335h1M6 335h1M24 335h1M32 335h1M40 335h1M105 335h1M9 336h1M55 336h1M102 336h1M83 337h1M101 337h1M1 338h1M9 338h1M32 338h1M58 339h1M75 339h1M83 339h1M93 339h1M130 339h1M12 341h1M20 341h1M44 341h1M49 341h1M60 342h1M112 342h1M41 343h1M51 343h1M60 343h1M83 343h1M112 343h1M135 343h1M21 344h1M49 344h1M58 344h1M87 344h1M5 345h1M17 345h1M24 345h1M43 345h1M71 345h1M98 345h1M130 345h1M1 346h1M17 346h1M64 347h1M99 348h1M12 349h1M39 349h1M8 350h1M67 350h1M71 350h1M93 350h1M5 351h1M31 351h1M6 353h1M43 353h1M50 353h1M91 353h1M26 354h1M41 354h1M55 354h1M61 354h1M67 354h1M105 354h1M5 355h1M8 355h1M76 355h1M98 355h1M90 356h2M102 356h1M112 356h1M12 357h1M15 357h1M36 357h1M56 357h1M96 357h1M8 358h1M95 358h1M51 359h1M92 359h1M135 359h1M120 360h1M46 361h1M80 361h1M54 362h1M99 362h1M75 363h1M93 363h1M118 363h1M125 363h1M48 364h1M51 364h1M120 364h1M3 365h1M73 365h1M81 365h1M135 365h1M6 366h1M64 366h1M93 366h1M22 367h1M71 367h1M88 367h1M92 367h1M145 367h1M4 368h1M24 368h1M68 368h1M35 370h1M72 370h1M1 371h1M9 371h1M97 371h1M28 372h1M58 372h1M89 372h1M112 372h1M120 372h1M73 373h1M100 373h1M18 374h1M41 374h1M84 374h1M5 375h1M9 375h1M51 375h1M39 376h1M87 376h1M99 376h1M23 377h1M19 378h1M19 379h1M94 379h1M6 380h1M34 380h1M59 380h1M13 381h1M39 381h1M91 381h1M7 382h1M29 383h1M42 383h1M81 383h1M24 384h1M49 384h1M108 384h1M97 385h1M104 385h1M2 386h1M52 386h1M64 386h1M76 386h1M99 386h1M102 386h1M8 387h1M53 387h1M55 387h1M32 388h1M72 388h1M106 388h1M85 389h1M100 389h1M120 389h1M60 390h1M4 391h1M18 391h1M21 391h1M32 391h1M54 392h1M73 393h2M93 393h1M116 393h1M140 393h1M84 395h1M52 396h1M75 396h1M105 396h1M16 397h1M35 397h2M44 397h1M67 398h1M86 398h1M116 399h1M88 400h1M118 400h1M2 401h1M29 402h1M145 402h1M64 403h1M76 403h1M13 404h1M49 404h1M54 404h1M77 404h1M81 404h1"/>
<path stroke="#482475" d="M26 16h1M90 16h1M140 18h1M16 19h1M53 19h1M90 20h1M135 20h1M140 20h1M81 21h1M110 21h1M135 21h1M54 22h1M81 22h1M118 23h1M26 24h2M17 25h1M20 25h1M79 25h1M81 25h1M38 26h1M41 26h2M47 26h1M52 26h1M54 26h1M61 26h1M70 26h2M75 26h1M104 26h1M108 26h1M52 27h1M58 27h1M95 27h1M104 27h1M10 28h1M91 28h1M12 29h1M14 29h1M18 29h1M30 29h1M41 29h1M88 29h1M91 29h1M52 30h1M79 30h1M37 31h1M11 32h1M36 32h1M76 32h1M85 32h1M95 32h1M135 32h1M10 33h1M22 33h1M11 34h1M68 34h1M36 35h1M55 35h1M60 35h1M72 35h1M86 35h1M19 36h1M36 36h1M68 36h1M3 37h1M39 37h1M60 37h1M79 37h1M102 37h1M106 37h1M30 38h1M45 38h1M18 39h1M25 39h1M69 39h1M85 39h1M41 40h1M91 40h1M35 41h1M97 41h1M145 41h1M38 42h1M58 42h1M93 42h1M45 43h1M75 43h1M98 43h1M104 43h1M1 45h1M48 45h1M108 45h1M44 46h1M92 46h1M16 47h1M20 47h1M51 47h1M73 47h1M93 47h1M103 47h2M30 48h1M43 48h1M46 48h1M65 48h1M88 48h1M106 48h1M19 49h1M32 49h1M54 50h1M77 50h1M91 50h1M145 50h1M9 51h1M97 51h1M57 52h1M130 52h1M28 53h1M76 54h1M1 55h1M8 55h1M41 55h1M54 55h1M43 56h1M14 57h1M150 57h1M55 58h1M97 58h1M101 58h1M20 60h1M50 60h1M3 61h1M61 61h1M77 61h1M41 62h1M18 63h1M64 63h1M4 65h1M14 65h1M29 65h1M31 65h1M59 66h1M96 66h2M0 67h1M54 67h1M90 67h1M110 67h1M1 68h1M73 68h1M83 68h1M100 68h1M2 69h1M15 69h1M46 69h1M70 69h1M100 69h1M29 70h1M2 71h1M5 72h1M38 72h1M59 72h1M64 72h1M71 72h1M91 72h1M20 73h1M34 73h2M48 73h1M76 73h1M120 73h1M0 74h1M5 74h1M64 74h1M68 74h1M116 74h1M29 75h1M58 75h1M18 76h1M56 76h1M60 76h1M83 76h1M68 77h1M87 77h1M93 77h1M102 77h1M65 78h1M84 78h1M20 79h1M72 79h1M41 80h1M125 80h1M5 81h1M13 81h1M21 81h1M46 81h1M52 81h1M9 82h1M110 82h1M120 82h1M36 83h1M43 83h1M13 84h1M43 84h1M85 84h1M42 85h1M68 85h1M36 86h1M37 87h1M91 87h1M42 88h1M50 88h1M23 89h1M34 89h1M74 89h1M96 89h1M9 90h1M97 90h1M60 91h1M83 92h1M9 93h1M11 95h1M46 95h1M56 95h1M101 95h1M46 96h1M65 98h1M74 98h1M110 98h1M28 99h1M39 99h1M105 99h1M130 99h1M14 100h1M20 100h1M9 101h1M60 101h1M84 101h1M43 103h1M64 103h1M2 104h2M1 105h1M24 105h1M114 105h1M12 106h1M51 106h1M68 106h1M71 106h1M2 107h1M5 108h1M19 108h1M4 109h1M54 109h1M64 109h1M130 109h1M7 110h1M60 111h1M8 112h1M23 112h1M62 112h1M68 112h1M73 112h1M81 112h1M92 112h1M145 112h1M10 113h1M49 113h1M67 113h1M86 113h1M92 113h1M106 113h1M13 114h1M34 114h1M51 114h1M69 115h1M71 115h1M118 115h1M13 116h1M66 116h1M77 116h1M12 117h1M51 117h1M94 117h1M22 118h1M50 118h1M54 118h1M56 118h1M85 118h1M3 119h1M59 119h1M14 120h1M76 120h1M85 120h1M102 120h2M4 121h1M70 121h1M84 121h1M64 122h1M72 122h1M5 123h1M15 123h1M45 123h1M67 123h1M72 123h1M86 123h1M52 124h1M77 124h1M6 125h1M25 125h1M43 125h1M61 125h1M91 125h1M108 125h1M112 125h1M45 126h1M41 127h1M51 127h1M71 127h1M4 128h1M40 128h1M65 128h1M70 128h1M83 128h1M8 129h1M15 129h1M42 129h1M10 130h1M43 130h1M72 130h1M32 131h1M77 131h1M31 132h1M46 132h1M104 132h1M14 133h1M26 133h1M55 133h1M87 133h1M98 133h1M9 134h1M50 134h1M76 134h1M103 134h1M2 135h1M94 135h1M38 136h1M74 136h1M125 136h1M150 136h1M25 137h1M35 137h1M40 137h1M102 138h1M23 139h1M14 141h1M81 141h1M102 141h1M105 141h1M10 142h1M25 142h1M94 142h1M102 142h1M114 142h1M51 143h1M91 143h1M91 144h1M103 145h1M65 147h2M69 147h1M135 147h1M100 148h1M14 149h1M30 149h1M55 149h1M125 149h1M57 150h1M76 150h1M96 150h1M100 150h1M54 151h1M61 151h1M84 151h1M120 151h1M74 152h1M110 152h1M118 152h1M9 153h1M41 153h1M125 153h1M58 154h1M105 154h1M140 154h1M150 154h1M0 155h1M45 155h1M59 155h1M112 155h1M19 156h1M29 156h1M39 156h1M64 157h1M37 158h1M75 158h1M39 159h1M56 159h1M105 159h1M30 160h1M104 160h1M10 161h1M73 161h1M114 161h1M118 161h1M15 162h1M3 163h1M17 163h2M39 163h1M50 163h1M79 164h1M95 164h1M110 164h1M18 165h1M96 165h1M99 165h1M6 166h1M8 166h1M13 166h1M40 166h1M52 166h1M55 166h2M65 166h1M100 166h1M114 166h1M29 167h1M38 167h1M114 167h1M13 168h1M15 168h1M34 168h1M75 168h1M91 168h1M103 169h1M91 170h1M99 170h1M145 170h1M19 171h1M60 171h1M83 171h1M99 171h1M14 172h1M25 172h1M44 172h1M54 172h1M60 172h2M106 172h1M1 173h1M84 173h1M24 174h1M46 174h1M62 174h1M130 174h1M16 175h1M31 176h1M89 176h1M29 177h1M38 178h1M49 178h1M56 178h1M65 178h1M37 179h1M24 180h1M88 180h1M114 180h1M116 180h1M20 181h1M25 181h1M62 181h1M62 182h1M84 182h1M120 182h1M30 183h1M40 183h1M46 183h1M75 183h1M87 183h2M103 183h1M19 184h1M75 184h1M116 184h1M135 184h1M42 186h1M135 186h1M0 187h1M17 187h1M78 187h1M93 187h1M50 188h1M102 188h1M84 189h1M97 190h1M108 190h1M116 190h1M19 191h1M62 191h1M23 192h1M54 192h1M35 193h2M81 193h1M120 193h1M17 194h1M89 194h1M12 195h1M105 195h1M100 196h1M32 197h1M100 197h1M32 198h1M4 199h1M21 199h1M60 200h1M65 200h1M89 200h1M4 201h1M18 201h1M105 201h1M17 202h1M22 202h1M31 202h1M60 202h1M48 203h1M65 203h1M112 203h1M83 204h1M28 206h1M71 206h1M96 206h1M105 206h1M61 207h1M79 207h1M100 207h1M31 208h1M114 208h1M5 209h1M20 210h1M89 210h1M97 210h1M49 211h1M55 211h1M75 211h1M91 211h1M125 211h1M94 212h1M55 213h1M91 213h1M104 213h1M19 214h1M40 214h1M66 214h1M18 215h1M38 215h1M38 216h1M46 216h1M97 216h1M105 216h1M77 218h1M105 218h1M56 219h1M65 219h1M2 220h2M22 220h1M92 220h1M135 220h1M4 221h1M22 221h1M41 222h1M50 222h1M64 222h1M91 222h1M104 223h1M140 223h1M88 224h1M91 224h1M16 225h1M20 225h1M24 225h1M52 225h1M140 225h1M24 226h1M85 226h1M45 227h1M55 227h1M106 227h1M83 228h1M28 229h1M52 229h1M13 231h1M25 231h1M104 231h1M7 232h1M51 232h1M106 232h1M11 233h1M22 233h1M4 234h1M19 235h1M28 235h1M47 235h1M145 235h1M8 236h1M47 236h1M5 237h1M18 237h1M45 237h1M116 237h1M12 238h1M130 238h1M25 239h1M77 239h1M85 240h1M8 241h2M49 242h1M56 242h1M98 242h1M61 243h1M92 243h1M98 243h1M130 243h1M8 244h1M2 245h1M10 245h1M71 245h1M100 245h1M6 246h1M51 246h1M50 247h1M19 248h1M135 248h1M23 249h1M35 249h1M58 249h1M71 249h1M104 249h1M106 249h1M84 250h1M24 251h1M62 251h1M70 251h1M110 251h1M10 252h1M51 252h1M62 252h1M98 253h1M1 254h1M44 254h1M49 254h1M103 254h1M50 255h1M103 255h1M16 256h1M19 256h1M25 256h1M28 256h1M34 256h1M60 256h1M140 256h1M150 256h1M2 257h1M10 257h1M103 257h1M62 258h1M108 258h1M118 258h1M3 259h1M45 259h1M56 259h1M75 259h1M32 260h1M34 260h1M64 260h1M86 260h1M89 260h1M29 261h1M41 261h1M66 261h1M91 261h1M97 261h1M14 262h1M81 262h1M99 262h1M104 262h1M150 262h1M4 264h1M103 264h1M23 265h2M120 265h1M37 266h1M61 266h1M84 266h1M108 266h1M2 267h1M41 267h1M47 267h1M79 267h1M100 267h1M60 269h1M79 269h1M91 269h1M39 270h1M46 271h1M116 271h1M6 272h1M48 272h1M116 272h1M66 273h1M6 275h1M9 275h1M14 275h1M33 275h1M106 275h1M51 276h1M68 276h1M81 276h1M84 276h1M145 276h1M14 277h1M65 277h1M25 278h1M29 278h1M65 279h1M72 279h1M92 280h1M73 282h1M77 282h1M42 283h1M5 284h1M73 284h1M112 284h1M18 285h1M54 285h1M88 285h1M92 285h1M87 286h1M102 286h1M4 287h1M23 287h1M93 287h1M39 288h1M86 288h1M6 289h1M30 289h1M86 289h1M67 290h1M72 290h1M94 290h1M112 290h1M105 291h1M33 292h1M37 292h1M4 293h1M9 293h1M22 293h1M70 293h1M125 293h1M61 295h1M96 297h1M52 298h1M71 298h1M99 298h1M16 299h1M29 299h1M95 299h1M99 299h1M50 300h1M135 300h1M35 301h1M46 301h1M52 301h1M54 301h1M105 301h1M130 301h1M46 302h1M40 303h1M13 304h1M25 304h1M120 304h1M25 305h1M100 305h1M17 306h1M23 306h1M101 306h1M5 307h1M23 307h1M25 307h1M49 307h1M75 307h1M86 307h1M6 308h1M19 308h1M76 308h1M92 308h1M120 308h1M85 309h1M51 310h1M34 311h1M95 311h1M34 312h1M48 312h1M94 312h1M43 313h1M84 313h1M89 313h1M112 313h1M36 314h1M106 314h1M5 315h1M150 315h1M37 316h1M67 316h1M25 317h1M73 317h1M95 317h1M12 318h1M30 318h1M66 318h1M94 318h1M36 319h1M120 319h1M65 320h1M67 320h1M75 320h1M81 320h1M20 321h1M106 321h1M45 323h1M69 323h1M99 323h1M118 323h1M125 323h1M11 324h1M19 324h1M108 324h1M18 325h1M28 325h1M55 325h1M64 325h1M72 325h1M97 325h1M150 325h1M23 326h1M56 326h1M68 326h1M36 327h1M83 327h2M48 328h1M58 328h1M77 328h1M94 328h1M18 329h1M31 329h1M5 330h1M52 330h1M58 330h1M81 330h1M79 331h1M88 331h1M11 332h1M38 332h1M95 332h1M101 333h1M18 335h1M52 335h1M125 335h1M76 336h1M98 336h1M120 336h1M60 337h1M110 337h1M32 339h1M73 339h1M23 341h1M35 341h1M38 342h1M49 343h1M91 343h1M120 343h1M74 344h1M15 345h1M3 346h1M21 346h1M51 346h1M91 346h1M2 347h1M48 347h1M97 347h1M9 348h1M89 348h1M100 348h1M114 348h1M4 349h1M45 349h1M54 349h1M66 349h1M94 349h1M91 350h2M101 350h1M55 351h1M31 352h1M100 352h1M105 352h1M23 353h1M36 353h1M40 353h1M57 353h1M85 353h1M86 354h1M91 354h1M99 354h1M41 355h1M48 355h1M75 355h1M9 356h1M76 356h1M52 357h1M66 357h1M81 357h1M103 357h1M0 359h1M67 361h1M135 361h1M86 362h1M49 363h1M64 363h1M120 363h1M49 364h1M55 364h1M70 364h2M88 364h1M39 365h1M49 365h1M15 366h1M38 366h1M46 366h1M84 366h1M4 367h1M47 367h1M112 367h1M35 368h1M125 368h1M43 369h1M56 369h1M81 370h1M88 370h1M91 370h1M38 371h1M81 371h1M38 372h1M57 372h1M60 372h1M91 372h1M22 373h1M99 373h1M50 374h1M91 374h1M81 375h1M97 376h1M114 376h1M1 377h1M8 377h1M29 377h1M52 377h1M54 377h1M58 378h1M67 378h1M6 379h1M55 380h1M62 380h1M116 380h1M32 381h1M61 381h1M59 382h1M92 382h1M2 383h1M58 383h1M76 383h1M18 384h1M25 384h1M97 384h1M110 384h1M6 385h1M66 385h2M76 385h1M86 385h1M20 386h1M50 386h1M57 386h1M116 386h1M64 388h1M68 388h1M100 388h1M114 388h1M47 389h1M60 389h1M72 389h1M35 391h1M6 392h1M75 392h1M145 392h1M57 393h1M135 393h1M57 394h1M73 394h1M101 395h1M22 396h1M67 396h1M70 396h1M92 396h1M77 397h1M13 398h1M48 398h1M87 398h1M94 398h1M29 399h1M88 399h1M6 400h1M13 400h1M32 400h1M61 400h1M74 400h1M91 400h1M40 401h3M150 401h1M54 402h1M99 402h1M130 402h1M29 403h1M52 403h1M57 405h1M99 405h1"/>
<path stroke="#482878" d="M140 14h1M130 15h1M80 16h1M88 16h1M130 16h1M21 17h1M26 17h1M21 18h1M33 19h1M79 19h1M108 20h1M130 20h1M78 21h1M108 21h1M79 22h1M90 22h1M116 22h1M145 22h1M26 23h1M55 23h1M63 23h1M79 23h1M112 24h1M0 25h1M25 25h1M34 25h1M39 25h1M86 25h1M120 25h1M23 26h1M48 26h1M83 26h2M92 26h1M40 27h1M47 27h1M54 27h1M84 27h1M87 27h1M89 27h2M30 28h1M43 28h1M75 28h1M99 28h1M105 28h2M135 28h1M8 29h1M39 29h1M56 29h1M59 29h1M78 29h2M85 29h1M130 29h1M6 30h1M8 30h1M40 30h1M51 30h1M71 30h1M13 31h1M25 31h1M28 31h1M85 31h1M135 31h1M12 32h1M18 32h1M19 33h1M36 33h1M57 33h2M70 33h1M4 34h1M8 34h1M85 34h1M93 34h1M41 35h1M68 35h1M74 35h1M11 36h1M73 36h1M2 37h1M19 37h1M69 37h1M85 37h1M95 37h1M35 38h1M49 38h1M51 38h1M12 39h1M14 39h1M98 41h1M106 42h1M102 43h1M19 44h1M70 44h1M94 44h1M11 45h1M51 46h1M54 46h1M62 46h1M19 47h1M30 47h1M40 47h1M88 47h1M135 47h1M66 48h1M76 48h1M0 49h1M20 50h1M85 50h1M65 51h1M77 51h1M79 51h1M4 52h1M24 52h1M31 52h1M39 52h1M150 52h1M23 53h1M29 53h1M64 53h1M78 53h1M104 53h1M120 53h1M104 54h1M43 55h1M125 55h1M1 56h1M29 56h1M36 56h1M42 57h1M84 57h1M65 58h1M70 58h1M78 58h1M4 59h1M22 59h1M34 59h1M71 59h1M130 59h1M77 60h1M110 60h1M130 60h1M1 61h1M6 61h1M58 61h1M57 62h1M61 62h1M86 62h1M108 62h1M44 63h1M145 63h1M70 64h1M85 64h1M2 67h1M67 67h2M20 68h1M39 68h1M40 69h1M57 69h1M13 71h1M102 71h1M0 72h1M22 72h1M89 72h1M102 72h1M54 73h1M106 73h1M150 73h1M76 74h1M71 75h1M54 76h1M76 76h1M110 76h1M118 77h1M140 77h1M79 78h1M73 79h1M56 80h1M85 81h1M150 81h1M103 82h1M12 83h1M92 83h1M31 84h1M43 85h2M125 85h1M23 86h1M32 86h1M9 87h1M41 87h1M79 87h1M83 87h1M13 88h1M88 88h1M96 88h1M112 88h1M49 90h1M74 90h1M96 90h1M9 91h1M14 91h1M23 91h1M5 92h2M48 92h1M84 93h1M89 93h1M130 93h1M9 94h1M15 95h1M36 96h1M44 96h1M58 96h2M103 96h1M34 97h1M12 98h1M36 98h1M85 98h1M87 98h1M76 99h1M92 99h1M85 100h1M92 100h1M140 101h1M14 102h1M135 102h1M17 103h1M28 103h1M47 103h1M72 103h1M150 103h1M68 104h1M46 105h1M50 107h1M8 108h1M49 108h1M99 108h1M150 108h1M2 109h1M6 110h1M75 110h1M106 111h1M6 113h1M48 113h1M68 113h1M92 114h1M100 114h1M140 115h1M118 116h1M24 117h1M54 117h1M71 117h2M140 117h1M125 118h1M54 119h1M24 120h1M94 121h1M40 122h1M78 122h1M125 122h1M38 123h2M96 123h1M105 123h1M39 124h1M48 124h1M86 124h1M91 124h1M77 125h1M95 126h1M42 127h1M72 127h1M88 127h1M99 127h1M6 128h1M42 128h1M44 128h1M92 128h1M18 129h1M25 129h1M44 129h1M65 129h1M116 129h1M51 130h1M61 133h1M75 133h1M114 133h1M145 133h1M77 134h1M61 135h1M108 135h1M125 135h1M140 135h1M62 136h1M83 136h1M108 136h1M140 136h1M5 137h1M54 137h1M91 137h1M12 138h1M46 138h1M77 138h1M135 138h1M46 139h1M67 139h1M103 142h2M19 145h1M49 145h1M79 145h1M87 145h1M24 146h1M48 146h2M73 147h1M29 148h1M44 148h1M112 148h1M118 148h1M150 148h1M5 149h1M29 149h1M18 150h1M71 151h1M2 152h1M103 153h1M118 153h1M19 155h1M40 155h1M68 156h1M105 156h1M0 157h1M42 158h1M91 158h1M106 158h1M108 158h1M67 159h1M10 160h1M28 160h1M51 160h1M56 160h1M76 160h1M135 161h1M52 162h1M106 163h1M57 164h1M130 164h1M52 165h1M91 165h1M130 165h1M73 166h1M2 167h1M68 167h1M89 167h1M145 167h1M2 168h1M76 168h1M85 169h1M28 170h1M54 170h1M77 170h1M29 171h1M51 172h1M69 172h1M105 172h1M22 173h1M85 173h1M102 173h1M36 174h1M85 174h1M125 174h1M30 175h1M56 175h1M83 175h1M37 176h1M95 176h1M48 177h1M99 177h1M116 177h1M37 178h1M48 178h1M54 179h1M125 179h1M37 180h1M44 181h1M54 181h1M75 182h1M6 183h1M11 185h1M29 185h1M50 185h1M101 185h1M116 185h1M11 186h1M31 186h1M74 186h1M68 187h1M73 187h1M87 187h1M4 188h1M42 188h1M84 188h1M42 189h1M106 189h1M61 190h1M100 190h1M28 191h1M140 191h1M43 192h1M64 192h1M75 192h1M52 193h1M65 193h1M145 193h1M4 195h1M118 195h1M81 196h1M3 197h1M112 197h1M0 198h1M8 198h1M43 200h2M88 200h1M10 203h1M110 203h1M10 204h1M15 204h1M95 204h1M110 204h1M94 205h1M40 206h1M130 206h1M17 207h1M24 207h1M64 207h1M66 208h1M86 208h1M5 210h1M10 210h1M18 210h1M64 210h1M41 211h1M97 211h1M102 211h1M58 212h1M83 212h1M23 213h1M47 213h1M2 215h1M13 215h1M48 215h1M98 215h1M73 216h1M11 217h1M52 218h1M120 218h1M35 219h1M42 219h1M66 219h1M92 219h1M19 220h1M43 220h1M66 220h1M101 220h1M8 221h1M19 221h1M78 221h1M118 221h1M14 223h1M42 223h1M88 223h1M14 224h1M39 225h1M75 225h1M51 226h1M140 226h1M34 227h1M95 227h1M15 228h1M74 228h1M110 228h1M41 229h1M8 231h1M103 231h1M5 232h1M50 232h1M64 232h1M118 232h1M4 233h1M46 233h1M125 233h1M0 234h1M19 234h1M22 234h1M110 234h1M46 235h1M92 235h1M116 235h1M38 236h1M45 236h1M60 236h1M95 236h1M44 238h1M73 238h1M77 238h1M125 238h1M0 239h1M44 239h1M125 239h1M36 240h1M125 241h1M19 243h1M57 243h2M103 244h1M105 244h1M120 244h1M64 245h1M75 246h1M30 247h1M69 247h1M45 248h1M87 248h1M94 248h1M120 248h1M120 249h1M70 252h1M92 252h1M76 254h1M102 254h1M35 255h1M31 256h1M65 256h1M79 256h1M91 256h1M108 256h1M114 257h1M1 258h1M19 258h1M37 258h1M65 258h1M100 258h1M18 259h1M76 260h1M45 261h1M64 261h1M95 261h1M104 261h1M145 261h1M74 262h1M1 263h1M54 263h1M30 264h1M34 264h1M41 264h1M4 267h1M114 267h1M6 268h1M38 269h1M79 270h1M13 271h1M61 271h1M74 271h1M112 271h1M10 272h2M14 272h1M49 272h1M89 272h1M10 273h2M60 274h2M13 275h1M73 275h1M83 275h1M54 276h1M56 276h1M110 276h1M145 277h1M110 278h1M35 279h1M48 279h1M95 279h1M118 279h1M28 280h1M78 280h1M19 281h1M54 281h1M68 281h1M78 281h1M80 281h1M37 282h1M84 282h1M135 282h1M64 283h1M48 284h1M55 284h1M110 284h1M6 285h1M9 285h1M19 285h1M44 285h1M96 285h1M96 286h1M38 287h1M87 287h1M102 288h1M43 289h1M68 289h1M79 289h1M112 289h1M116 289h1M57 290h1M68 290h1M11 291h1M50 291h1M62 291h1M110 291h1M98 292h1M12 293h1M77 293h1M38 295h1M19 297h1M57 297h1M103 297h1M43 298h1M79 298h1M135 298h1M11 299h1M28 299h1M62 299h1M6 300h1M14 300h1M66 300h1M87 300h1M114 300h1M95 301h1M101 301h1M48 302h1M91 302h1M100 302h1M21 304h1M1 305h1M41 305h1M10 307h1M15 307h1M103 307h1M15 308h1M70 308h1M84 308h1M125 308h1M13 309h1M70 309h1M118 309h1M120 309h1M34 310h1M43 310h1M3 312h1M78 312h1M116 312h1M6 313h1M25 313h1M108 313h1M150 313h1M67 314h1M86 314h1M91 314h1M0 315h1M19 315h1M105 315h1M2 316h2M105 316h1M43 317h1M70 317h1M57 318h1M65 318h1M41 319h1M71 319h1M150 319h1M69 320h1M54 321h1M0 322h1M20 322h1M45 322h1M112 322h1M13 323h1M18 323h1M32 323h1M65 323h1M46 324h1M89 324h1M51 325h1M1 326h1M104 326h1M29 327h1M24 329h1M69 330h1M91 330h1M96 330h1M11 331h1M108 331h1M49 332h2M66 332h1M91 332h1M86 333h1M36 334h1M77 334h1M101 334h1M104 334h1M24 336h1M75 336h1M64 337h1M66 337h1M75 337h1M106 339h1M140 339h1M28 340h1M37 340h1M14 341h1M17 341h1M50 341h1M95 341h1M34 342h1M40 342h1M69 342h1M40 343h1M59 343h1M130 343h1M120 344h1M39 345h1M12 346h1M78 346h1M51 347h1M58 347h1M5 348h1M96 348h1M108 348h1M28 349h1M42 349h1M72 349h1M92 349h1M98 349h1M49 350h1M92 351h1M22 352h1M52 352h1M55 352h1M67 352h1M135 353h1M5 354h1M135 354h1M85 355h1M62 356h1M59 358h1M106 359h1M29 360h1M68 360h1M78 360h1M83 361h1M106 361h1M145 361h1M145 362h1M52 364h1M73 364h1M87 364h1M108 364h1M98 365h1M8 366h1M23 368h1M54 368h1M104 368h1M28 369h1M99 369h1M105 369h2M9 370h1M69 372h2M11 373h1M3 374h1M93 374h1M96 374h1M103 374h1M23 376h2M135 376h1M28 377h1M87 377h1M120 377h1M6 378h1M54 378h1M98 378h1M98 379h1M88 380h1M100 380h1M106 380h1M9 381h1M29 381h1M59 381h1M71 381h1M81 381h1M57 382h1M17 383h1M43 383h1M130 383h1M5 384h1M51 384h1M100 385h1M58 387h1M74 387h1M12 388h1M54 388h1M92 388h1M64 389h1M96 389h1M101 389h1M140 389h1M61 390h1M101 390h1M1 391h1M91 391h1M99 391h1M104 391h1M74 392h1M52 393h1M31 394h1M64 394h1M25 395h1M30 396h1M114 397h1M47 398h1M70 398h1M0 399h1M60 399h1M14 403h1M18 403h1M31 403h1M78 403h1M13 405h1"/>
<path stroke="#472c7a" d="M21 16h1M63 16h1M104 16h1M16 17h1M79 18h1M81 19h1M63 20h1M82 20h1M114 20h1M145 20h1M33 23h1M33 24h1M145 24h1M32 25h1M61 25h2M118 25h1M37 26h1M46 26h1M51 26h1M94 26h1M0 27h1M30 27h1M32 27h1M73 27h2M103 27h1M110 27h1M114 27h1M120 27h1M0 28h1M23 28h1M25 28h1M19 29h1M62 29h1M65 30h1M78 30h1M87 30h1M4 31h1M18 31h1M32 31h1M50 31h1M70 31h1M81 31h1M88 31h1M92 31h1M120 31h1M16 32h1M42 32h1M47 32h1M98 32h1M56 33h1M59 33h1M72 33h1M74 33h1M94 33h1M98 33h1M99 34h1M8 35h1M89 35h1M3 36h1M9 36h1M24 36h1M43 36h1M69 36h1M39 38h1M69 38h1M31 39h1M37 39h1M30 42h1M78 42h1M44 43h1M65 44h1M91 44h1M96 44h1M145 44h1M17 45h1M78 45h1M91 45h1M140 45h1M48 46h1M55 46h1M89 46h1M4 47h1M84 47h1M89 47h1M41 49h1M70 49h1M74 49h1M125 49h1M45 50h1M17 51h1M73 52h1M103 52h1M112 52h1M57 53h1M116 53h1M54 54h1M125 54h1M56 55h1M37 56h1M150 56h1M65 57h1M22 58h1M91 59h1M97 59h1M3 60h1M28 60h1M31 60h1M71 61h1M101 61h1M18 62h1M79 62h1M76 63h1M40 64h1M50 64h1M9 65h1M54 65h1M66 65h1M83 65h1M14 66h1M45 66h1M140 66h1M40 67h1M100 67h1M101 68h1M120 68h1M9 69h1M25 69h1M78 69h1M34 70h1M77 70h1M114 70h1M104 71h1M104 72h1M51 73h1M49 74h1M5 75h1M48 75h1M70 75h1M43 76h1M71 76h1M54 77h1M125 77h1M30 78h1M51 78h1M61 78h1M102 78h1M17 79h1M91 79h1M88 80h1M54 81h1M77 83h1M108 83h1M108 84h1M114 84h1M78 85h1M23 88h1M97 88h1M9 89h1M36 89h1M57 89h1M2 91h1M97 91h1M70 93h1M13 94h1M31 94h1M54 94h1M70 94h1M86 94h1M12 99h1M54 99h1M100 99h1M3 100h1M57 100h1M145 100h1M55 101h1M50 103h1M25 104h1M20 105h1M64 105h1M68 105h1M79 106h1M103 106h1M37 107h1M135 107h1M85 108h1M84 110h1M81 111h1M22 112h1M78 112h1M2 113h1M31 113h1M32 114h1M3 115h1M60 116h1M78 117h1M86 117h1M1 118h1M31 120h1M84 120h1M91 121h1M116 121h1M83 122h1M102 122h1M104 122h1M31 123h1M97 123h1M9 124h1M65 124h1M108 124h1M50 125h1M85 125h1M35 127h1M86 127h1M104 127h1M10 128h1M110 128h1M116 128h1M116 130h1M135 130h1M54 131h1M16 135h1M64 135h1M74 135h1M135 135h1M74 137h1M108 137h1M14 138h1M74 138h1M14 139h1M71 139h1M31 140h1M72 140h1M100 140h1M10 141h1M45 142h1M125 142h1M71 143h1M98 143h1M69 144h1M10 146h1M19 146h1M34 146h1M98 146h1M10 147h1M47 148h1M1 149h1M36 149h1M70 149h1M10 150h1M9 151h1M23 152h2M38 152h1M42 152h1M98 153h1M28 154h1M47 154h1M37 157h1M13 158h1M3 159h1M50 160h1M106 160h1M70 161h1M81 161h1M86 162h1M102 163h1M77 164h1M91 164h1M50 165h1M50 166h2M58 166h1M64 166h1M14 168h1M54 168h1M60 168h1M114 168h1M140 168h1M39 169h1M48 169h1M10 170h1M85 170h1M97 171h1M6 172h1M46 172h1M89 172h1M61 173h1M4 174h1M31 174h1M108 174h1M1 176h1M23 176h1M75 176h1M32 177h1M14 179h1M34 179h1M65 179h1M14 180h1M29 181h1M68 181h1M71 181h1M96 181h1M88 182h1M64 183h1M104 183h1M9 184h1M14 186h1M73 186h1M14 187h1M69 188h1M87 188h1M75 189h1M0 190h1M84 190h2M22 191h1M39 191h1M68 191h1M70 191h1M77 191h1M9 192h1M106 192h1M89 193h1M68 194h1M22 195h1M66 195h1M94 196h1M14 199h1M19 199h1M13 200h1M23 200h1M32 200h1M91 201h1M62 202h1M85 202h1M50 203h1M8 204h1M54 204h1M19 205h1M91 205h1M19 206h1M40 207h1M48 207h1M130 207h1M57 211h1M5 213h1M11 213h1M40 213h1M14 214h1M18 214h1M50 214h1M15 215h1M50 215h1M62 216h1M45 217h1M54 217h1M35 218h1M98 218h1M130 218h1M37 220h1M46 220h1M55 220h1M30 221h1M62 221h1M104 222h1M43 223h1M8 224h1M48 225h1M57 225h1M6 226h1M145 226h1M4 228h1M99 230h1M135 230h1M30 231h1M40 231h1M68 231h1M86 231h1M118 231h1M30 232h1M84 233h1M98 233h1M35 234h1M102 235h1M11 236h1M15 236h1M23 236h1M57 236h1M116 236h1M64 239h1M120 239h1M43 240h1M59 242h1M2 243h1M106 243h1M95 245h1M103 245h1M114 245h1M140 245h1M3 246h1M17 246h1M52 246h1M6 247h1M130 249h1M103 250h1M78 251h1M105 252h1M14 253h1M114 253h1M58 254h1M96 254h1M100 254h1M64 255h1M150 255h1M87 257h1M60 258h1M91 258h1M32 259h1M6 260h1M116 260h1M30 261h1M135 261h1M62 262h1M112 262h1M9 263h1M29 264h1M75 264h1M91 264h1M130 264h1M61 265h1M66 265h1M130 265h1M0 266h1M4 266h1M13 266h1M15 266h1M62 267h1M56 268h1M88 268h1M145 269h1M12 270h1M40 270h1M5 271h1M34 271h1M48 271h1M12 272h1M74 272h1M31 273h1M110 275h1M71 277h1M37 278h1M57 278h1M87 278h1M104 278h2M45 279h1M54 279h1M19 280h1M40 280h1M8 281h1M31 281h1M54 284h1M77 284h1M3 285h1M17 285h1M29 287h1M77 288h1M150 289h1M64 290h1M140 290h1M30 291h1M43 291h1M97 292h1M31 293h1M34 293h1M45 294h1M0 295h1M89 295h1M8 296h1M108 296h1M135 296h1M23 297h1M52 297h1M30 298h1M120 298h1M30 299h1M13 300h1M22 300h1M91 301h1M42 302h1M65 302h1M78 302h1M85 302h1M116 303h1M4 304h1M10 304h1M52 304h1M54 304h1M59 304h1M70 305h1M98 305h1M40 306h1M50 306h1M135 306h1M74 311h1M73 312h1M38 313h1M83 313h1M49 314h1M84 314h1M101 314h1M20 316h1M101 317h1M8 319h1M65 319h1M77 321h1M100 321h1M35 322h1M96 322h1M61 323h1M91 324h1M112 324h1M75 326h1M54 327h1M64 327h1M130 327h1M41 328h1M54 328h1M76 328h1M85 328h1M13 329h1M140 329h1M17 330h1M15 332h1M108 332h1M103 333h1M45 334h1M72 336h1M125 336h1M71 337h1M73 337h1M77 337h1M98 337h1M75 338h1M104 338h1M106 338h1M118 338h1M25 339h1M40 339h1M47 339h1M11 340h1M54 340h1M23 342h1M31 342h1M10 344h1M32 344h1M51 344h2M30 345h1M68 345h1M81 345h1M6 346h1M10 346h1M15 346h1M6 347h1M17 347h1M73 348h1M74 349h1M89 349h1M2 350h1M35 350h1M54 351h1M94 351h1M145 352h1M37 353h1M64 353h1M69 353h1M4 354h1M75 354h1M54 355h1M61 355h1M94 355h1M99 355h1M145 355h1M54 356h1M78 358h1M2 359h1M79 359h1M74 360h1M30 361h1M87 362h1M150 362h1M54 363h1M56 363h1M35 365h1M35 366h1M104 367h1M5 369h1M91 369h1M6 370h1M12 372h1M29 373h1M22 374h1M59 374h1M114 375h1M13 377h1M65 377h1M125 378h1M9 380h1M81 380h1M31 382h1M98 382h1M31 383h1M66 384h1M6 386h1M75 386h1M5 388h1M49 388h1M125 388h1M19 389h1M15 390h1M88 390h1M13 393h1M17 393h1M56 393h1M57 395h1M91 395h1M135 395h1M23 397h1M65 397h1M20 398h1M35 398h1M114 398h1M29 400h1M105 400h1M85 401h1M17 404h1M116 405h1"/>
<path stroke="#472f7d" d="M27 17h1M21 19h1M33 20h1M57 20h1M81 20h1M112 20h1M116 20h1M118 20h1M82 21h1M26 22h1M118 22h1M130 23h1M81 24h1M99 24h1M116 24h1M118 24h1M22 25h1M69 25h1M91 25h1M96 26h1M112 26h1M91 27h1M108 27h1M36 28h1M78 28h1M94 28h1M40 29h1M76 29h1M83 29h1M14 30h1M35 30h1M92 30h1M54 31h1M56 32h1M91 32h1M140 32h1M3 33h1M85 33h1M92 33h1M110 33h1M118 33h1M30 34h1M41 34h1M81 34h1M118 34h1M69 35h1M108 35h1M10 36h1M62 36h1M97 37h1M70 38h1M77 38h1M59 39h1M79 39h1M108 39h1M112 39h1M102 40h1M59 41h1M101 42h1M6 43h1M97 43h1M120 43h1M145 45h1M10 46h1M66 46h1M60 47h1M98 47h1M81 48h1M37 49h1M37 50h1M58 51h1M35 53h1M2 55h1M101 55h1M46 57h1M84 58h1M96 58h1M0 59h1M30 61h1M41 61h1M30 62h1M15 64h1M39 64h1M44 66h1M150 66h1M64 68h1M9 70h1M40 70h1M145 70h1M77 71h1M108 71h1M74 72h1M86 72h1M116 73h1M49 75h1M46 76h1M135 76h1M29 77h1M41 78h1M76 78h1M92 79h1M67 80h1M29 81h1M125 81h1M6 82h1M56 82h1M37 83h1M56 83h1M88 83h1M145 83h1M36 85h1M98 85h1M91 89h1M23 90h1M28 93h1M61 93h1M86 93h1M41 95h1M92 96h1M8 97h1M89 97h1M62 98h1M94 99h1M145 99h1M150 100h1M100 103h1M96 104h1M67 105h1M3 106h1M81 106h1M103 107h1M86 108h1M49 109h1M108 109h1M69 110h1M17 113h1M93 113h1M13 115h1M38 116h1M69 116h1M78 116h1M3 117h1M40 118h1M47 118h1M71 118h1M76 119h1M112 119h1M20 120h1M47 121h1M88 121h1M15 122h1M78 123h1M98 123h1M23 124h1M61 124h1M130 125h1M0 126h1M10 129h1M87 129h1M89 130h1M56 131h1M1 132h1M59 132h1M59 133h1M79 133h1M29 134h1M64 134h1M1 135h1M45 135h1M104 136h1M69 137h1M18 139h1M110 139h1M18 140h1M51 140h1M69 142h1M51 144h1M62 144h1M145 144h1M62 145h1M4 146h1M32 146h1M83 146h1M145 147h1M10 149h1M13 149h1M44 149h1M54 150h1M145 151h1M100 152h1M145 152h1M1 153h1M11 153h1M45 154h1M74 154h1M86 154h1M25 156h1M108 156h1M88 158h1M44 159h1M2 160h1M95 160h1M86 161h1M49 162h1M91 162h1M108 162h1M6 164h1M12 166h1M22 169h1M74 169h1M39 170h1M56 170h1M19 172h1M36 173h1M71 173h1M38 175h1M54 176h1M84 176h1M62 178h1M28 179h1M38 179h1M59 179h1M6 181h1M61 181h1M85 181h1M104 181h1M130 182h1M8 183h1M32 183h1M38 183h1M62 184h1M74 184h1M83 184h1M6 185h1M18 185h1M24 185h1M68 185h1M21 187h1M49 187h2M89 187h1M9 188h1M13 190h1M34 190h1M98 190h1M94 191h1M79 192h1M94 192h1M101 192h1M40 194h1M41 196h1M6 197h1M12 197h1M91 197h1M99 197h1M11 198h1M10 199h1M14 200h1M145 201h1M35 202h1M91 202h1M14 203h1M54 203h1M79 203h1M85 203h1M150 204h1M6 205h1M9 205h1M95 205h1M69 207h1M72 211h1M91 212h1M102 212h1M98 213h1M105 213h1M52 216h1M14 218h1M54 218h1M64 218h1M87 219h1M99 220h1M145 221h1M34 223h1M40 223h1M87 224h1M85 225h1M61 226h1M72 226h1M11 229h1M88 230h1M0 233h1M51 233h1M64 233h1M11 234h1M32 234h1M72 234h1M145 234h1M15 237h1M36 237h1M84 238h1M118 239h1M40 240h1M70 240h1M14 241h1M42 241h1M46 241h1M92 241h1M110 241h1M7 242h1M55 242h1M62 242h1M104 242h1M81 243h1M42 244h1M24 246h1M108 249h1M110 250h1M91 251h1M1 252h1M14 252h1M17 252h1M86 252h1M1 253h1M79 253h1M37 254h1M110 254h1M116 254h1M13 256h1M37 256h1M100 256h1M19 257h1M50 257h1M100 257h1M112 257h1M14 258h1M56 258h1M26 259h1M59 259h1M41 260h1M105 260h1M135 260h1M118 261h1M40 262h1M73 263h1M51 264h1M45 265h1M108 265h1M36 266h1M83 267h1M106 269h1M12 271h1M58 271h1M87 271h1M22 272h1M54 273h1M59 273h1M104 273h1M41 274h1M77 274h1M58 275h1M71 279h1M8 280h1M66 280h1M150 280h1M87 281h1M91 281h1M94 281h1M100 282h1M86 283h1M91 285h1M94 285h1M78 287h1M2 288h1M72 288h1M88 289h1M88 290h1M105 290h1M145 290h1M1 291h1M29 292h1M42 292h1M70 292h1M92 292h1M57 293h1M70 294h1M65 295h1M84 296h1M8 297h1M18 297h1M116 297h1M86 298h1M98 298h1M22 299h1M105 299h1M51 300h1M63 300h1M100 300h1M120 300h1M66 301h1M86 301h1M98 301h1M77 304h1M57 306h1M66 306h1M150 307h1M14 311h1M70 312h1M77 313h1M50 315h1M71 315h1M86 315h1M130 315h1M25 318h1M85 318h1M87 318h1M101 318h1M97 319h1M4 320h1M20 320h1M112 320h1M91 322h1M19 323h1M91 323h1M48 324h1M68 327h1M29 328h1M42 328h1M68 328h1M6 329h1M58 332h1M60 332h1M125 332h1M91 334h1M77 335h1M70 337h1M99 337h1M19 338h1M0 339h1M74 339h1M101 340h1M93 341h1M93 342h1M75 343h1M101 345h1M91 347h1M64 348h1M49 349h1M116 351h1M6 352h1M35 352h1M93 353h1M85 354h1M6 356h1M12 356h1M56 358h1M88 358h1M6 360h1M10 360h1M18 360h1M91 362h1M8 364h1M41 366h1M39 367h1M51 368h1M6 369h1M92 369h1M1 370h1M98 370h1M32 371h1M48 371h1M98 371h1M112 371h1M100 372h1M56 376h1M2 379h1M70 379h1M110 383h1M103 384h1M108 386h1M39 388h1M5 389h1M77 391h1M55 392h1M23 394h1M66 394h1M84 396h1M55 397h1M54 401h1M31 402h1M50 402h1M54 403h1M91 403h1M11 405h1M81 405h1"/>
<path stroke="#46337f" d="M140 15h1M33 16h1M33 17h1M33 18h1M79 20h1M27 21h1M54 21h1M116 21h1M90 23h1M145 23h1M15 25h1M23 25h1M67 25h1M97 25h1M102 25h1M112 25h1M36 26h1M57 26h1M85 26h1M99 26h1M110 26h1M18 27h1M105 27h1M50 28h1M59 28h1M114 28h1M36 31h1M51 31h1M70 32h1M59 35h1M32 38h1M3 39h1M45 39h1M39 40h1M65 40h1M101 40h1M12 42h1M28 44h1M35 44h1M103 44h1M150 46h1M12 47h1M38 47h1M71 47h1M6 55h1M29 58h1M6 59h1M57 60h1M91 62h1M100 62h1M15 65h1M2 66h1M87 66h1M14 68h1M106 68h1M58 72h1M0 73h1M14 73h1M60 73h1M62 73h1M9 74h1M60 75h1M85 77h1M45 78h1M41 79h1M52 79h1M79 79h1M18 80h1M51 80h1M69 81h1M145 81h1M54 82h1M95 82h1M85 83h1M140 83h1M49 87h1M14 90h1M91 91h1M32 94h1M100 94h1M57 95h1M95 96h1M36 97h1M18 100h1M94 100h1M45 102h1M11 103h1M77 104h1M51 105h1M59 106h1M67 106h1M125 106h1M95 108h1M140 108h1M5 109h1M20 109h1M20 110h1M58 111h1M17 112h1M50 113h1M3 116h1M14 116h1M101 117h1M102 119h1M23 121h1M104 123h1M112 124h1M37 126h1M71 126h1M48 128h1M88 129h1M99 129h1M145 129h1M15 130h1M145 130h1M93 131h1M18 133h1M50 133h1M99 133h1M20 135h1M67 135h1M110 136h1M79 137h1M83 137h1M25 139h1M6 140h1M130 140h1M62 141h1M106 141h1M145 145h1M97 147h1M8 148h1M94 149h1M23 153h1M74 153h1M145 154h1M106 156h1M83 157h1M108 157h1M145 161h1M42 162h1M12 165h1M120 165h1M110 169h1M106 171h1M46 173h1M68 173h1M71 174h1M116 175h1M2 177h1M86 177h1M0 178h1M78 178h1M91 178h1M95 183h1M62 185h1M135 185h1M150 187h1M10 188h1M74 188h1M64 189h1M73 189h1M75 190h1M8 194h1M57 194h1M94 195h1M38 196h1M100 198h1M135 199h1M3 200h1M15 207h1M66 209h1M73 209h1M81 213h1M93 216h1M46 217h1M60 218h1M23 219h1M64 219h1M74 221h1M91 221h1M78 222h1M8 223h1M11 224h1M110 229h1M43 231h1M106 233h1M43 234h1M102 234h1M11 235h1M41 235h1M23 237h1M95 237h1M112 238h1M19 242h1M140 244h1M95 246h1M28 247h1M47 247h1M8 249h1M70 250h1M108 257h1M35 258h1M79 259h1M32 262h1M37 262h1M40 263h1M91 263h1M8 264h1M29 267h1M20 268h1M29 268h1M98 268h1M52 271h1M24 272h1M44 272h1M59 272h1M69 273h1M86 273h1M25 274h1M62 274h1M73 274h1M104 279h1M17 281h1M93 281h1M17 282h1M96 283h1M83 284h1M38 286h1M6 292h1M40 293h1M108 297h1M29 298h1M63 298h1M49 300h1M52 302h1M42 303h1M66 305h1M38 307h1M101 307h1M6 309h1M87 310h1M49 312h1M25 316h1M130 316h1M120 318h1M40 319h1M67 321h1M67 322h1M89 323h1M14 324h1M67 324h1M23 325h1M125 325h1M83 326h1M94 326h1M1 327h1M69 329h1M66 331h1M118 331h1M12 332h1M5 333h1M12 333h1M47 334h1M20 335h1M99 336h1M118 337h1M6 338h1M6 339h1M51 339h1M15 341h1M69 341h1M12 342h1M5 344h1M67 344h1M51 345h1M59 346h1M99 347h1M116 347h1M6 348h1M72 350h1M12 352h1M69 352h1M4 355h1M34 356h1M60 356h1M1 357h1M54 357h1M60 357h1M97 363h1M5 366h1M88 368h1M95 371h1M56 375h1M14 384h1M100 384h1M145 384h1M42 385h1M39 386h1M97 386h1M34 387h1M100 387h1M84 388h1M75 389h1M89 389h1M15 393h1M70 399h1M94 399h1M118 399h1M19 401h1M36 403h1M73 405h1"/>
<path stroke="#453781" d="M125 16h1M80 17h1M110 20h1M63 21h1M17 24h1M80 24h1M104 24h1M8 25h1M68 25h1M99 25h1M50 27h1M55 28h1M57 28h1M13 29h1M46 29h1M15 30h1M47 30h1M81 30h1M91 30h1M37 32h1M59 32h1M15 33h1M91 33h1M114 33h1M37 34h1M59 34h1M86 36h1M91 37h1M60 39h1M108 41h1M91 42h1M120 42h1M23 44h1M40 48h1M100 49h1M6 53h1M23 54h1M54 56h1M59 57h1M86 57h1M8 59h1M71 60h1M54 61h1M58 62h1M19 64h1M66 64h1M12 66h1M79 72h1M96 72h1M64 73h1M92 74h1M112 74h1M70 76h1M6 77h1M76 79h1M48 80h1M104 81h1M96 83h1M40 86h1M93 93h1M66 94h1M69 94h1M4 96h1M54 96h1M93 98h1M55 99h1M54 100h1M81 105h1M25 106h1M71 108h1M61 110h1M64 110h1M108 110h1M150 111h1M6 112h1M94 114h1M38 115h1M150 122h1M67 125h1M85 127h1M71 130h1M71 131h1M18 132h1M91 132h1M1 133h1M41 134h1M35 142h1M54 143h1M69 143h1M43 145h1M67 147h1M64 149h1M112 149h1M9 150h1M105 152h1M28 155h1M91 159h1M15 161h1M37 161h1M108 161h1M85 166h1M71 167h1M41 168h1M54 169h1M91 169h1M32 170h1M37 170h1M77 171h1M150 173h1M48 176h1M68 177h1M20 183h1M35 185h1M6 191h1M18 196h1M64 198h1M32 199h1M60 199h1M39 203h1M65 204h2M15 206h1M120 207h1M55 214h1M57 219h1M50 223h1M150 224h1M6 225h1M84 225h1M43 230h1M78 236h1M106 237h1M43 238h1M102 241h1M94 242h1M61 244h1M135 245h1M23 247h1M97 252h1M61 254h1M28 255h1M37 257h1M41 259h1M73 262h1M15 263h1M106 268h1M12 269h1M88 269h1M83 270h1M39 272h1M54 272h1M92 272h1M6 274h1M54 275h1M94 277h1M55 281h1M73 283h1M91 286h1M64 289h1M46 290h1M75 294h1M19 296h1M120 299h1M63 302h1M108 302h1M118 303h1M38 306h1M11 307h1M29 313h1M91 316h1M29 317h1M54 323h1M24 327h1M77 327h1M24 328h1M61 328h1M23 330h1M140 330h1M40 331h1M112 331h1M31 332h1M29 334h2M31 337h1M54 337h1M91 339h1M39 340h1M49 342h1M55 345h1M55 346h1M105 353h1M30 358h1M74 359h1M45 364h1M60 364h1M98 364h1M60 371h1M68 374h1M97 383h1M52 390h1M31 401h1M56 404h1M91 404h1"/>
<path stroke="#443a83" d="M53 17h1M120 18h1M16 20h1M63 22h1M108 22h1M120 23h1M47 25h1M64 25h2M28 26h1M40 26h1M87 26h1M150 26h1M47 28h1M74 28h1M48 29h1M51 29h1M70 29h1M64 30h1M88 30h1M1 33h1M95 33h1M72 34h1M38 48h1M74 48h1M140 49h1M120 54h1M50 55h1M30 56h1M140 59h1M1 60h1M44 61h1M101 66h1M91 70h1M89 71h1M6 74h1M83 77h1M94 79h1M25 86h1M6 88h1M81 89h1M76 98h1M66 104h1M93 107h1M31 110h1M61 111h1M31 112h1M91 120h1M94 123h1M54 124h1M67 126h1M72 126h1M14 127h1M106 127h1M32 130h1M37 130h1M103 135h1M59 137h1M68 137h1M73 137h1M56 138h1M68 138h1M6 139h1M99 142h1M34 145h1M54 146h1M64 153h1M98 154h1M18 157h1M83 158h1M94 159h1M19 164h1M56 165h1M18 166h1M54 166h1M66 167h1M13 169h1M50 171h1M78 172h1M91 173h1M118 173h1M96 174h1M57 175h1M84 175h1M65 176h1M0 177h1M37 177h1M56 179h1M104 180h1M52 183h1M20 184h1M114 193h1M72 194h1M54 200h1M93 200h1M66 203h1M75 205h1M12 206h1M91 206h1M54 208h1M32 212h1M41 214h1M57 218h1M69 218h1M99 219h1M118 230h1M24 231h1M88 235h1M91 235h1M43 237h1M36 238h1M2 240h1M54 241h1M101 251h1M69 252h1M6 253h1M97 257h1M9 262h1M75 266h1M54 267h1M116 268h1M54 269h1M23 270h1M73 270h1M86 271h1M64 272h1M86 272h1M54 277h1M106 277h1M64 280h1M135 281h1M44 282h1M54 286h1M46 289h1M120 297h1M47 304h1M102 305h1M49 313h1M73 316h1M68 317h1M120 317h1M91 319h1M96 320h1M49 330h1M104 339h1M11 341h1M35 342h1M41 342h1M54 348h1M81 349h1M116 350h1M15 352h1M64 354h1M83 360h1M54 361h1M30 364h1M38 365h1M78 377h1M39 387h1M81 394h1M55 395h1M54 397h1M64 398h1M91 402h1"/>
<path stroke="#433e85" d="M78 19h1M26 20h1M53 20h1M90 21h1M50 23h1M54 23h1M21 24h1M92 24h1M98 24h1M114 24h1M48 25h1M52 25h1M58 25h1M95 25h1M66 26h1M88 26h2M105 26h1M77 27h1M94 29h1M54 30h1M3 32h1M42 33h1M13 34h1M37 35h1M60 38h1M77 40h1M91 41h1M59 42h1M41 43h1M3 46h1M54 47h1M50 48h1M1 58h1M35 63h1M36 64h1M70 65h1M150 68h1M96 71h1M0 79h1M5 80h1M54 80h1M78 80h1M36 84h1M81 90h1M60 92h1M87 99h1M25 105h1M23 106h1M108 117h1M28 118h1M93 126h1M14 128h1M41 128h1M79 134h1M91 134h1M14 137h1M8 149h1M28 149h1M43 150h1M116 150h1M43 151h1M9 155h1M4 157h1M104 169h1M54 171h1M62 171h1M84 172h1M68 174h1M30 177h1M84 180h1M101 187h1M10 189h1M35 190h1M74 191h1M125 196h1M49 208h1M91 210h1M98 214h1M86 216h1M4 222h1M6 222h1M59 223h1M40 224h1M15 227h1M10 228h1M98 234h1M100 237h1M24 248h1M6 252h1M34 263h1M4 269h1M22 271h1M77 273h1M79 276h1M91 283h1M91 284h1M51 286h1M103 299h1M63 301h1M76 322h1M114 337h1M31 349h1M71 351h1M91 351h1M91 352h1M71 358h1M64 360h1M66 361h1M64 364h1M9 372h1M32 372h1M73 372h1M92 386h1M15 391h1M15 392h1M23 392h1M86 397h1M54 398h1M54 400h1"/>
<path stroke="#424186" d="M26 19h1M90 19h1M78 20h1M21 23h1M70 25h1M73 25h1M120 26h1M95 28h1M100 29h1M20 32h1M42 39h1M56 44h1M6 52h1M6 56h1M50 56h1M6 57h1M44 64h1M22 66h1M59 84h1M69 93h1M8 94h1M54 123h1M45 127h1M6 132h1M6 133h1M91 133h1M6 134h1M62 134h1M39 138h1M39 139h1M54 142h1M99 143h1M64 150h1M64 151h1M118 154h1M66 169h1M91 172h1M76 177h1M19 201h1M91 209h1M116 209h1M81 214h1M6 221h1M96 223h1M56 224h1M110 233h1M41 234h1M91 238h1M0 251h1M114 255h1M54 270h1M64 270h1M24 271h1M64 274h1M38 277h1M91 282h1M93 282h1M63 299h1M67 317h1M4 324h1M125 324h1M29 350h1M54 359h1M54 360h1M36 361h1M91 361h1M64 365h1M23 393h1M104 393h1M91 394h1M17 395h1M19 402h1"/>
<path stroke="#404588" d="M68 17h1M79 17h1M53 22h1M125 23h1M86 24h1M88 24h1M60 25h1M75 25h1M108 25h1M4 30h1M13 30h1M58 41h1M91 47h1M75 49h1M150 67h1M5 70h1M116 77h1M34 122h1M6 136h1M6 137h1M104 143h1M54 167h1M104 182h1M20 185h1M54 193h1M54 219h1M54 234h1M91 234h1M91 236h1M114 256h1M104 260h1M64 268h1M54 271h1M54 274h1M91 280h1M6 298h1M63 303h1M11 308h1M150 314h1M91 318h1M76 321h1M35 351h1M91 357h1M62 371h1M46 377h1M116 379h1"/>
<path stroke="#3f4889" d="M96 16h1M57 17h1M79 21h1M21 22h1M48 22h1M84 23h1M62 24h1M73 24h1M95 24h1M35 40h1M140 50h1M91 58h1M79 73h1M73 102h1M135 113h1M54 121h1M6 138h1M102 140h1M30 178h1M64 182h1M64 205h1M45 218h1M91 233h1M78 235h1M91 241h1M91 242h1M5 249h1M64 267h1M64 269h1M9 276h1M106 278h1M91 304h1M54 322h1M114 387h1"/>
<path stroke="#3e4c8a" d="M94 16h1M78 18h1M80 19h1M21 20h1M34 23h1M70 23h1M50 24h2M14 27h1M3 34h1M6 54h1M135 112h1M54 122h1M6 135h1M54 201h1M54 229h1M35 233h1M91 237h1M64 266h1M54 344h1"/>
<path stroke="#3c4f8a" d="M90 18h1M36 22h1M34 24h1M35 39h1M77 41h1M54 120h1M54 125h1M54 230h1M54 231h1M54 232h1M91 232h1M54 233h1M64 271h1"/>
<path stroke="#3b528b" d="M89 16h1M91 16h1M98 16h1M78 17h1M81 17h1M57 21h1M56 22h1M56 24h1M91 239h1M64 273h1"/>
<path stroke="#39558c" d="M80 21h1M66 23h1M59 24h1M3 29h1M1 31h1M41 57h1M54 258h1M54 259h1"/>
<path stroke="#38598c" d="M53 13h1M97 16h1M101 16h1M103 16h1M64 21h1M68 22h1M82 22h1M8 23h1M35 24h1M66 24h1M85 24h1M89 24h1M100 24h1M105 24h1M54 251h1M54 254h1M54 256h1"/>
<path stroke="#365c8d" d="M53 12h1M125 14h1M21 15h1M90 15h1M51 17h1M84 19h1M110 19h1M62 22h1M48 23h1M83 23h1M64 24h1M10 26h1M91 240h1M54 250h1M54 253h1"/>
<path stroke="#355f8d" d="M80 15h1M125 15h1M93 16h1M82 17h1M108 17h1M68 21h1M49 23h1M46 24h1M5 29h1M3 31h1M54 252h1"/>
<path stroke="#33628d" d="M82 15h1M92 16h1M52 17h1M108 18h1M70 20h1M36 23h1M46 23h1M69 23h1M85 23h1M8 24h1M10 24h1M91 24h1M94 24h1M2 31h1M54 255h1"/>
<path stroke="#32658e" d="M100 16h1M36 17h1M70 17h1M43 20h1M106 20h1M36 21h1M46 21h1M85 22h1M6 23h1M51 23h1M71 23h1M41 24h1M96 24h1M54 257h1"/>
<path stroke="#31688e" d="M125 13h1M80 14h1M27 15h1M78 16h1M95 16h1M54 20h1M86 20h1M8 21h1M66 22h1M69 22h1M84 24h1M1 32h1"/>
<path stroke="#2f6b8e" d="M54 15h1M116 16h1M64 17h1M145 19h1M28 20h1M55 21h1M34 22h1M47 22h1M17 23h1M52 23h1M57 24h1M70 24h1M6 25h1M6 26h1M2 28h1M4 28h1M5 30h1"/>
<path stroke="#2e6e8e" d="M125 10h1M120 15h1M50 17h1M110 17h1M35 20h1M67 20h1M73 21h1M24 22h1M42 22h1M51 22h1M45 23h1M73 23h1M12 28h1"/>
<path stroke="#2d718e" d="M130 12h1M53 15h1M105 16h1M120 16h1M145 17h1M54 18h1M116 18h1M66 21h1M55 22h1M83 22h1M9 23h1M35 23h1M87 24h1M101 24h1M106 24h1M6 27h1M4 29h1"/>
<path stroke="#2c738e" d="M53 10h1M130 13h1M150 16h1M120 17h1M110 18h1M36 19h1M51 19h1M66 19h1M108 19h1M34 20h1M52 20h1M55 20h1M35 21h1M50 21h1M60 21h1M86 21h1M10 22h1M35 22h1M41 22h1M50 22h1M86 23h1M103 24h1M5 27h1"/>
<path stroke="#2a768e" d="M66 17h1M84 17h1M114 17h1M114 18h1M114 19h1M56 20h1M49 21h1M62 21h1M85 21h1M97 21h1M64 22h1M40 23h1M62 23h1M67 23h1M106 23h1M38 24h1M60 24h1M83 24h1M93 24h1M102 24h1"/>
<path stroke="#29798e" d="M27 11h1M140 11h1M125 12h1M27 13h1M63 15h1M145 15h1M87 16h1M150 18h1M85 20h1M89 20h1M98 20h1M102 20h1M65 21h1M103 21h1M106 21h1M17 22h1M32 22h1M60 22h1M10 23h1M23 23h1M56 23h2M0 24h1M13 24h1M42 24h1M45 24h1"/>
<path stroke="#287c8e" d="M53 9h1M80 11h1M21 13h1M100 13h1M79 15h1M102 16h1M52 19h1M64 19h1M118 19h1M37 20h1M39 20h1M87 20h1M72 21h1M87 21h1M52 22h1M70 22h1M96 22h1M98 22h1M106 22h1M0 23h1M22 23h1M31 23h1M30 24h1M13 26h1M12 27h1"/>
<path stroke="#277f8e" d="M53 8h1M63 12h1M90 13h1M27 14h1M118 16h1M7 17h1M49 17h1M9 19h1M17 19h1M34 19h1M46 20h1M83 20h1M30 21h1M34 21h1M47 21h1M91 21h2M39 22h1M49 22h1M92 22h1M11 23h1M38 23h1M65 23h1M25 24h1M32 24h1M40 24h1M72 24h1M2 30h1M2 32h1"/>
<path stroke="#26828e" d="M140 9h1M33 12h1M33 13h1M63 13h1M120 13h1M116 14h1M78 15h1M77 17h1M118 17h1M112 18h1M50 19h1M68 19h1M0 20h1M88 20h1M91 20h1M59 21h1M98 21h1M97 22h1M104 22h1M19 23h1M30 23h1M41 23h1M15 24h1M44 24h1M49 24h1M77 24h1M14 26h1M3 30h1"/>
<path stroke="#25848e" d="M135 10h1M63 11h1M46 17h1M54 17h1M62 17h1M17 18h1M49 19h1M73 19h1M85 19h2M32 21h1M48 21h1M52 21h1M70 21h1M101 21h1M104 21h1M9 22h1M23 22h1M29 22h1M43 22h1M25 23h1M47 23h1M59 23h1M76 23h1M31 24h1M36 24h1M55 24h1M58 24h1M97 24h1M13 28h1"/>
<path stroke="#24878e" d="M90 9h1M63 10h1M53 11h1M140 12h1M135 13h1M35 17h1M55 19h1M6 20h1M76 20h2M94 20h1M99 20h1M105 20h1M19 21h1M100 21h1M8 22h1M11 22h1M14 22h1M31 22h1M58 22h1M86 22h1M101 22h1M29 23h1M32 23h1M75 23h1M14 24h1M22 24h1M52 24h1M5 25h1M5 28h1"/>
<path stroke="#238a8d" d="M63 9h1M33 11h1M63 14h1M7 16h1M54 16h1M68 16h1M60 17h1M23 19h1M56 19h1M83 19h1M8 20h1M49 20h1M93 20h1M95 20h2M17 21h1M56 21h1M69 21h1M93 21h1M102 21h1M6 22h1M46 22h1M65 22h1M72 22h1M77 22h1M94 22h1M99 22h1M14 23h1M43 23h1M60 23h1M11 24h2M23 24h1M37 24h1M75 24h1M13 25h2M4 27h1"/>
<path stroke="#228d8d" d="M118 7h1M130 9h1M80 12h1M80 13h1M110 15h1M57 16h1M81 16h1M40 17h1M56 17h1M47 19h1M17 20h1M22 20h1M41 20h1M51 20h1M84 20h1M103 20h1M15 21h1M37 21h1M39 21h1M43 21h1M58 21h1M71 21h1M76 21h1M57 22h1M95 22h1M103 22h1M24 23h1M42 23h1M43 24h1"/>
<path stroke="#21908d" d="M114 6h1M130 7h1M80 10h1M135 11h1M90 12h1M78 13h1M7 14h1M145 14h1M99 16h1M81 18h1M28 19h1M58 19h1M62 19h1M50 20h1M25 21h1M28 21h1M61 21h1M89 21h1M94 21h1M73 22h1M102 22h1M39 23h1M44 23h1M77 23h1M94 23h1M76 24h1M3 27h1M13 27h1"/>
<path stroke="#20928c" d="M27 9h1M27 10h1M90 10h1M27 12h1M79 13h1M90 14h1M7 15h1M26 15h1M112 16h1M17 17h1M54 19h1M59 19h1M77 19h1M18 20h1M36 20h1M100 20h1M77 21h1M84 21h1M99 21h1M105 21h1M28 22h1M59 22h1M91 22h1M18 23h1M37 23h1M19 24h1M74 24h1"/>
<path stroke="#1f958b" d="M140 8h1M79 11h1M90 11h1M120 12h1M140 13h1M21 14h1M112 14h1M108 15h1M17 16h1M108 16h1M145 18h1M32 20h1M61 20h2M40 21h1M74 21h1M83 21h1M88 21h1M45 22h1M84 22h1M87 22h1M89 22h1M28 23h1M61 23h1M28 24h2M65 24h1M5 26h1M1 30h1"/>
<path stroke="#1f988b" d="M101 13h1M118 15h1M55 17h1M74 17h1M112 17h1M8 19h1M10 19h1M74 19h1M73 20h1M97 20h1M104 20h1M20 21h1M15 22h1M67 22h1M100 22h1M105 22h1M74 23h1M87 23h2M96 23h1M99 23h1M101 23h1M20 24h1M67 24h1"/>
<path stroke="#1e9b8a" d="M112 4h1M118 9h1M33 10h1M21 12h1M26 13h1M116 13h1M81 15h1M70 16h1M114 16h1M41 17h1M116 17h1M118 18h1M19 19h2M42 19h1M42 20h1M45 20h1M60 20h1M66 20h1M69 20h1M74 20h1M6 21h1M22 21h1M0 22h1M19 22h1M89 23h1M104 23h1M18 24h1M12 26h1M1 28h1M2 29h1"/>
<path stroke="#1f9e89" d="M130 11h1M26 12h1M52 13h1M81 14h1M118 14h1M64 16h1M106 17h1M43 19h1M71 19h1M150 19h1M9 20h1M20 20h1M38 20h1M40 20h1M58 20h1M101 20h1M23 21h1M29 21h1M44 21h1M51 21h1M20 22h1M71 22h1M75 22h1M93 22h1M97 23h1M9 24h1M61 24h1"/>
<path stroke="#1fa188" d="M69 10h1M86 10h1M96 13h1M114 14h1M16 15h1M51 16h1M68 18h1M39 19h1M57 19h1M106 19h1M25 20h1M65 20h1M10 21h1M42 21h1M45 21h1M75 21h1M18 22h1M72 23h1M5 24h1M48 24h1M71 24h1M3 26h2"/>
<path stroke="#20a386" d="M118 5h1M125 9h1M28 10h1M130 10h1M81 13h1M33 15h1M82 16h1M110 16h1M61 17h1M76 17h1M70 19h1M47 20h1M75 20h1M92 20h1M41 21h1M95 21h1M38 22h1M40 22h1M20 23h1M98 23h1M100 23h1M69 24h1M3 28h1M1 29h1"/>
<path stroke="#21a685" d="M82 13h1M54 14h1M79 14h1M82 14h1M120 14h1M112 15h1M145 16h1M18 17h1M69 17h1M73 17h1M85 17h1M70 18h1M46 19h1M48 20h1M68 20h1M72 20h1M24 21h1M38 21h1M96 21h1M25 22h1M37 22h1M92 23h1M39 24h1"/>
<path stroke="#23a983" d="M7 3h1M18 10h1M7 11h1M79 12h1M114 12h1M7 13h1M16 13h1M92 13h1M18 14h1M53 14h1M28 17h1M86 17h1M150 17h1M35 19h1M40 19h1M45 19h1M101 19h1M10 20h1M23 20h1M64 20h1M11 21h1M31 21h1M67 21h1M103 23h1M12 25h1"/>
<path stroke="#25ac82" d="M26 3h1M53 7h1M116 12h1M94 13h1M17 15h1M116 15h1M20 17h1M65 19h1M67 19h1M94 19h1M11 20h1M71 20h1M18 21h1M30 22h1M74 22h1M93 23h1M47 24h1M3 25h1"/>
<path stroke="#28ae80" d="M36 8h1M125 8h1M54 12h1M98 13h1M78 14h1M150 15h1M39 17h1M42 17h1M36 18h1M37 19h1M100 19h1M44 20h1M22 22h1M88 22h1M58 23h1M64 23h1M91 23h1M95 23h1M6 24h1M2 27h1"/>
<path stroke="#2cb17e" d="M27 8h1M21 9h1M8 11h1M54 11h1M7 12h1M54 13h1M99 13h1M118 13h1M150 14h1M66 15h1M8 18h1M82 18h1M24 19h1M61 19h1M88 19h2M93 19h1M98 19h1M104 19h1M19 20h1M24 20h1M44 22h1M61 22h1M105 23h1M24 24h1"/>
<path stroke="#2fb47c" d="M50 8h1M130 8h1M51 14h1M108 14h1M110 14h1M52 16h1M37 17h1M45 17h1M2 19h1M72 19h1M96 19h1M13 23h1M102 23h1M2 25h1M4 25h1"/>
<path stroke="#34b679" d="M114 3h1M33 9h1M97 10h1M140 10h1M9 11h1M21 11h1M145 13h1M23 17h1M47 17h1M57 18h1M0 19h1M91 19h1M76 22h1M15 23h1"/>
<path stroke="#38b977" d="M120 3h1M112 8h1M98 10h1M118 11h1M16 12h1M135 12h1M19 13h1M93 13h1M26 14h1M33 14h1M85 15h1M16 16h1M19 17h1M32 17h1M58 17h1M71 17h1M34 18h1M92 19h1M15 20h1M9 21h1"/>
<path stroke="#3dbc74" d="M116 3h1M63 8h1M42 11h1M110 12h1M16 14h1M64 14h1M51 15h1M70 15h1M22 17h1M34 17h1M72 17h1M52 18h1M55 18h1M18 19h1M99 19h1M103 19h1M0 21h1M4 24h1"/>
<path stroke="#42be71" d="M81 7h1M47 9h1M135 9h1M108 11h1M120 11h1M57 13h1M95 13h1M108 13h1M60 14h1M8 16h1M84 16h1M83 17h1M49 18h1M64 18h1M22 19h1M75 19h1M97 19h1M13 21h1"/>
<path stroke="#48c16e" d="M27 3h1M90 8h1M120 9h1M89 10h1M78 12h1M51 13h1M55 13h1M52 15h1M114 15h1M50 16h1M0 18h1M66 18h1M6 19h1M38 19h1M48 19h1M12 22h1M3 23h1M5 23h1"/>
<path stroke="#4ec36b" d="M63 5h1M27 6h1M120 6h1M78 11h1M118 12h1M150 12h1M91 13h1M112 13h1M10 17h1M43 17h1M67 17h1M104 17h1M9 18h2M62 18h1M106 18h1M15 19h1M105 19h1M4 22h1"/>
<path stroke="#54c568" d="M27 5h1M116 5h1M135 8h1M26 11h1M125 11h1M70 13h1M57 14h1M64 15h1M36 16h1M55 16h1M62 16h1M24 17h1M98 17h1M95 19h1M13 22h1M12 23h1"/>
<path stroke="#5ac864" d="M63 7h1M39 15h1M68 15h1M106 15h1M86 16h1M75 17h1M41 19h1M60 19h1M87 19h1M112 19h1"/>
<path stroke="#60ca60" d="M120 8h1M26 9h1M79 9h1M94 10h1M22 15h1M57 15h1M42 16h1M45 16h1M83 16h1M8 17h1M65 17h1M15 18h1M86 18h1M1 27h1"/>
<path stroke="#67cc5c" d="M118 3h1M50 7h1M120 7h1M78 9h1M65 10h1M93 10h1M66 13h1M84 14h1M48 15h1M55 15h1M59 17h1M87 17h1M32 19h1M59 20h1"/>
<path stroke="#6ece58" d="M54 9h1M80 9h1M54 10h1M70 10h1M84 10h1M82 12h1M112 12h1M150 13h1M72 14h1M34 15h1M36 15h1M73 15h1M23 16h1M13 17h1M100 17h1M91 18h1M104 18h1M11 19h1M44 19h1M3 22h1"/>
<path stroke="#75d054" d="M114 5h1M53 6h1M90 6h1M78 10h1M150 11h1M49 12h1M59 12h1M49 13h1M84 13h1M114 13h1M85 14h1M102 14h1M62 15h1M49 16h1M56 18h1M93 18h1M14 19h1M69 19h1M76 19h1M4 23h1M1 26h2"/>
<path stroke="#7cd250" d="M80 5h1M130 6h1M21 7h1M100 10h1M16 11h1M112 11h1M145 11h1M23 12h1M108 12h1M17 13h1M62 13h1M68 13h1M17 14h1M52 14h1M62 14h1M23 15h1M46 15h1M20 16h1M66 16h1M77 16h1M6 17h1M9 17h1M15 17h1M89 17h1M99 18h1M5 20h1M5 21h1M5 22h1"/>
<path stroke="#84d44b" d="M90 7h1M118 8h1M73 9h1M95 10h1M110 13h1M49 14h2M105 14h1M49 15h1M74 16h1M88 18h1M103 18h1M30 19h1M31 20h1M12 21h1M3 24h1"/>
<path stroke="#8bd646" d="M27 7h1M33 7h1M140 7h1M64 13h1M8 14h1M70 14h1M93 14h1M8 15h1M34 16h1M40 16h1M46 16h1M73 16h1M48 17h1M88 17h1M92 17h1M96 17h1M101 17h1M35 18h1M42 18h1M92 18h1M94 18h1M96 18h1M25 19h1M31 19h1M29 20h1M14 21h1"/>
<path stroke="#93d741" d="M53 3h1M64 7h1M125 7h1M116 8h1M116 10h1M60 11h1M105 13h1M95 14h1M61 15h1M84 15h1M106 16h1M102 17h2M102 18h1"/>
<path stroke="#9bd93c" d="M78 3h1M116 9h1M21 10h1M26 10h1M120 10h1M64 11h1M81 11h1M51 12h1M145 12h1M36 13h1M104 15h1M28 16h1M105 17h1M97 18h1M29 19h1M1 25h1"/>
<path stroke="#a2da37" d="M112 5h1M125 6h1M140 6h1M79 10h1M81 10h2M17 12h1M57 12h1M97 13h1M68 14h1M91 14h1M50 15h1M60 16h1M71 16h1M95 17h1M6 18h1M29 18h1M40 18h1M85 18h1M5 19h1M1 24h1"/>
<path stroke="#aadc32" d="M140 5h1M21 8h1M104 11h1M81 12h1M106 13h1M88 14h1M47 15h1M0 16h1M48 16h1M0 17h1M93 17h1M11 18h1M46 18h1M51 18h1M87 18h1M102 19h1M30 20h1M4 21h1M1 23h1"/>
<path stroke="#b2dd2d" d="M53 2h1M80 7h1M7 9h1M101 10h1M110 10h1M52 11h1M116 11h1M56 12h1M70 12h1M34 13h1M87 15h1M100 15h1M15 16h1M32 16h1M56 16h1M61 16h1M47 18h1M73 18h1M83 18h2M95 18h1M100 18h1"/>
<path stroke="#bade28" d="M27 4h1M64 10h1M36 12h1M56 13h1M5 14h1M36 14h1M66 14h1M103 14h1M6 15h1M9 15h1M56 15h1M86 15h1M88 15h1M91 15h1M99 15h1M101 15h1M22 16h1M41 16h1M58 16h1M91 17h1M94 17h1M14 18h1M14 20h1"/>
<path stroke="#c2df23" d="M80 6h1M80 8h1M52 10h1M145 10h1M150 10h1M36 11h1M68 11h1M87 11h1M110 11h1M66 12h1M86 13h1M89 13h1M86 14h1M102 15h1M9 16h1M18 16h1M35 16h1M76 16h1M85 16h1M97 17h1M99 17h1M20 18h1M50 18h1M67 18h1M105 18h1M4 20h1"/>
<path stroke="#cae11f" d="M63 6h1M70 11h1M55 12h1M64 12h1M34 14h1M100 14h1M10 15h1M35 15h1M43 16h1M47 16h1M67 16h1M5 18h1M58 18h1M12 20h1"/>
<path stroke="#d2e21b" d="M125 5h1M130 5h1M150 6h1M79 8h1M23 9h1M114 9h1M57 10h1M17 11h1M98 11h1M114 11h1M56 14h1M39 16h1M65 16h1M32 18h1M89 18h1M13 20h1"/>
<path stroke="#dae319" d="M135 5h1M135 6h1M54 8h1M16 10h1M49 11h1M51 11h1M0 13h1M20 15h1M83 15h1M96 15h1M11 17h1M29 17h1M71 18h1M98 18h1M101 18h1M3 20h1"/>
<path stroke="#e2e418" d="M53 5h1M135 7h1M17 9h1M7 10h1M76 10h1M114 10h1M118 10h1M8 13h1M92 15h1M10 16h1M72 16h1"/>
<path stroke="#eae51a" d="M53 4h1M63 4h1M21 6h1M54 7h1M82 11h1M85 11h1M50 13h1M55 14h1M106 14h1M89 15h1M44 16h1M69 16h1M28 18h1M37 18h1M48 18h1M2 23h1"/>
<path stroke="#f1e51d" d="M73 14h1M37 16h1M23 18h1"/>
<path stroke="#f6e620" d="M46 14h1M59 16h1M24 18h1M45 18h1"/>
<path stroke="#fde725" d="M0 0h107M108 0h1M110 0h1M112 0h1M114 0h1M116 0h1M118 0h1M120 0h1M125 0h1M130 0h1M135 0h1M140 0h1M145 0h1M150 0h1M0 1h107M108 1h1M110 1h1M112 1h1M114 1h1M116 1h1M118 1h1M120 1h1M125 1h1M130 1h1M135 1h1M140 1h1M145 1h1M150 1h1M0 2h53M54 2h53M108 2h1M110 2h1M112 2h1M114 2h1M116 2h1M118 2h1M120 2h1M125 2h1M130 2h1M135 2h1M140 2h1M145 2h1M150 2h1M0 3h7M8 3h18M28 3h25M54 3h24M79 3h28M108 3h1M110 3h1M112 3h1M125 3h1M130 3h1M135 3h1M140 3h1M145 3h1M150 3h1M0 4h27M28 4h25M54 4h9M64 4h43M108 4h1M110 4h1M114 4h1M116 4h1M118 4h1M120 4h1M125 4h1M130 4h1M135 4h1M140 4h1M145 4h1M150 4h1M0 5h27M28 5h25M54 5h9M64 5h16M81 5h26M108 5h1M110 5h1M120 5h1M145 5h1M150 5h1M0 6h21M22 6h5M28 6h25M54 6h9M64 6h16M81 6h9M91 6h16M108 6h1M110 6h1M112 6h1M116 6h1M118 6h1M145 6h1M0 7h21M22 7h5M28 7h5M34 7h16M51 7h2M55 7h8M65 7h15M82 7h8M91 7h16M108 7h1M110 7h1M112 7h1M114 7h1M116 7h1M145 7h1M150 7h1M0 8h21M22 8h5M28 8h8M37 8h13M51 8h2M55 8h8M64 8h15M81 8h9M91 8h16M108 8h1M110 8h1M114 8h1M145 8h1M150 8h1M0 9h7M8 9h9M18 9h3M22 9h1M24 9h2M28 9h5M34 9h13M48 9h5M55 9h8M64 9h9M74 9h4M81 9h9M91 9h16M108 9h1M110 9h1M112 9h1M145 9h1M150 9h1M0 10h7M8 10h8M17 10h1M19 10h2M22 10h4M29 10h4M34 10h18M55 10h2M58 10h5M66 10h3M71 10h5M77 10h1M83 10h1M85 10h1M87 10h2M91 10h2M96 10h1M99 10h1M102 10h5M108 10h1M112 10h1M0 11h7M10 11h6M18 11h3M22 11h4M28 11h5M34 11h2M37 11h5M43 11h6M50 11h1M55 11h5M61 11h2M65 11h3M69 11h1M71 11h7M83 11h2M86 11h1M88 11h2M91 11h7M99 11h5M105 11h2M0 12h7M8 12h8M18 12h3M22 12h1M24 12h2M28 12h5M34 12h2M37 12h12M50 12h1M52 12h1M58 12h1M60 12h3M65 12h1M67 12h3M71 12h7M83 12h7M91 12h16M1 13h6M9 13h7M18 13h1M20 13h1M22 13h4M28 13h5M35 13h1M37 13h12M58 13h4M65 13h1M67 13h1M69 13h1M71 13h7M83 13h1M85 13h1M87 13h2M102 13h3M0 14h5M6 14h1M9 14h7M19 14h2M22 14h4M28 14h5M35 14h1M37 14h9M47 14h2M58 14h2M61 14h1M65 14h1M67 14h1M69 14h1M71 14h1M74 14h4M83 14h1M87 14h1M89 14h1M92 14h1M94 14h1M96 14h4M101 14h1M104 14h1M0 15h6M11 15h5M18 15h2M24 15h2M28 15h5M37 15h2M40 15h6M58 15h3M65 15h1M67 15h1M69 15h1M71 15h2M74 15h4M93 15h3M97 15h2M103 15h1M105 15h1M1 16h6M11 16h4M19 16h1M24 16h2M29 16h3M38 16h1M75 16h1M1 17h5M12 17h1M14 17h1M25 17h1M30 17h2M38 17h1M44 17h1M1 18h4M12 18h2M18 18h2M22 18h1M25 18h1M30 18h2M38 18h2M41 18h1M43 18h2M59 18h3M65 18h1M69 18h1M72 18h1M74 18h4M1 19h1M3 19h2M12 19h2M1 20h2M1 21h3M1 22h2M2 24h1"/>
</g></g>
<rect x="1016.5" y="85.45" width="36.1" height="737" fill="url(#vir)"/>
<g fill="none" stroke="#000" stroke-width="1.11">
<rect x="98.45" y="85.45" width="864.05" height="737"/>
<rect x="1016.5" y="85.45" width="36.1" height="737"/>
<path d="M179.45 822.45v5.31M287.46 822.45v5.31M395.47 822.45v5.31M503.47 822.45v5.31M611.48 822.45v5.31M719.49 822.45v5.31M827.49 822.45v5.31M935.5 822.45v5.31M98.45 810.37h-4.86M98.45 689.55h-4.86M98.45 568.73h-4.86M98.45 447.91h-4.86M98.45 327.09h-4.86M98.45 206.27h-4.86M98.45 85.45h-4.86M1052.6 822.45h4.86M1052.6 699.62h4.86M1052.6 576.78h4.86M1052.6 453.95h4.86M1052.6 331.12h4.86M1052.6 208.28h4.86M1052.6 85.45h4.86"/>
</g>
<g font-family="'DejaVu Sans','Liberation Sans',sans-serif" font-size="20.83px" fill="#000">
<text x="179.45" y="847.6" text-anchor="middle">2</text>
<text x="287.46" y="847.6" text-anchor="middle">4</text>
<text x="395.47" y="847.6" text-anchor="middle">6</text>
<text x="503.47" y="847.6" text-anchor="middle">8</text>
<text x="610.98" y="847.6" text-anchor="middle">10</text>
<text x="718.99" y="847.6" text-anchor="middle">12</text>
<text x="826.99" y="847.6" text-anchor="middle">14</text>
<text x="935" y="847.6" text-anchor="middle">16</text>
<text x="87.4" y="817.97" text-anchor="end">0</text>
<text x="87.4" y="697.15" text-anchor="end">100</text>
<text x="87.4" y="576.33" text-anchor="end">200</text>
<text x="87.4" y="455.51" text-anchor="end">300</text>
<text x="87.4" y="334.69" text-anchor="end">400</text>
<text x="87.4" y="213.87" text-anchor="end">500</text>
<text x="87.4" y="93.05" text-anchor="end">600</text>
<text x="1062.7" y="830.05">0</text>
<text x="1062.7" y="707.22">5</text>
<text x="1062.7" y="584.38">10</text>
<text x="1062.7" y="461.55">15</text>
<text x="1062.7" y="338.72">20</text>
<text x="1062.7" y="215.88">25</text>
<text x="1062.7" y="93.05">30</text>
<text x="528.8" y="873.7" text-anchor="middle">Frequency (MHz)</text>
<text transform="translate(37.8,454.8) rotate(-90)" text-anchor="middle">Virtual range (km)</text>
<text transform="translate(1109.2,455.0) rotate(-90)" text-anchor="middle">SNR (dB)</text>
<text x="529.5" y="43.8" text-anchor="middle" font-size="27.78px" xml:space="preserve" style="white-space:pre">IRF Kiruna Ionosonde KI167 2025-10-01 20:45:00  UT</text>
<text x="529.0" y="76.6" text-anchor="middle" font-size="27.78px">noise_floor=-119.43 (dB) peak SNR=99.22</text>
</g>
</svg>
</body></html>
